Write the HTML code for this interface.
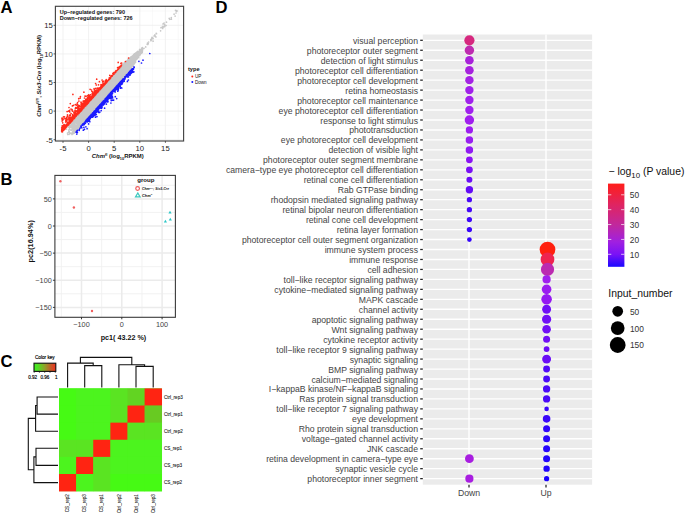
<!DOCTYPE html>
<html><head><meta charset="utf-8"><style>
html,body{margin:0;padding:0;background:#fff;}
svg{display:block;font-family:"Liberation Sans", sans-serif;}
</style></head><body>
<svg width="685" height="513" viewBox="0 0 685 513">
<rect width="685" height="513" fill="#fff"/>
<text x="0.6" y="13.2" font-size="16.6" font-weight="bold" fill="#000">A</text>
<text x="0.6" y="185" font-size="16.6" font-weight="bold" fill="#000">B</text>
<text x="0.6" y="366.9" font-size="16.6" font-weight="bold" fill="#000">C</text>
<text x="215.6" y="13.2" font-size="16.6" font-weight="bold" fill="#000">D</text>
<rect x="55.4" y="6.3" width="128.2" height="134.7" fill="#fff"/>
<line x1="75.80" y1="6.3" x2="75.80" y2="141.0" stroke="#f5f5f5" stroke-width="0.6"/>
<line x1="101.40" y1="6.3" x2="101.40" y2="141.0" stroke="#f5f5f5" stroke-width="0.6"/>
<line x1="127.00" y1="6.3" x2="127.00" y2="141.0" stroke="#f5f5f5" stroke-width="0.6"/>
<line x1="152.60" y1="6.3" x2="152.60" y2="141.0" stroke="#f5f5f5" stroke-width="0.6"/>
<line x1="178.20" y1="6.3" x2="178.20" y2="141.0" stroke="#f5f5f5" stroke-width="0.6"/>
<line x1="55.4" y1="125.40" x2="183.6" y2="125.40" stroke="#f5f5f5" stroke-width="0.6"/>
<line x1="55.4" y1="96.80" x2="183.6" y2="96.80" stroke="#f5f5f5" stroke-width="0.6"/>
<line x1="55.4" y1="68.20" x2="183.6" y2="68.20" stroke="#f5f5f5" stroke-width="0.6"/>
<line x1="55.4" y1="39.60" x2="183.6" y2="39.60" stroke="#f5f5f5" stroke-width="0.6"/>
<line x1="55.4" y1="11.00" x2="183.6" y2="11.00" stroke="#f5f5f5" stroke-width="0.6"/>
<line x1="63.00" y1="6.3" x2="63.00" y2="141.0" stroke="#eeeeee" stroke-width="0.8"/>
<line x1="55.4" y1="139.70" x2="183.6" y2="139.70" stroke="#eeeeee" stroke-width="0.8"/>
<line x1="88.60" y1="6.3" x2="88.60" y2="141.0" stroke="#eeeeee" stroke-width="0.8"/>
<line x1="55.4" y1="111.10" x2="183.6" y2="111.10" stroke="#eeeeee" stroke-width="0.8"/>
<line x1="114.20" y1="6.3" x2="114.20" y2="141.0" stroke="#eeeeee" stroke-width="0.8"/>
<line x1="55.4" y1="82.50" x2="183.6" y2="82.50" stroke="#eeeeee" stroke-width="0.8"/>
<line x1="139.80" y1="6.3" x2="139.80" y2="141.0" stroke="#eeeeee" stroke-width="0.8"/>
<line x1="55.4" y1="53.90" x2="183.6" y2="53.90" stroke="#eeeeee" stroke-width="0.8"/>
<line x1="165.40" y1="6.3" x2="165.40" y2="141.0" stroke="#eeeeee" stroke-width="0.8"/>
<line x1="55.4" y1="25.30" x2="183.6" y2="25.30" stroke="#eeeeee" stroke-width="0.8"/>
<path d="M114.6 87.3h0M118.2 78.9h0M89.3 116.1h0M109.7 87.5h0M116.7 82.6h0M107.5 82.2h0M82.1 124.0h0M120.1 80.0h0M84.0 110.3h0M90.9 105.3h0M123.3 70.5h0M73.7 131.0h0M97.1 99.2h0M109.6 89.5h0M103.0 92.8h0M97.9 94.0h0M98.4 104.7h0M134.8 55.9h0M88.8 116.6h0M106.8 84.1h0M91.5 103.8h0M95.1 97.6h0M123.9 68.1h0M93.4 102.4h0M140.5 53.0h0M99.8 95.0h0M88.2 115.4h0M73.6 122.7h0M82.1 118.8h0M115.9 80.3h0M120.3 69.1h0M92.2 107.2h0M125.7 73.5h0M81.6 121.8h0M87.5 109.9h0M67.7 134.5h0M81.2 115.4h0M94.7 101.4h0M127.2 63.0h0M130.5 64.4h0M113.2 88.4h0M109.2 91.3h0M85.0 120.7h0M78.5 127.2h0M107.0 96.4h0M126.8 72.1h0M85.2 115.8h0M96.2 94.1h0M101.0 102.1h0M106.0 94.1h0M117.5 84.8h0M125.0 74.4h0M118.5 69.5h0M128.5 68.5h0M107.7 93.5h0M87.2 114.1h0M95.5 95.0h0M130.7 59.2h0M101.7 99.4h0M103.9 99.9h0M107.6 92.4h0M116.8 72.0h0M141.9 51.1h0M81.4 122.5h0M91.9 100.4h0M124.0 68.1h0M102.3 100.8h0M121.3 69.7h0M95.4 107.1h0M95.9 94.8h0M122.3 73.8h0M129.0 68.9h0M78.5 115.2h0M117.7 70.3h0M121.5 75.4h0M106.7 82.7h0M106.8 89.2h0M123.1 65.9h0M118.5 80.2h0M106.3 93.7h0M119.8 80.6h0M121.4 73.9h0M114.8 74.5h0M99.1 97.7h0M117.0 82.9h0M95.3 107.3h0M106.9 86.2h0M99.5 96.9h0M117.0 84.0h0M105.6 86.9h0M114.2 80.5h0M115.4 78.3h0M99.4 97.7h0M92.8 105.6h0M128.5 60.5h0M119.5 74.5h0M131.4 66.2h0M87.7 117.3h0M74.6 123.1h0M109.4 80.8h0M93.7 101.8h0M96.8 93.8h0M98.0 100.9h0M125.8 73.2h0M104.2 92.3h0M108.6 84.3h0M90.3 108.9h0M84.7 112.4h0M114.4 87.6h0M140.2 49.9h0M82.7 123.4h0M104.8 93.0h0M131.0 65.4h0M97.5 99.0h0M111.1 90.9h0M93.2 106.0h0M97.8 97.7h0M123.8 77.1h0M123.5 73.4h0M116.1 72.9h0M77.5 121.9h0M76.6 128.4h0M80.5 121.8h0M106.0 90.5h0M85.2 121.0h0M69.7 127.6h0M96.6 105.6h0M110.2 81.1h0M103.5 93.4h0M122.3 72.3h0M115.3 75.2h0M104.4 90.3h0M103.4 98.9h0M94.2 107.3h0M75.2 119.8h0M127.9 68.9h0M83.6 116.2h0M87.8 114.4h0M142.1 50.0h0M98.3 102.0h0M108.4 95.2h0M92.9 109.5h0M107.5 96.2h0M75.5 126.1h0M70.6 133.0h0M91.0 106.8h0M96.1 95.9h0M91.2 109.6h0M133.7 57.4h0M125.1 63.4h0M111.0 81.4h0M113.9 81.6h0M130.7 59.1h0M115.6 74.0h0M102.8 101.1h0M85.5 119.2h0M125.6 66.8h0M98.2 96.5h0M124.7 66.0h0M105.9 90.1h0M121.6 76.8h0M82.7 113.1h0M94.2 96.6h0M112.6 84.9h0M98.1 97.6h0M88.7 116.1h0M82.3 113.3h0M103.9 99.3h0M92.8 102.4h0M104.8 95.0h0M93.7 109.9h0M118.3 69.7h0M114.6 81.6h0M108.1 81.2h0M104.6 85.4h0M90.9 112.7h0M112.8 76.2h0M95.7 101.9h0M128.6 68.7h0M124.2 77.3h0M88.9 110.4h0M111.8 86.8h0M114.2 77.6h0M116.7 72.3h0M113.1 76.6h0M98.0 92.0h0M113.2 84.5h0M105.0 97.6h0M120.0 68.3h0M82.7 116.4h0M85.9 106.2h0M130.8 61.3h0M133.5 59.3h0M108.8 94.0h0M88.4 108.1h0M111.0 91.7h0M116.8 78.9h0M100.3 89.8h0M92.5 108.5h0M122.3 73.8h0M78.9 125.1h0M124.4 74.1h0M134.6 59.0h0M80.2 125.5h0M112.2 87.2h0M109.8 80.5h0M96.0 101.3h0M111.3 87.0h0M83.1 109.2h0M89.2 107.4h0M118.6 79.8h0M86.6 113.0h0M131.6 57.8h0M71.5 125.9h0M123.9 69.2h0M86.4 106.1h0M131.7 56.5h0M76.5 128.6h0M94.9 99.6h0M82.2 113.2h0M102.6 90.1h0M97.5 97.9h0M104.5 97.7h0M92.1 103.1h0M74.4 125.5h0M99.7 96.1h0M83.8 115.9h0M127.4 61.5h0M110.4 89.5h0M98.2 96.2h0M118.0 74.5h0M107.2 92.8h0M112.4 90.3h0M102.0 96.2h0M111.6 80.6h0M123.7 75.1h0M135.3 54.8h0M81.2 114.3h0M117.5 82.3h0M87.1 109.2h0M117.2 79.6h0M98.4 104.3h0M73.7 128.2h0M132.3 58.6h0M141.7 51.6h0M97.8 96.1h0M92.7 107.2h0M101.8 97.8h0M110.8 78.2h0M85.4 108.7h0M123.1 78.2h0M104.0 94.7h0M118.2 79.0h0M114.8 82.0h0M105.8 97.6h0M97.5 103.6h0M102.4 88.6h0M101.7 93.6h0M93.7 107.0h0M132.3 66.5h0M118.7 69.8h0M81.7 118.1h0M133.7 60.7h0M87.4 111.4h0M117.9 72.7h0M97.9 94.8h0M98.0 102.1h0M99.5 93.6h0M80.3 115.4h0M74.0 133.2h0M91.7 100.8h0M134.8 62.3h0M89.1 106.3h0M132.3 64.0h0M93.8 100.5h0M127.8 71.1h0M120.2 73.6h0M94.5 99.9h0M82.1 121.0h0M96.9 99.6h0M78.8 120.8h0M95.5 100.0h0M133.2 60.4h0M125.9 63.5h0M115.0 83.5h0M80.1 112.5h0M114.9 75.1h0M101.1 99.6h0M110.3 84.3h0M103.8 97.2h0M110.1 89.6h0M111.1 82.5h0M69.1 134.3h0M109.2 91.4h0M114.0 80.8h0M76.2 125.4h0M102.5 99.5h0M101.9 96.5h0M96.1 104.4h0M130.4 65.0h0M129.4 66.1h0M94.0 108.4h0M97.2 101.5h0M122.5 66.4h0M78.2 126.6h0M90.3 106.0h0M116.0 77.5h0M99.5 101.0h0M105.3 84.9h0M88.9 105.1h0M134.1 62.8h0M134.2 59.2h0M97.6 101.6h0M126.9 62.7h0M95.1 106.9h0M117.0 82.9h0M86.6 111.9h0M88.9 115.3h0M93.9 98.1h0M90.5 104.0h0M96.0 107.3h0M91.1 110.0h0M100.8 95.1h0M99.2 99.1h0M91.7 106.6h0M94.6 99.0h0M95.7 106.8h0M109.9 87.2h0M87.7 110.8h0M92.1 112.2h0M109.0 83.0h0M117.5 79.5h0M117.0 72.9h0M139.6 50.7h0M98.5 99.0h0M133.0 63.9h0M109.8 79.9h0M85.3 109.9h0M97.1 103.8h0M113.4 76.0h0M82.6 116.5h0M115.5 86.8h0M78.9 114.3h0M110.7 81.1h0M89.8 106.6h0M101.5 90.0h0M86.0 118.7h0M138.6 54.9h0M94.8 106.6h0M138.0 55.8h0M99.2 94.5h0M95.7 105.7h0M107.9 81.2h0M100.7 103.9h0M78.4 119.6h0M97.5 99.8h0M116.9 82.4h0M106.3 92.4h0M85.4 117.6h0M105.6 89.6h0M91.8 106.7h0M97.8 103.5h0M75.9 122.1h0M130.2 64.6h0M69.1 129.6h0M96.4 102.1h0M129.2 67.7h0M115.1 79.9h0M118.0 81.0h0M94.9 110.1h0M111.0 89.3h0M103.3 93.4h0M108.1 91.0h0M99.4 104.7h0M130.2 60.9h0M96.1 97.9h0M104.9 95.8h0M81.6 124.6h0M93.7 100.5h0M115.1 83.9h0M91.5 107.7h0M97.1 98.3h0M134.3 55.1h0M82.5 120.6h0M104.3 85.8h0M95.2 105.1h0M97.3 98.3h0M125.1 66.8h0M136.9 53.1h0M112.7 79.7h0M96.5 104.0h0M91.8 112.6h0M117.2 85.1h0M97.6 102.2h0M94.4 99.9h0M91.1 109.2h0M93.1 100.2h0M115.6 74.4h0M133.5 63.8h0M76.7 130.2h0M130.8 61.2h0M127.1 69.8h0M76.0 120.2h0M84.4 115.8h0M82.4 120.1h0M99.1 91.3h0M112.5 78.1h0M116.4 79.9h0M107.6 91.0h0M98.2 93.8h0M95.7 106.9h0M80.5 115.1h0M132.2 61.4h0M103.7 88.6h0M89.0 111.8h0M119.5 68.8h0M109.2 87.0h0M92.1 112.3h0M121.8 70.0h0M98.5 100.4h0M98.2 93.4h0M96.9 107.7h0M82.6 110.7h0M89.3 113.1h0M120.8 73.5h0M105.8 93.0h0M90.0 113.5h0M127.8 63.0h0M87.6 107.0h0M113.9 76.0h0M80.1 122.4h0M114.0 76.4h0M78.7 124.8h0M99.2 100.7h0M98.4 95.6h0M98.2 105.1h0M104.6 84.9h0M104.3 96.9h0M94.1 109.7h0M86.3 119.5h0M109.7 86.4h0M89.5 109.5h0M91.4 108.2h0M115.0 79.3h0M99.3 99.2h0M93.8 98.4h0M99.0 95.7h0M85.5 114.1h0M102.1 96.1h0M102.0 91.8h0M105.5 91.8h0M116.8 79.8h0M111.7 81.9h0M102.6 96.0h0M108.5 87.1h0M95.0 96.3h0M105.0 97.5h0M89.0 109.4h0M101.1 91.1h0M83.4 120.1h0M119.5 77.1h0M127.8 68.1h0M83.0 117.7h0M87.1 112.8h0M127.1 69.0h0M81.3 114.5h0M125.0 73.4h0M99.7 103.0h0M110.2 81.3h0M91.9 110.3h0M135.7 56.0h0M108.2 83.4h0M101.8 100.8h0M121.5 68.0h0M86.0 116.6h0M118.5 81.2h0M93.8 107.4h0M83.8 115.6h0M95.2 104.6h0M131.7 66.7h0M132.8 57.6h0M95.9 99.8h0M69.1 125.0h0M93.5 108.2h0M78.1 125.6h0M102.0 89.0h0M110.6 90.3h0M126.7 63.6h0M120.4 69.4h0M93.3 104.3h0M93.8 105.1h0M125.6 72.0h0M78.0 121.9h0M88.3 115.6h0M92.1 100.6h0M96.1 102.1h0M105.6 88.5h0M121.9 74.0h0M132.9 59.0h0M120.0 72.2h0M121.0 66.6h0M108.1 88.4h0M114.9 77.3h0M94.2 105.7h0M123.7 70.4h0M108.3 89.1h0M116.6 73.8h0M110.6 85.3h0M95.8 101.8h0M138.8 51.7h0M101.8 93.9h0M113.8 77.6h0M93.9 98.4h0M114.1 88.8h0M97.5 98.4h0M108.3 83.7h0M126.7 65.8h0M100.7 93.7h0M92.7 106.0h0M91.8 112.3h0M72.0 124.5h0M127.6 68.1h0M130.3 62.6h0M83.9 116.4h0M91.5 100.2h0M90.6 114.5h0M95.5 101.1h0M123.3 78.4h0M112.0 82.4h0M134.3 59.2h0M117.9 81.5h0M114.7 86.4h0M133.0 56.5h0M70.0 127.5h0M94.1 108.5h0M94.8 99.8h0M129.1 69.8h0M102.5 88.0h0M98.2 96.0h0M69.6 128.9h0M93.9 110.2h0M104.7 86.6h0M99.1 104.8h0M95.2 100.0h0M95.3 104.5h0M100.3 95.0h0M91.3 100.4h0M117.9 76.2h0M132.5 58.8h0M121.0 72.2h0M140.6 51.3h0M116.3 80.1h0M121.9 70.0h0M121.0 77.0h0M82.6 117.8h0M93.6 99.6h0M115.1 75.4h0M114.9 83.9h0M130.7 60.7h0M121.3 79.6h0M95.1 98.2h0M94.4 97.1h0M91.5 104.1h0M107.7 84.9h0M113.4 82.8h0M95.4 98.3h0M90.9 101.5h0M124.9 69.8h0M108.1 92.9h0M112.0 85.8h0M94.9 108.2h0M98.8 100.4h0M92.0 101.8h0M91.3 109.3h0M113.0 89.9h0M98.7 93.3h0M97.9 95.5h0M102.1 88.3h0M117.1 81.8h0M80.5 123.8h0M73.1 126.4h0M123.6 64.2h0M115.5 78.4h0M80.4 124.8h0M119.5 74.5h0M120.9 75.5h0M101.2 101.0h0M142.3 51.4h0M82.4 119.1h0M132.7 57.1h0M95.1 99.6h0M109.1 92.3h0M105.2 84.9h0M101.2 92.1h0M84.5 118.1h0M88.6 114.8h0M78.2 119.0h0M93.7 108.7h0M97.6 104.0h0M132.0 57.2h0M87.8 116.8h0M131.4 60.6h0M119.2 78.1h0M124.0 68.5h0M81.2 124.8h0M99.8 91.9h0M86.9 117.0h0M103.5 88.2h0M111.7 86.9h0M116.5 71.6h0M97.0 98.0h0M88.6 113.2h0M80.5 121.0h0M142.3 47.7h0M83.5 109.8h0M93.9 107.1h0M132.3 57.8h0M116.4 84.3h0M95.9 101.4h0M87.5 105.0h0M90.7 113.0h0M94.8 99.9h0M74.9 131.4h0M96.9 105.1h0M105.7 87.7h0M99.2 104.5h0M101.9 96.5h0M123.9 72.9h0M131.9 61.7h0M97.3 100.6h0M119.7 79.9h0M121.7 78.0h0M112.2 82.2h0M89.6 109.7h0M117.9 72.6h0M120.8 70.9h0M117.2 74.3h0M96.7 94.2h0M92.3 105.2h0M98.3 103.2h0M76.2 127.5h0M104.4 99.3h0M93.4 109.1h0M91.3 105.8h0M104.0 87.2h0M100.7 103.2h0M88.9 109.6h0M113.4 87.7h0M113.1 77.2h0M90.7 103.9h0M95.8 95.4h0M87.4 110.9h0M115.4 73.5h0M101.3 98.2h0M112.3 76.4h0M122.4 67.1h0M89.5 102.1h0M119.3 76.8h0M95.2 104.6h0M115.9 79.4h0M78.0 114.8h0M110.3 79.2h0M113.6 76.3h0M92.2 109.4h0M84.7 117.7h0M118.8 79.9h0M98.6 99.7h0M120.1 77.7h0M116.0 72.6h0M115.4 83.5h0M99.5 103.3h0M83.6 116.9h0M104.2 96.3h0M90.2 103.2h0M91.4 111.3h0M98.8 99.1h0M96.3 104.2h0M81.2 118.0h0M97.6 98.6h0M85.3 108.2h0M90.4 108.1h0M114.5 77.0h0M74.2 120.6h0M104.8 98.4h0M89.2 115.1h0M98.2 95.7h0M84.9 116.3h0M112.0 82.1h0M131.0 62.4h0M104.7 92.3h0M87.4 108.2h0M116.8 72.9h0M94.7 101.9h0M119.1 77.1h0M102.2 89.2h0M96.9 101.3h0M113.6 85.1h0M95.5 104.9h0M101.9 89.9h0M99.1 101.2h0M90.8 106.3h0M97.5 102.7h0M131.4 57.0h0M87.3 105.3h0M72.8 126.6h0M107.9 82.2h0M68.2 132.5h0M96.3 98.6h0M96.4 103.4h0M128.1 65.5h0M85.9 114.4h0M116.8 77.4h0M134.0 59.4h0M80.1 121.8h0M80.2 114.6h0M84.3 107.6h0M124.7 75.4h0M128.3 61.4h0M141.2 51.6h0M83.5 115.5h0M108.1 86.3h0M111.8 86.2h0M138.6 57.5h0M107.7 85.8h0M83.9 110.1h0M96.5 98.6h0M89.0 108.7h0M92.3 105.3h0M138.0 55.5h0M78.7 117.1h0M76.1 128.8h0M112.1 79.2h0M69.3 127.5h0M92.2 102.7h0M109.6 92.4h0M126.1 70.2h0M112.9 84.5h0M97.0 99.4h0M123.2 69.5h0M72.5 121.5h0M120.6 68.2h0M100.7 89.6h0M119.3 69.0h0M86.3 109.2h0M84.1 109.4h0M107.6 93.6h0M97.8 104.4h0M135.1 57.4h0M89.9 110.2h0M110.6 80.6h0M107.7 92.4h0M83.3 119.8h0M92.7 107.8h0M93.5 110.5h0M96.0 107.3h0M115.5 84.9h0M88.8 106.4h0M112.6 76.4h0M103.6 97.3h0M116.9 81.8h0M126.2 69.8h0M91.5 111.0h0M116.7 78.4h0M117.8 80.7h0M93.7 103.3h0M115.9 81.1h0M79.6 114.8h0M102.8 93.2h0M101.1 96.0h0M114.0 85.7h0M93.7 107.5h0M109.2 80.8h0M121.3 78.9h0M91.1 114.1h0M100.3 98.2h0M96.9 97.7h0M96.2 103.7h0M107.7 82.5h0M110.3 82.5h0M72.2 133.3h0M83.9 117.0h0M84.1 112.9h0M96.1 100.6h0M105.2 88.7h0M117.0 85.7h0M130.1 66.1h0M96.3 99.7h0M82.0 123.1h0M111.4 80.8h0M93.3 106.3h0M128.6 61.1h0M127.5 67.6h0M128.4 62.5h0M127.1 67.6h0M93.4 105.7h0M119.4 69.2h0M94.6 110.0h0M108.4 87.2h0M138.6 53.7h0M73.7 128.8h0M97.6 104.3h0M116.5 76.2h0M81.9 117.2h0M118.2 70.4h0M98.7 104.0h0M126.8 69.6h0M88.1 115.4h0M100.1 95.7h0M107.6 94.5h0M85.3 115.7h0M73.7 129.8h0M93.4 105.3h0M84.5 115.0h0M107.5 96.1h0M139.8 54.9h0M109.1 79.9h0M115.2 81.3h0M90.1 115.6h0M127.4 64.9h0M127.6 69.7h0M78.0 128.9h0M113.4 77.2h0M111.5 79.2h0M117.7 73.3h0M129.4 66.5h0M95.8 104.6h0M119.6 74.6h0M109.4 93.6h0M98.6 96.9h0M99.1 91.6h0M83.1 116.2h0M83.8 114.1h0M93.2 109.9h0M110.1 92.8h0M104.6 96.7h0M126.1 63.1h0M105.9 91.8h0M98.7 99.9h0M94.5 104.3h0M116.2 84.1h0M84.8 115.0h0M101.4 101.8h0M111.3 85.2h0M141.4 49.1h0M142.0 49.7h0M120.5 72.7h0M111.4 83.4h0M124.0 68.2h0M93.1 111.9h0M93.0 105.8h0M92.6 107.4h0M124.1 71.5h0M95.6 107.9h0M97.0 99.9h0M96.5 104.8h0M89.8 112.3h0M101.2 95.1h0M90.7 113.3h0M101.8 96.6h0M87.6 105.6h0M103.2 90.5h0M130.2 60.8h0M95.9 103.4h0M98.2 98.3h0M127.2 71.8h0M112.9 84.7h0M91.2 111.3h0M108.3 84.9h0M117.0 72.7h0M95.8 95.6h0M117.6 73.9h0M106.9 84.7h0M85.9 109.5h0M129.0 70.6h0M89.3 115.1h0M107.2 82.8h0M100.5 100.3h0M87.8 105.8h0M107.2 95.0h0M106.9 94.1h0M101.4 97.4h0M96.7 100.3h0M121.4 68.8h0M114.5 83.4h0M89.1 103.8h0M112.1 78.9h0M107.0 91.0h0M116.8 80.0h0M126.7 73.2h0M122.9 75.8h0M126.3 74.2h0M85.6 113.8h0M97.8 107.0h0M112.0 86.3h0M88.1 103.3h0M78.3 119.0h0M103.6 96.7h0M118.0 76.7h0M134.5 63.2h0M108.4 83.8h0M83.9 113.2h0M101.7 89.8h0M128.2 68.3h0M124.3 66.5h0M98.9 97.7h0M98.0 106.0h0M91.2 107.3h0M134.3 61.5h0M85.2 119.1h0M96.6 101.7h0M97.2 105.3h0M83.8 118.1h0M101.7 94.6h0M121.2 67.3h0M111.4 83.3h0M135.8 54.8h0M108.7 82.0h0M88.7 103.9h0M105.4 96.2h0M93.5 108.7h0M107.8 92.9h0M115.7 84.2h0M93.8 97.3h0M122.7 66.3h0M114.9 86.0h0M89.9 102.9h0M112.1 86.3h0M102.0 92.7h0M101.3 102.4h0M96.7 107.7h0M99.1 96.7h0M88.2 117.6h0M125.8 61.5h0M91.6 103.2h0M116.3 85.0h0M78.1 117.7h0M95.6 103.3h0M93.9 101.7h0M98.3 101.7h0M104.7 88.1h0M122.4 75.0h0M117.2 81.3h0M103.8 86.4h0M68.7 132.5h0M107.0 82.1h0M94.5 109.5h0M77.7 128.6h0M95.4 101.5h0M97.8 101.7h0M79.6 116.5h0M117.5 84.7h0M106.9 89.5h0M136.0 58.4h0M96.3 95.4h0M94.1 110.3h0M107.9 89.9h0M115.4 79.0h0M128.1 64.2h0M82.3 120.6h0M92.9 109.1h0M94.6 101.2h0M113.0 81.7h0M96.5 95.7h0M94.4 98.7h0M105.2 93.9h0M110.4 82.8h0M101.5 96.3h0M111.0 79.3h0M100.5 92.5h0M117.9 71.8h0M135.2 62.4h0M98.4 106.3h0M117.3 74.4h0M79.2 117.7h0M85.0 107.8h0M127.6 72.5h0M95.2 99.8h0M89.2 113.3h0M85.2 119.6h0M98.7 101.4h0M116.7 78.8h0M87.3 116.1h0M116.0 79.3h0M85.3 113.6h0M121.4 77.6h0M141.2 50.0h0M119.6 80.1h0M74.3 132.7h0M94.0 106.0h0M93.2 102.6h0M113.0 82.0h0M127.2 63.9h0M103.1 96.5h0M116.0 81.1h0M103.7 98.4h0M132.2 60.1h0M119.4 73.9h0M105.9 96.3h0M130.3 58.6h0M93.3 107.3h0M112.6 82.4h0M106.0 86.9h0M124.6 68.3h0M134.5 57.4h0M105.4 93.0h0M95.2 100.9h0M113.6 84.6h0M98.1 97.6h0M97.3 100.7h0M103.5 93.0h0M106.6 83.5h0M111.4 84.2h0M108.6 92.5h0M123.6 68.7h0M132.5 57.0h0M86.1 107.8h0M98.2 104.9h0M82.2 123.0h0M109.8 87.0h0M86.5 104.9h0M93.2 105.6h0M110.9 90.2h0M88.2 112.4h0M106.3 92.6h0M115.8 86.7h0M90.7 114.2h0M93.8 107.5h0M106.5 96.0h0M125.9 63.3h0M87.2 107.2h0M103.3 94.4h0M107.8 85.3h0M92.5 101.0h0M114.0 83.3h0M111.7 77.1h0M102.3 96.5h0M103.5 89.5h0M109.1 86.7h0M120.2 81.7h0M95.0 103.4h0M111.4 84.8h0M123.2 71.4h0M96.1 96.8h0M104.8 98.6h0M94.6 102.4h0M106.2 94.5h0M95.6 108.0h0M94.4 102.5h0M93.0 101.9h0M100.1 103.7h0M93.1 97.5h0M112.5 77.7h0M84.8 113.9h0M98.7 102.1h0M84.2 118.5h0M125.6 68.5h0M114.2 75.9h0M108.4 82.5h0M80.5 125.6h0M97.1 100.7h0M114.1 83.5h0M112.9 82.0h0M84.2 114.4h0M128.5 64.6h0M102.7 97.3h0M124.5 65.4h0M81.4 118.8h0M115.4 81.0h0M112.6 89.9h0M115.7 78.3h0M97.5 99.1h0M89.4 106.5h0M105.7 95.2h0M117.2 71.8h0M76.1 129.9h0M116.1 76.9h0M97.2 97.5h0M73.5 123.9h0M96.0 104.8h0M91.0 110.0h0M102.1 100.0h0M120.8 68.9h0M95.3 95.3h0M115.8 77.5h0M90.1 114.3h0M107.7 85.3h0M103.2 88.8h0M97.5 92.6h0M125.0 72.4h0M100.7 92.7h0M109.8 86.5h0M126.4 67.1h0M78.0 125.2h0M131.5 65.1h0M114.9 79.1h0M135.6 53.3h0M103.5 100.0h0M97.8 96.1h0M95.1 105.7h0M90.4 113.9h0M108.0 84.0h0M102.8 93.9h0M92.3 111.3h0M106.2 92.5h0M102.2 99.7h0M121.0 68.7h0M124.0 75.6h0M96.8 106.5h0M100.0 96.7h0M88.3 115.3h0M95.2 107.1h0M105.1 96.0h0M81.9 112.0h0M106.9 82.9h0M104.3 88.1h0M102.6 90.6h0M82.7 123.6h0M98.3 98.8h0M109.0 86.0h0M91.2 102.8h0M102.6 100.8h0M91.3 99.7h0M91.7 103.6h0M94.8 103.6h0M114.4 74.6h0M121.9 74.1h0M82.0 113.8h0M111.2 90.0h0M81.2 120.8h0M142.3 48.4h0M113.5 82.1h0M120.5 72.3h0M91.9 101.2h0M95.7 108.1h0M101.8 88.3h0M110.7 81.6h0M95.9 95.4h0M129.5 60.2h0M95.8 97.1h0M99.3 92.5h0M118.3 70.1h0M98.3 94.8h0M96.0 105.6h0M88.1 114.5h0M102.3 88.6h0M102.9 89.8h0M95.1 100.0h0M131.1 63.5h0M92.4 100.7h0M88.6 105.6h0M88.8 116.9h0M95.6 103.4h0M94.0 104.5h0M107.8 83.4h0M115.3 83.2h0M82.9 113.3h0M95.1 108.3h0M89.0 116.4h0M118.0 80.5h0M121.6 77.2h0M126.7 62.0h0M78.6 121.0h0M134.1 55.9h0M89.7 116.1h0M97.9 100.2h0M105.6 94.7h0M116.5 73.4h0M113.6 83.9h0M132.5 59.1h0M91.8 107.2h0M121.6 70.7h0M96.2 98.8h0M124.4 72.0h0M132.7 57.1h0M114.7 80.0h0M105.6 87.5h0M82.9 123.3h0M122.8 65.9h0M91.1 106.1h0M86.4 108.7h0M125.7 71.7h0M102.0 96.1h0M138.8 51.6h0M118.5 78.3h0M139.4 51.8h0M112.9 78.0h0M117.5 80.0h0M89.5 103.4h0M94.2 108.6h0M114.0 83.3h0M142.0 51.9h0M108.5 81.2h0M84.4 115.6h0M82.5 118.3h0M113.7 86.3h0M123.4 66.0h0M103.6 89.1h0M115.9 79.9h0M120.3 72.0h0M103.9 86.7h0M115.6 83.0h0M104.4 99.2h0M125.8 70.5h0M119.6 79.1h0M90.2 104.4h0M123.9 71.8h0M112.5 81.1h0M138.6 52.6h0M111.4 86.0h0M129.4 66.3h0M108.9 91.9h0M125.1 68.9h0M96.1 95.6h0M84.9 120.5h0M84.5 112.1h0M105.2 92.8h0M102.4 90.2h0M117.3 75.3h0M126.0 68.1h0M132.6 58.2h0M127.5 61.5h0M93.5 101.5h0M104.9 90.2h0M119.8 79.4h0M75.8 121.7h0M140.3 52.9h0M109.5 93.0h0M120.9 81.3h0M111.0 91.4h0M112.1 82.9h0M125.0 74.9h0M92.0 108.6h0M110.5 84.5h0M95.2 106.9h0M130.8 62.4h0M94.9 109.9h0M102.1 93.0h0M107.3 87.8h0M91.2 111.1h0M134.6 55.6h0M135.5 53.1h0M88.6 115.4h0M104.4 89.6h0M96.1 106.2h0M108.3 91.2h0M94.1 103.6h0M110.9 89.5h0M90.5 104.9h0M139.8 49.6h0M129.0 62.1h0M80.7 126.1h0M129.0 63.2h0M85.4 118.5h0M121.4 66.0h0M111.9 86.1h0M130.7 63.5h0M76.4 128.7h0M107.3 89.5h0M141.5 49.4h0M108.0 94.1h0M100.4 96.6h0M82.3 124.2h0M128.7 59.5h0M136.6 54.3h0M113.3 87.8h0M81.0 117.2h0M86.4 119.7h0M130.3 63.8h0M96.9 100.1h0M84.5 112.7h0M124.1 68.2h0M82.0 111.3h0M116.9 83.9h0M88.0 109.3h0M114.2 78.2h0M121.2 80.1h0M112.6 84.6h0M103.7 90.9h0M97.7 100.2h0M97.3 98.8h0M81.8 110.3h0M86.4 108.1h0M127.2 63.6h0M75.8 117.2h0M108.8 91.3h0M118.7 73.8h0M127.3 61.1h0M78.6 128.3h0M106.3 96.1h0M139.4 55.5h0M112.2 89.4h0M116.5 73.0h0M114.2 76.1h0M111.0 83.1h0M94.0 99.4h0M73.3 126.4h0M104.4 88.6h0M95.9 97.2h0M106.3 95.8h0M108.5 93.5h0M137.7 56.3h0M94.0 98.7h0M116.3 81.0h0M116.5 74.9h0M91.5 99.6h0M109.7 92.1h0M105.7 89.4h0M94.9 101.2h0M108.5 81.5h0M112.3 78.4h0M82.8 123.5h0M112.2 78.0h0M97.9 100.5h0M96.3 105.1h0M100.0 103.3h0M113.3 75.3h0M122.1 67.5h0M139.8 53.9h0M86.9 118.9h0M96.9 94.4h0M98.0 95.5h0M120.2 74.2h0M95.8 104.7h0M93.3 106.7h0M111.7 83.7h0M104.1 92.0h0M122.5 65.9h0M110.1 90.3h0M104.5 86.1h0M82.5 113.5h0M133.9 59.9h0M99.0 94.6h0M82.4 123.9h0M88.9 113.9h0M98.2 97.1h0M97.4 97.2h0M93.4 111.0h0M69.6 133.3h0M76.7 123.3h0M139.2 55.1h0M107.7 91.6h0M109.9 83.3h0M104.8 85.4h0M100.7 91.5h0M95.9 105.9h0M130.6 61.0h0M112.5 77.3h0M92.6 104.2h0M105.9 95.3h0M75.9 116.9h0M97.4 104.2h0M69.6 125.9h0M98.2 101.2h0M94.1 109.2h0M105.4 90.9h0M82.1 112.8h0M115.8 81.4h0M106.6 94.0h0M112.5 85.3h0M84.1 121.6h0M109.3 81.8h0M71.3 130.2h0M88.1 107.3h0M77.0 123.2h0M81.5 118.7h0M74.2 128.1h0M118.1 83.4h0M94.3 102.7h0M133.9 55.8h0M97.9 99.2h0M79.3 114.9h0M75.2 128.5h0M123.6 67.4h0M88.0 113.4h0M92.7 107.5h0M98.6 99.1h0M69.0 129.5h0M100.2 104.1h0M104.7 95.9h0M92.2 104.4h0M117.4 71.2h0M120.8 68.6h0M111.1 88.9h0M101.6 89.5h0M81.1 125.3h0M109.9 82.4h0M110.9 78.5h0M104.8 85.2h0M88.5 109.8h0M124.3 62.8h0M104.0 97.0h0M118.3 69.3h0M109.6 89.2h0M132.6 62.5h0M115.8 84.6h0M114.2 79.8h0M88.0 109.7h0M107.0 94.8h0M77.1 115.9h0M77.9 121.6h0M108.3 91.9h0M91.0 108.0h0M103.1 88.0h0M122.7 75.3h0M122.6 78.7h0M116.3 86.1h0M84.7 117.4h0M141.0 51.8h0M116.8 76.1h0M89.6 114.5h0M92.6 104.3h0M127.6 70.4h0M97.1 99.4h0M93.2 108.4h0M85.7 112.8h0M89.1 115.7h0M96.9 98.2h0M96.9 107.9h0M98.1 97.1h0M98.1 95.0h0M87.4 104.5h0M86.8 105.1h0M119.0 72.5h0M90.3 105.6h0M110.8 89.4h0M71.8 134.1h0M111.0 86.1h0M91.0 100.7h0M95.2 103.6h0M88.7 117.1h0M118.7 81.4h0M123.3 66.2h0M101.2 93.9h0M112.4 79.4h0M104.0 96.4h0M126.5 62.8h0M126.3 72.1h0M89.9 105.1h0M106.4 94.9h0M105.9 98.0h0M82.7 113.4h0M132.3 65.3h0M134.1 62.7h0M96.1 102.8h0M104.2 96.1h0M75.2 129.9h0M91.9 103.4h0M95.2 99.2h0M98.6 92.5h0M105.9 97.4h0M93.3 106.5h0M108.0 83.8h0M91.0 111.8h0M124.5 65.3h0M106.1 88.0h0M110.2 91.2h0M91.0 113.2h0M106.0 91.7h0M113.8 78.5h0M93.9 108.2h0M95.0 101.1h0M118.4 79.5h0M92.8 108.8h0M81.4 114.0h0M128.9 59.2h0M102.1 91.6h0M91.5 112.8h0M89.4 114.2h0M132.2 61.7h0M77.1 122.7h0M114.2 83.4h0M87.2 117.3h0M86.3 112.8h0M92.8 109.4h0M102.1 95.2h0M106.8 90.4h0M133.3 58.8h0M88.0 108.6h0M95.2 109.4h0M141.4 52.8h0M98.9 104.9h0M99.3 94.0h0M114.7 86.8h0M132.6 63.0h0M111.0 90.3h0M74.4 130.8h0M108.8 92.3h0M99.8 98.5h0M111.2 77.7h0M82.5 113.2h0M132.7 61.0h0M126.6 70.4h0M111.1 81.6h0M110.3 78.9h0M95.6 104.6h0M82.4 117.4h0M133.6 56.0h0M110.6 90.2h0M101.7 96.5h0M131.9 60.8h0M94.6 101.6h0M133.7 61.3h0M131.0 65.3h0M111.3 86.5h0M101.7 99.3h0M122.6 69.9h0M129.7 67.2h0M130.7 57.2h0M109.1 83.3h0M105.2 93.2h0M116.9 77.7h0M121.2 68.8h0M117.1 72.5h0M97.8 96.0h0M88.2 108.2h0M96.6 100.3h0M95.5 98.1h0M118.6 78.8h0M76.1 126.5h0M95.3 106.6h0M74.2 122.4h0M88.2 111.9h0M121.4 66.6h0M90.1 108.7h0M129.2 66.9h0M125.9 73.8h0M88.6 105.0h0M94.4 97.8h0M106.6 94.2h0M87.8 108.0h0M97.4 107.1h0M126.0 69.1h0M101.2 95.5h0M130.4 65.0h0M94.3 99.1h0M96.8 93.4h0M107.5 90.6h0M112.0 86.7h0M102.4 91.1h0M90.2 108.2h0M122.2 64.9h0M126.6 63.4h0M97.3 99.5h0M112.4 77.1h0M70.7 130.0h0M132.6 55.9h0M98.0 93.0h0M114.9 76.1h0M117.4 76.2h0M83.0 117.3h0M100.9 103.6h0M106.4 86.8h0M106.2 90.1h0M91.4 100.8h0M91.0 104.0h0M113.7 78.7h0M102.6 88.0h0M97.9 100.4h0M74.3 121.5h0M125.8 73.4h0M81.4 120.4h0M76.9 126.8h0M78.9 122.1h0M103.4 97.6h0M80.2 122.1h0M111.5 89.0h0M78.6 121.3h0M123.9 75.1h0M116.2 84.4h0M74.6 122.6h0M136.3 58.0h0M95.6 103.7h0M96.5 100.1h0M96.2 98.0h0M118.7 74.4h0M122.4 73.2h0M90.6 104.3h0M117.2 80.0h0M130.4 62.2h0M100.2 99.4h0M125.5 70.2h0M76.9 117.2h0M114.9 80.9h0M107.1 91.3h0M121.4 72.9h0M127.3 67.0h0M94.3 99.3h0M85.8 114.7h0M115.1 74.2h0M103.9 88.0h0M93.2 111.9h0M73.7 122.1h0M81.5 124.5h0M94.1 100.6h0M133.6 59.2h0M116.0 73.0h0M115.0 85.0h0M112.2 89.7h0M129.6 62.9h0M132.5 65.7h0M70.5 127.1h0M97.3 106.0h0M79.7 118.3h0M115.5 72.8h0M103.6 94.9h0M81.6 110.7h0M139.3 55.6h0M78.5 123.4h0M117.8 74.6h0M87.6 106.7h0M110.3 86.5h0M126.5 69.9h0M125.5 62.8h0M98.1 104.7h0M86.2 109.8h0M95.4 98.1h0M124.7 70.9h0M106.2 89.3h0M82.6 109.9h0M126.8 69.8h0M120.3 78.0h0M130.4 59.8h0M134.5 56.9h0M105.9 89.0h0M96.4 101.4h0M97.1 94.1h0M97.7 96.0h0M94.6 102.2h0M126.2 69.0h0M116.0 75.2h0M83.1 121.9h0M123.2 67.9h0M94.0 101.7h0M88.9 106.3h0M92.5 108.9h0M128.0 59.4h0M93.1 103.9h0M106.1 85.0h0M93.6 97.6h0M118.6 81.7h0M117.6 84.2h0M137.7 53.2h0M92.1 107.9h0M95.6 109.1h0M123.4 65.2h0M88.2 110.8h0M116.4 75.5h0M111.8 89.5h0M102.7 99.9h0M89.1 111.8h0M97.7 100.2h0M105.5 95.3h0M126.8 60.9h0M129.2 62.9h0M112.6 89.1h0M130.7 60.8h0M96.3 105.4h0M117.7 71.2h0M93.1 104.1h0M80.8 123.6h0M88.4 110.3h0M85.7 112.3h0M100.1 91.4h0M102.1 88.0h0M133.6 58.9h0M136.1 56.5h0M112.7 88.7h0M106.8 87.7h0M121.0 75.8h0M127.2 66.3h0M127.9 67.9h0M100.3 99.9h0M134.6 54.0h0M68.9 131.2h0M89.3 114.9h0M127.9 63.6h0M134.5 56.9h0M108.9 88.4h0M135.3 57.1h0M87.0 105.7h0M105.5 86.2h0M80.5 123.7h0M116.3 72.6h0M96.8 100.6h0M116.2 76.2h0M95.9 94.7h0M94.3 107.0h0M85.6 110.9h0M134.6 53.8h0M103.2 91.4h0M93.9 103.3h0M112.2 88.9h0M78.4 120.0h0M100.6 101.6h0M93.2 106.1h0M99.3 105.2h0M87.2 115.4h0M106.5 93.8h0M88.6 111.7h0M125.5 64.9h0M92.8 100.3h0M81.1 116.8h0M74.3 132.1h0M105.0 97.7h0M97.3 100.1h0M119.2 80.9h0M109.8 88.9h0M128.7 66.1h0M72.7 133.4h0M127.5 71.1h0M117.4 80.2h0M94.2 100.4h0M110.1 90.9h0M91.0 113.3h0M114.3 85.4h0M111.9 88.4h0M93.2 97.5h0M103.9 97.0h0M121.4 70.5h0M107.8 87.9h0M141.5 52.9h0M108.9 87.4h0M92.8 105.3h0M99.0 93.7h0M129.7 68.4h0M116.9 75.4h0M117.2 70.9h0M93.7 99.8h0M84.4 121.2h0M103.8 90.0h0M95.7 98.9h0M116.9 85.7h0M93.9 98.6h0M103.9 98.0h0M128.9 69.8h0M105.1 98.4h0M104.7 86.4h0M135.4 53.9h0M115.0 73.5h0M94.8 96.4h0M109.8 86.5h0M117.8 79.2h0M99.0 101.6h0M101.5 95.5h0M102.0 94.6h0M99.6 93.7h0M108.0 92.0h0M124.7 71.5h0M92.8 106.8h0M110.7 81.9h0M87.9 112.8h0M94.3 105.7h0M104.7 95.9h0M98.2 96.9h0M94.6 106.7h0M85.5 120.3h0M137.5 53.9h0M140.4 53.5h0M93.1 110.8h0M104.5 94.1h0M88.8 106.6h0M131.6 57.8h0M93.1 106.1h0M112.2 88.6h0M104.4 86.0h0M121.0 68.5h0M122.9 76.2h0M101.7 89.4h0M109.3 88.3h0M105.4 92.8h0M107.7 95.9h0M106.2 87.6h0M95.8 106.5h0M92.9 103.5h0M112.0 77.7h0M91.0 106.1h0M125.6 75.2h0M96.5 101.0h0M80.9 121.4h0M94.0 106.0h0M116.6 71.5h0M96.4 105.1h0M103.4 89.1h0M107.6 92.2h0M74.1 132.8h0M109.6 90.5h0M109.1 86.3h0M85.2 109.4h0M82.5 113.0h0M110.2 86.4h0M85.8 114.1h0M105.3 94.4h0M75.2 129.8h0M102.4 94.6h0M110.2 80.2h0M99.9 99.8h0M97.4 106.3h0M121.8 78.6h0M102.1 94.4h0M95.7 104.5h0M123.8 63.9h0M100.3 94.5h0M109.2 87.8h0M107.6 89.4h0M121.9 69.3h0M81.2 111.4h0M124.4 67.4h0M98.5 103.8h0M106.7 86.8h0M92.3 111.3h0M111.6 87.1h0M116.8 83.9h0M101.2 98.7h0M101.6 94.7h0M108.1 92.3h0M91.7 101.5h0M105.7 91.6h0M140.5 51.1h0M91.6 113.6h0M134.1 56.9h0M96.2 106.3h0M124.9 76.5h0M123.2 66.4h0M95.3 102.0h0M118.4 70.8h0M115.1 86.8h0M91.9 112.0h0M83.6 118.9h0M132.7 56.7h0M136.6 53.8h0M107.1 83.0h0M104.6 98.1h0M125.5 67.1h0M117.1 75.1h0M97.8 95.4h0M114.3 84.5h0M130.9 58.9h0M93.3 106.2h0M81.1 111.6h0M92.8 112.3h0M104.7 88.3h0M121.5 77.5h0M103.7 94.4h0M89.8 113.7h0M123.9 70.5h0M111.0 87.1h0M121.8 78.9h0M97.4 102.0h0M96.2 105.7h0M124.7 73.2h0M125.5 67.3h0M105.7 96.4h0M99.9 93.1h0M126.2 63.6h0M93.2 109.5h0M86.9 111.7h0M81.2 112.8h0M81.9 122.6h0M90.9 112.1h0M94.2 103.6h0M114.5 74.6h0M72.1 124.4h0M102.8 93.6h0M95.0 105.7h0M107.4 86.7h0M119.4 75.9h0M92.3 103.0h0M90.3 104.6h0M96.0 96.1h0M82.1 123.4h0M75.3 124.9h0M83.8 115.9h0M109.6 92.2h0M93.3 100.5h0M134.3 63.5h0M88.8 111.1h0M122.2 75.2h0M98.0 99.3h0M88.5 105.1h0M112.6 88.0h0M114.0 79.1h0M98.6 99.4h0M105.9 85.2h0M85.8 107.5h0M132.3 59.8h0M119.2 70.6h0M111.7 81.0h0M112.2 88.0h0M96.8 107.9h0M92.4 108.3h0M102.6 91.8h0M110.3 81.4h0M86.8 117.7h0M99.9 103.7h0M114.7 77.4h0M110.1 85.9h0M115.2 85.8h0M96.8 102.5h0M132.2 64.2h0M135.4 56.3h0M122.3 68.6h0M107.9 89.1h0M118.4 77.6h0M107.5 92.2h0M89.5 110.0h0M132.6 63.6h0M103.1 94.6h0M120.4 73.1h0M106.9 96.0h0M116.4 81.8h0M115.9 85.1h0M106.8 96.9h0M81.3 124.4h0M80.2 119.0h0M95.7 103.2h0M81.9 112.4h0M94.2 109.6h0M122.6 70.6h0M116.3 85.5h0M90.9 110.7h0M96.5 105.8h0M102.7 97.2h0M119.5 73.3h0M95.3 102.5h0M76.8 123.0h0M103.5 94.6h0M119.8 67.9h0M134.5 54.4h0M95.6 100.5h0M98.8 96.4h0M95.3 101.6h0M96.5 106.0h0M91.7 111.1h0M104.4 89.9h0M88.5 107.8h0M100.8 103.1h0M98.2 100.9h0M93.8 100.6h0M117.3 79.4h0M98.6 92.1h0M140.1 49.9h0M104.8 86.8h0M94.2 100.5h0M131.3 58.0h0M95.1 103.1h0M92.5 100.6h0M127.9 70.4h0M90.6 112.0h0M119.7 81.2h0M93.7 108.3h0M120.9 68.6h0M104.3 99.7h0M116.2 80.9h0M96.4 103.0h0M98.2 103.3h0M94.4 107.2h0M99.2 91.1h0M127.9 71.0h0M114.6 77.7h0M104.0 89.8h0M107.9 87.8h0M86.6 116.8h0M99.7 96.4h0M95.4 96.1h0M95.0 101.8h0M114.8 86.6h0M101.0 93.1h0M127.4 64.4h0M130.1 64.2h0M106.1 96.2h0M96.1 97.0h0M93.1 99.1h0M77.8 122.1h0M140.0 52.8h0M94.1 101.8h0M98.4 103.9h0M87.9 117.9h0M82.8 117.8h0M130.2 62.5h0M83.9 115.3h0M119.5 73.3h0M99.0 91.0h0M84.8 121.4h0M73.4 128.1h0M128.5 59.4h0M126.2 66.8h0M86.2 116.2h0M118.7 82.8h0M96.6 102.4h0M94.0 99.4h0M114.3 86.9h0M127.3 63.3h0M96.8 98.4h0M82.6 110.4h0M132.5 63.6h0M99.0 94.5h0M111.7 86.6h0M118.0 70.9h0M99.4 90.5h0M88.1 109.7h0M120.2 74.9h0M102.6 93.9h0M107.2 91.9h0M115.4 75.7h0M92.4 101.3h0M86.1 116.8h0M104.9 91.3h0M99.0 91.6h0M118.2 70.2h0M89.5 110.7h0M107.7 87.8h0M99.2 91.6h0M82.9 116.5h0M117.5 72.6h0M81.9 123.9h0M98.2 104.4h0M83.9 112.2h0M119.4 75.4h0M95.7 97.2h0M97.8 95.0h0M66.6 129.1h0M116.2 75.2h0M118.9 74.1h0M134.4 60.5h0M133.1 62.2h0M97.1 99.4h0M86.3 116.2h0M119.5 69.6h0M93.3 102.1h0M94.9 98.9h0M121.5 79.2h0M107.1 84.6h0M76.4 125.8h0M117.5 84.0h0M93.6 110.5h0M112.5 80.8h0M122.6 72.7h0M85.0 117.8h0M109.5 83.4h0M89.2 114.9h0M102.2 97.8h0M105.0 94.2h0M98.0 94.0h0M95.1 96.5h0M123.4 70.1h0M119.5 79.1h0M89.1 105.4h0M87.4 103.9h0M106.8 91.4h0M132.5 62.3h0M92.1 102.5h0M127.7 68.8h0M102.7 94.6h0M132.8 56.1h0M116.9 71.5h0M97.5 97.9h0M122.7 64.6h0M96.2 96.7h0M109.0 83.4h0M98.9 99.7h0M95.3 99.0h0M98.5 103.1h0M93.4 98.8h0M127.2 68.7h0M74.3 125.7h0M112.7 83.8h0M136.4 57.9h0M117.5 76.3h0M127.9 67.0h0M84.3 114.9h0M119.2 80.1h0M78.8 123.2h0M103.7 87.3h0M95.0 103.7h0M102.4 101.0h0M104.8 89.0h0M122.9 74.6h0M90.3 105.7h0M72.5 128.1h0M94.1 101.9h0M95.8 102.7h0M79.9 124.4h0M89.2 111.6h0M110.4 84.1h0M94.7 107.7h0M139.0 53.4h0M114.1 87.4h0M108.0 95.5h0M126.0 63.0h0M103.7 97.0h0M96.6 104.1h0M94.8 101.9h0M120.2 67.4h0M107.0 83.8h0M90.1 109.9h0M105.4 94.0h0M95.0 102.0h0M102.6 90.3h0M88.4 117.6h0M92.7 101.4h0M105.7 91.7h0M101.9 94.5h0M99.1 94.8h0M84.1 117.3h0M85.2 110.3h0M113.6 87.7h0M120.9 79.1h0M82.3 116.8h0M124.4 73.1h0M88.6 107.0h0M104.7 85.2h0M84.7 117.0h0M87.4 105.4h0M96.0 104.5h0M97.1 103.8h0M76.9 125.0h0M79.7 123.7h0M131.8 62.3h0M87.2 108.2h0M102.5 88.2h0M94.2 106.2h0M96.9 99.1h0M97.6 94.2h0M93.4 108.5h0M100.9 91.3h0M89.6 113.4h0M105.7 92.0h0M134.0 57.1h0M83.0 121.9h0M89.7 113.5h0M117.8 71.9h0M81.1 114.4h0M114.0 75.1h0M83.8 117.6h0M141.2 52.7h0M121.7 66.5h0M96.2 97.4h0M101.5 88.7h0M95.0 99.5h0M102.6 91.6h0M105.5 84.6h0M102.3 90.1h0M109.0 86.5h0M88.8 115.9h0M128.1 66.8h0M141.8 48.2h0M93.5 101.1h0M97.1 107.7h0M123.2 69.9h0M105.1 85.2h0M108.1 95.0h0M98.8 95.0h0M78.3 115.6h0M100.6 97.9h0M114.3 82.5h0M98.8 104.4h0M131.4 59.5h0M93.3 104.8h0M102.7 99.5h0M107.3 83.4h0M100.1 100.6h0M88.1 108.3h0M115.4 79.8h0M134.3 63.6h0M97.3 103.0h0M87.1 118.6h0M124.1 64.6h0M103.2 96.6h0M87.5 115.5h0M90.1 113.2h0M95.0 98.0h0M110.8 89.4h0M93.9 100.4h0M104.8 87.8h0M83.1 113.9h0M96.3 100.1h0M106.1 95.9h0M91.5 107.9h0M96.0 103.3h0M101.7 97.2h0M133.0 65.4h0M96.2 100.1h0M112.7 86.9h0M96.7 94.4h0M96.2 108.0h0M131.3 65.2h0M93.4 100.2h0M107.6 90.5h0M95.3 97.1h0M116.5 77.3h0M139.4 53.4h0M73.7 123.1h0M95.5 99.8h0M124.9 67.7h0M91.1 108.3h0M97.6 96.4h0M81.5 120.2h0M89.8 111.3h0M108.1 84.9h0M99.2 91.5h0M120.9 72.3h0M86.9 110.0h0M103.9 98.4h0M107.9 93.3h0M88.5 109.9h0M91.0 110.6h0M89.8 113.7h0M87.6 105.0h0M80.2 124.9h0M84.7 115.8h0M95.5 103.8h0M112.4 77.3h0M112.7 75.9h0M101.6 92.7h0M104.7 86.2h0M111.2 81.7h0M98.3 103.9h0M104.3 89.7h0M122.4 73.2h0M82.5 121.0h0M125.5 71.3h0M83.5 118.9h0M105.7 86.5h0M98.3 96.8h0M72.6 132.8h0M89.7 103.9h0M84.3 115.8h0M98.5 95.1h0M134.7 60.8h0M116.6 76.4h0M114.2 75.6h0M111.3 80.1h0M138.7 52.6h0M109.7 89.7h0M98.6 105.6h0M101.4 96.6h0M119.3 80.7h0M111.1 82.5h0M114.9 86.4h0M81.9 117.2h0M125.3 68.2h0M115.0 87.3h0M114.6 83.6h0M91.4 102.7h0M83.6 110.3h0M98.0 105.2h0M108.5 92.8h0M94.9 105.6h0M79.1 122.1h0M86.2 111.9h0M89.6 114.9h0M116.5 72.4h0M133.1 57.5h0M108.8 93.1h0M75.9 118.5h0M91.9 107.7h0M119.0 71.5h0M115.5 74.3h0M116.6 75.8h0M119.9 77.3h0M95.9 102.4h0M100.4 96.5h0M113.5 76.5h0M101.7 90.0h0M95.2 101.7h0M102.2 90.3h0M127.6 71.9h0M98.2 106.0h0M92.1 105.5h0M103.0 93.0h0M97.5 105.9h0M92.9 103.1h0M96.7 107.5h0M81.8 113.5h0M89.8 104.6h0M89.7 102.7h0M82.3 118.6h0M100.7 92.2h0M132.4 63.1h0M86.3 114.5h0M128.2 66.3h0M107.1 84.8h0M106.7 83.8h0M105.2 91.6h0M117.2 80.4h0M110.1 78.6h0M96.2 108.2h0M74.8 124.4h0M104.7 98.3h0M131.4 61.5h0M117.2 80.9h0M88.8 103.0h0M129.5 60.2h0M77.3 124.9h0M87.2 104.3h0M133.8 62.2h0M70.7 133.4h0M89.7 111.6h0M92.0 109.1h0M100.1 94.3h0M93.7 107.5h0M88.3 108.6h0M96.4 95.6h0M130.9 62.8h0M82.9 112.8h0M133.3 65.2h0M107.7 90.9h0M121.3 75.9h0M120.9 76.7h0M98.3 97.8h0M115.5 79.3h0M118.9 68.9h0M116.3 80.9h0M137.6 51.5h0M70.9 123.1h0M90.5 109.9h0M129.3 59.8h0M95.7 109.2h0M95.0 96.2h0M85.7 111.9h0M93.6 102.1h0M97.5 106.4h0M102.0 101.2h0M140.3 52.4h0M110.4 78.6h0M125.1 72.4h0M122.8 69.2h0M122.6 71.1h0M118.3 71.5h0M89.9 107.3h0M97.5 100.9h0M86.9 110.5h0M103.5 100.7h0M93.7 109.8h0M95.5 96.9h0M117.8 84.7h0M97.2 107.5h0M99.5 101.6h0M112.8 89.2h0M104.6 97.9h0M87.6 103.8h0M100.6 101.6h0M116.7 75.6h0M107.5 94.8h0M98.9 99.1h0M116.4 75.3h0M101.6 93.7h0M109.6 86.9h0M99.7 98.7h0M88.2 109.6h0M134.6 58.0h0M91.9 110.3h0M104.9 88.9h0M136.1 53.0h0M97.4 97.9h0M118.4 79.0h0M132.8 62.6h0M105.0 85.2h0M90.3 115.4h0M71.9 129.6h0M89.7 106.8h0M96.4 102.6h0M121.5 71.4h0M104.0 100.2h0M84.4 109.0h0M124.1 77.1h0M90.4 113.8h0M93.1 106.6h0M95.3 95.1h0M133.0 57.9h0M111.0 90.3h0M95.9 99.2h0M102.2 88.5h0M113.3 89.5h0M103.2 86.6h0M130.9 68.4h0M108.8 93.2h0M112.4 79.0h0M131.2 62.2h0M96.4 106.9h0M87.8 118.2h0M136.4 54.2h0M77.8 117.9h0M133.9 63.5h0M90.1 112.4h0M88.0 117.1h0M132.5 64.9h0M137.2 54.0h0M106.5 91.2h0M95.8 98.9h0M120.5 69.1h0M95.6 101.1h0M75.9 126.9h0M72.9 124.3h0M100.6 94.8h0M93.8 99.3h0M107.5 90.5h0M78.4 115.9h0M119.2 69.3h0M82.7 116.4h0M83.9 114.7h0M117.4 75.7h0M97.9 95.3h0M135.7 54.7h0M76.7 127.4h0M105.6 96.4h0M89.0 116.9h0M86.1 117.1h0M82.5 120.5h0M96.8 103.4h0M96.0 98.1h0M110.7 92.7h0M97.1 101.0h0M95.7 96.2h0M89.1 108.5h0M84.4 112.9h0M95.1 104.5h0M69.8 126.0h0M132.7 65.1h0M94.7 108.0h0M112.0 79.0h0M122.0 66.1h0M90.8 104.9h0M86.1 118.7h0M125.8 72.9h0M83.1 114.0h0M84.7 110.6h0M89.9 113.4h0M78.3 127.7h0M102.2 89.0h0M111.9 82.5h0M109.5 93.7h0M90.6 106.2h0M94.8 106.9h0M95.9 95.2h0M103.7 94.3h0M122.5 68.1h0M78.5 118.0h0M133.1 57.5h0M90.7 108.6h0M95.0 107.0h0M98.3 99.3h0M100.9 89.0h0M140.3 53.4h0M88.9 109.7h0M123.4 73.2h0M88.4 109.7h0M115.3 86.6h0M87.7 113.2h0M113.1 82.1h0M106.9 88.6h0M135.0 59.5h0M107.0 85.8h0M105.8 96.2h0M85.8 114.6h0M104.4 85.3h0M80.9 116.5h0M92.8 100.3h0M131.8 61.3h0M111.6 90.8h0M94.7 106.4h0M121.8 76.3h0M118.8 79.7h0M116.5 71.6h0M80.8 114.2h0M87.0 107.6h0M106.9 83.7h0M100.3 92.2h0M115.0 84.1h0M89.0 116.2h0M96.7 99.8h0M117.3 78.2h0M97.8 105.6h0M97.5 96.7h0M89.0 102.8h0M91.9 112.9h0M117.6 81.5h0M89.4 107.9h0M99.7 94.3h0M106.6 92.7h0M133.4 55.5h0M132.8 61.7h0M104.8 85.9h0M89.2 102.3h0M123.4 76.9h0M123.2 71.0h0M108.9 80.1h0M91.6 112.7h0M113.5 83.3h0M118.8 70.6h0M72.8 133.7h0M86.3 105.5h0M104.9 91.5h0M102.7 100.2h0M96.5 96.3h0M108.7 93.2h0M73.2 130.7h0M133.3 56.3h0M95.2 98.7h0M99.9 89.9h0M111.0 90.4h0M110.6 83.6h0M114.4 88.4h0M134.8 60.6h0M116.5 74.5h0M125.7 66.9h0M91.5 105.0h0M100.2 101.1h0M104.9 98.0h0M82.2 112.7h0M88.3 109.1h0M90.6 102.5h0M127.2 67.7h0M120.8 78.7h0M104.3 95.1h0M105.0 91.5h0M103.4 92.0h0M123.8 68.7h0M105.0 91.1h0M94.7 103.2h0M118.3 80.4h0M132.7 56.1h0M74.4 123.8h0M96.4 98.6h0M90.3 113.1h0M111.4 80.3h0M101.2 100.1h0M71.5 127.0h0M102.9 87.6h0M116.0 79.0h0M99.6 98.2h0M124.2 77.6h0M110.3 85.5h0M119.7 68.8h0M107.8 85.5h0M106.9 87.3h0M117.0 73.3h0M108.1 94.9h0M97.2 99.7h0M93.5 98.1h0M127.4 62.5h0M88.2 105.8h0M118.8 73.2h0M74.0 125.5h0M126.9 62.1h0M90.8 112.2h0M122.4 77.4h0M120.6 72.1h0M129.9 68.9h0M125.3 62.6h0M110.0 92.3h0M119.8 74.5h0M124.3 72.7h0M132.9 58.3h0M103.7 89.9h0M78.8 121.2h0M116.6 85.1h0M113.8 77.7h0M104.0 98.9h0M118.2 83.6h0M91.9 104.5h0M98.8 103.2h0M94.3 109.1h0M113.8 81.6h0M94.3 103.7h0M103.3 95.7h0M98.8 92.5h0M104.8 97.0h0M120.0 70.3h0M91.5 110.2h0M125.3 65.2h0M119.4 76.9h0M94.7 109.5h0M128.2 65.8h0M108.5 89.9h0M102.7 93.7h0M105.1 89.0h0M113.1 76.1h0M134.1 61.4h0M113.5 88.4h0M111.7 77.4h0M99.8 91.0h0M96.2 96.2h0M98.0 97.3h0M112.0 84.9h0M84.2 109.0h0M101.9 102.5h0M96.1 107.9h0M97.1 102.5h0M92.9 98.1h0M92.1 112.6h0M105.1 87.7h0M140.6 50.4h0M128.9 64.4h0M130.7 61.4h0M99.2 102.9h0M95.8 97.7h0M124.4 62.6h0M73.8 129.0h0M98.0 101.6h0M113.6 80.1h0M95.0 103.4h0M119.9 74.6h0M109.3 86.7h0M110.2 86.9h0M97.7 105.1h0M115.1 78.1h0M82.5 117.9h0M95.2 104.0h0M109.9 89.4h0M118.1 82.5h0M95.3 109.3h0M119.3 77.7h0M120.3 75.5h0M97.0 98.1h0M103.7 90.0h0M92.3 102.6h0M109.2 88.0h0M76.7 128.5h0M79.8 117.4h0M112.1 87.5h0M78.2 118.9h0M101.2 99.6h0M100.4 95.2h0M95.3 103.3h0M85.7 106.6h0M102.5 90.3h0M121.8 74.7h0M102.0 98.7h0M77.5 119.6h0M132.0 57.4h0M131.4 67.6h0M98.4 93.4h0M98.0 97.7h0M100.1 96.4h0M108.2 93.6h0M126.0 62.9h0M97.8 94.7h0M92.3 105.0h0M101.5 101.8h0M85.9 117.4h0M84.0 110.6h0M92.1 113.1h0M93.6 104.5h0M88.4 103.6h0M102.6 93.4h0M102.3 89.0h0M105.4 93.5h0M115.1 75.2h0M128.6 63.9h0M106.4 86.6h0M90.6 114.9h0M79.0 118.3h0M108.2 80.8h0M103.8 86.2h0M105.3 86.0h0M96.0 102.1h0M86.8 118.3h0M108.7 92.3h0M121.9 71.0h0M114.1 78.8h0M102.7 88.3h0M129.8 62.7h0M97.3 93.3h0M121.1 68.8h0M115.8 80.2h0M89.1 105.0h0M84.3 121.7h0M88.2 116.3h0M116.0 73.7h0M77.7 118.3h0M100.1 98.4h0M80.7 118.6h0M96.9 101.2h0M103.6 90.4h0M129.8 63.4h0M100.6 102.5h0M90.0 102.7h0M118.0 73.5h0M84.4 119.3h0M108.2 87.9h0M96.8 95.3h0M108.4 89.1h0M88.7 106.8h0M98.9 105.7h0M135.1 57.6h0M118.4 83.1h0M78.6 115.9h0M94.8 109.8h0M98.9 101.4h0M123.3 75.2h0M105.0 97.4h0M102.7 93.5h0M101.8 91.6h0M117.9 82.0h0M93.5 99.9h0M87.0 114.9h0M97.6 94.4h0M104.8 95.1h0M87.2 113.4h0M89.8 113.5h0M117.5 80.5h0M134.4 60.1h0M115.0 73.7h0M71.8 124.8h0M94.4 110.8h0M85.5 119.6h0M102.5 96.8h0M77.7 117.1h0M97.4 94.2h0M106.7 89.3h0M84.4 118.8h0M91.6 109.2h0M87.4 117.4h0M124.6 67.8h0M93.3 106.1h0M96.6 99.8h0M83.8 111.6h0M92.0 105.5h0M99.7 97.9h0M116.3 85.4h0M104.6 95.6h0M81.6 111.9h0M119.8 69.4h0M103.9 100.2h0M127.1 72.1h0M119.1 76.0h0M99.7 95.7h0M95.7 96.3h0M128.4 62.8h0M132.3 65.8h0M119.3 71.2h0M82.9 111.9h0M141.9 50.0h0M110.5 83.0h0M92.7 109.6h0M96.1 96.4h0M105.6 88.2h0M91.2 114.4h0M98.4 92.0h0M88.3 116.6h0M95.8 108.9h0M111.9 87.5h0M121.8 73.6h0M125.4 66.3h0M95.8 105.7h0M128.1 69.8h0M84.8 116.9h0M123.6 66.6h0M114.8 77.8h0M112.1 80.1h0M112.4 88.9h0M88.5 117.3h0M87.9 116.2h0M116.8 74.7h0M100.1 89.8h0M117.8 79.0h0M134.8 54.0h0M97.2 98.0h0M128.3 69.7h0M139.5 53.0h0M116.4 77.4h0M109.9 82.0h0M116.8 81.9h0M110.2 87.4h0M91.6 100.8h0M102.1 98.2h0M76.7 118.0h0M116.8 80.6h0M131.9 56.3h0M135.2 61.9h0M89.1 116.6h0M88.4 107.4h0M77.2 125.2h0M77.2 128.6h0M107.8 84.0h0M127.5 69.1h0M115.9 86.2h0M118.7 70.1h0M103.3 100.3h0M92.3 111.1h0M101.8 95.5h0M96.6 99.0h0M98.6 97.0h0M96.9 96.5h0M94.9 99.1h0M98.8 101.9h0M105.7 90.5h0M128.9 68.5h0M106.5 88.7h0M93.1 102.2h0M124.8 65.4h0M108.7 93.2h0M84.2 117.0h0M95.1 99.2h0M141.7 49.6h0M117.5 75.8h0M121.9 67.2h0M102.9 89.4h0M110.9 87.2h0M102.4 88.4h0M82.9 121.1h0M112.7 85.4h0M88.5 115.5h0M105.8 92.1h0M93.1 107.5h0M96.0 97.9h0M120.2 78.1h0M122.5 69.8h0M127.8 72.1h0M78.7 126.3h0M119.5 81.7h0M139.8 50.6h0M108.9 94.1h0M112.7 89.2h0M79.4 113.9h0M99.1 103.3h0M86.1 108.2h0M95.1 102.0h0M133.4 61.6h0M76.0 120.7h0M106.1 93.7h0M96.3 98.4h0M93.9 110.9h0M98.4 102.7h0M102.3 99.1h0M92.2 103.1h0M96.0 95.7h0M89.5 108.7h0M119.4 75.3h0M98.5 99.1h0M90.2 109.5h0M99.5 100.6h0M110.2 80.1h0M108.6 87.3h0M100.9 92.0h0M119.0 74.4h0M129.3 66.4h0M90.7 109.0h0M127.8 62.8h0M105.6 83.6h0M99.7 96.1h0M75.6 121.4h0M101.4 95.9h0M98.4 97.0h0M116.0 75.2h0M91.9 105.8h0M87.1 109.1h0M115.8 79.4h0M122.4 65.7h0M120.7 78.4h0M81.2 119.5h0M118.2 70.2h0M100.2 94.7h0M87.1 118.7h0M95.5 108.0h0M92.5 112.5h0M92.9 106.5h0M88.6 111.9h0M132.6 64.2h0M90.3 101.2h0M103.4 99.2h0M86.9 108.7h0M128.5 68.5h0M95.2 101.7h0M87.1 104.3h0M103.7 92.9h0M112.2 85.4h0M89.3 113.7h0M112.5 88.1h0M106.2 86.8h0M96.7 107.0h0M133.6 58.5h0M133.5 60.4h0M114.9 76.4h0M106.5 96.1h0M99.5 96.2h0M111.5 77.4h0M95.7 95.2h0M118.1 77.9h0M100.1 103.5h0M106.6 94.7h0M121.6 67.5h0M123.9 67.4h0M91.8 110.2h0M97.9 106.4h0M124.2 72.6h0M76.0 116.7h0M97.5 93.3h0M125.0 68.4h0M95.1 102.9h0M118.7 73.4h0M98.4 104.5h0M111.8 76.9h0M108.1 93.6h0M119.2 79.9h0M92.1 99.7h0M93.7 103.0h0M110.9 86.2h0M85.3 113.3h0M115.3 75.0h0M105.1 87.1h0M84.8 119.9h0M69.3 131.6h0M105.6 84.2h0M122.5 72.1h0M94.4 103.1h0M96.7 107.7h0M88.6 102.6h0M82.7 112.2h0M107.4 92.9h0M104.6 86.9h0M92.9 99.4h0M140.4 54.4h0M106.6 93.7h0M110.9 84.0h0M83.3 122.3h0M129.6 64.4h0M142.1 51.7h0M80.1 117.5h0M87.1 111.2h0M103.4 91.0h0M115.2 80.4h0M94.3 104.6h0M127.9 60.0h0M81.5 113.4h0M89.0 115.4h0M115.5 73.6h0M127.7 60.3h0M105.1 95.6h0M94.2 104.4h0M90.4 111.4h0M96.7 99.1h0M91.0 102.5h0M94.6 105.4h0M108.9 81.5h0M103.7 100.4h0M98.2 95.1h0M122.6 74.6h0M105.0 86.6h0M97.3 101.2h0M96.0 101.3h0M114.7 87.4h0M102.1 96.4h0M114.6 86.5h0M90.3 107.7h0M89.7 116.1h0M98.2 93.5h0M92.5 105.5h0M89.3 104.2h0M120.7 68.0h0M95.7 104.7h0M130.4 57.7h0M99.6 99.3h0M106.3 89.7h0M101.9 91.9h0M91.7 108.2h0M94.6 97.2h0M93.3 99.7h0M83.4 117.4h0M103.5 98.5h0M137.3 53.7h0M116.0 78.3h0M98.5 97.6h0M107.3 96.1h0M84.9 111.9h0M88.7 113.2h0M100.6 92.9h0M93.5 110.7h0M87.4 104.7h0M107.3 83.8h0M92.4 113.1h0M123.3 71.8h0M100.1 94.3h0M111.1 91.5h0M113.5 85.2h0M101.8 97.1h0M134.3 62.5h0M79.3 121.1h0M95.3 108.9h0M76.7 126.1h0M87.4 113.3h0M85.6 106.4h0M136.4 55.3h0M91.6 100.9h0M117.1 83.1h0M128.5 62.0h0M91.7 113.6h0M108.1 95.5h0M96.4 93.8h0M99.1 93.6h0M135.9 59.7h0M136.5 56.9h0M112.7 79.7h0M136.9 53.0h0M88.4 103.2h0M114.6 77.9h0M133.0 55.6h0M104.5 91.8h0M106.3 97.6h0M135.3 53.8h0M85.5 109.2h0M99.7 103.6h0M129.8 64.2h0M94.5 98.9h0M93.3 101.2h0M107.4 91.4h0M94.1 105.7h0M133.5 57.0h0M116.8 80.6h0M103.3 92.9h0M115.5 74.1h0M103.8 85.6h0M102.0 96.2h0M96.3 95.7h0M87.9 115.0h0M95.3 102.6h0M104.6 85.0h0M128.7 69.2h0M102.0 96.7h0M89.2 112.2h0M98.7 100.6h0M90.1 100.9h0M106.1 97.8h0M124.9 67.2h0M132.4 62.2h0M136.1 54.9h0M121.6 74.2h0M99.4 92.7h0M98.7 94.4h0M114.8 78.6h0M107.5 90.6h0M83.7 119.6h0M96.3 99.3h0M101.1 103.4h0M100.2 95.9h0M90.1 110.9h0M94.2 105.8h0M105.5 98.1h0M125.5 67.6h0M95.1 102.0h0M114.4 74.2h0M85.9 107.1h0M118.4 84.0h0M93.5 99.5h0M96.1 104.3h0M72.0 134.4h0M89.8 102.1h0M83.5 117.6h0M112.9 85.0h0M107.4 87.8h0M108.1 93.6h0M92.8 111.8h0M128.3 69.9h0M109.8 88.4h0M132.8 57.9h0M107.1 88.1h0M98.5 100.4h0M120.4 75.9h0M95.0 95.9h0M95.5 106.5h0M109.9 81.8h0M88.6 113.2h0M106.3 90.4h0M92.3 103.2h0M81.5 120.8h0M100.2 91.1h0M130.4 64.5h0M109.1 80.3h0M86.5 116.9h0M120.4 74.6h0M93.2 104.6h0M116.9 75.1h0M104.8 90.4h0M97.8 96.4h0M113.6 84.0h0M90.3 104.0h0M76.0 121.2h0M108.4 80.7h0M120.8 73.5h0M94.8 103.8h0M100.0 100.9h0M86.4 111.8h0M125.1 70.0h0M96.3 100.5h0M107.5 85.3h0M108.6 90.1h0M92.1 110.2h0M77.8 126.8h0M103.6 93.8h0M118.6 80.1h0M73.5 132.0h0M106.5 94.9h0M114.5 75.4h0M120.5 80.7h0M133.0 58.8h0M83.0 121.5h0M107.9 82.3h0M131.6 62.6h0M111.6 87.9h0M80.6 124.2h0M120.5 76.5h0M139.2 53.9h0M85.7 116.3h0M122.8 64.7h0M96.9 107.4h0M115.7 75.4h0M101.2 96.9h0M137.8 51.4h0M121.9 69.9h0M125.4 66.6h0M93.2 101.0h0M75.8 130.7h0M121.9 74.0h0M139.6 53.4h0M87.3 109.8h0M132.5 62.8h0M92.7 102.6h0M118.4 72.1h0M91.4 112.4h0M127.8 71.4h0M92.2 108.8h0M119.9 75.2h0M91.3 100.4h0M118.9 75.1h0M132.3 58.4h0M94.7 109.9h0M92.4 111.4h0M99.4 93.1h0M129.5 64.9h0M114.2 74.1h0M126.6 73.2h0M115.1 86.0h0M111.4 81.7h0M97.3 92.9h0M122.5 64.9h0M85.7 106.6h0M108.9 93.5h0M102.6 99.3h0M95.7 107.4h0M119.6 79.6h0M116.4 77.0h0M115.6 84.3h0M91.3 111.6h0M101.0 91.1h0M105.9 85.0h0M88.6 109.8h0M115.2 87.7h0M96.1 102.2h0M102.1 101.1h0M129.8 67.7h0M106.6 96.2h0M87.7 110.9h0M134.6 57.9h0M77.8 119.5h0M97.1 107.1h0M98.8 100.0h0M103.1 92.3h0M84.8 116.1h0M108.8 92.1h0M89.3 103.0h0M85.2 112.0h0M132.4 59.0h0M85.2 119.7h0M101.8 98.0h0M103.0 99.0h0M94.6 100.2h0M104.8 95.7h0M79.3 115.8h0M97.2 103.1h0M126.1 61.4h0M130.2 65.0h0M88.9 110.9h0M118.6 76.1h0M79.3 123.4h0M90.7 105.8h0M95.4 98.0h0M103.6 95.7h0M78.9 115.6h0M91.3 108.8h0M101.3 90.2h0M134.0 54.6h0M123.7 74.1h0M104.1 92.3h0M116.2 73.3h0M96.3 103.1h0M99.4 94.6h0M100.5 102.8h0M97.8 104.2h0M84.1 116.4h0M69.2 132.6h0M107.0 92.5h0M129.6 67.2h0M106.0 91.7h0M103.3 93.5h0M87.4 107.7h0M115.3 86.7h0M98.4 100.6h0M102.2 96.8h0M96.7 107.4h0M116.1 78.4h0M92.8 99.6h0M113.6 88.6h0M96.8 99.4h0M98.2 96.4h0M111.6 78.1h0M85.1 111.1h0M123.8 66.4h0M92.2 108.5h0M103.5 96.8h0M112.1 80.5h0M122.7 78.4h0M104.8 92.0h0M122.6 79.0h0M94.3 104.1h0M130.7 62.5h0M132.1 62.4h0M126.0 73.1h0M112.7 86.4h0M96.8 105.7h0M107.4 87.1h0M98.4 104.9h0M83.2 118.0h0M109.6 85.4h0M102.7 97.9h0M84.4 110.6h0M113.1 89.0h0M110.2 87.5h0M95.0 109.6h0M103.4 94.6h0M119.6 74.9h0M100.7 95.7h0M91.9 103.5h0M135.5 57.8h0M125.8 63.2h0M102.6 93.6h0M97.4 102.1h0M125.8 70.6h0M99.4 91.5h0M111.7 82.3h0M95.9 99.7h0M93.1 107.9h0M96.2 94.2h0M103.9 90.2h0M128.5 66.9h0M132.8 58.8h0M102.2 89.0h0M126.4 68.2h0M105.5 98.2h0M105.4 93.3h0M120.2 68.7h0M106.8 84.6h0M106.6 90.7h0M76.2 131.2h0M115.2 82.9h0M98.7 96.5h0M102.1 87.7h0M83.7 121.4h0M106.1 85.8h0M108.1 84.5h0M106.2 89.0h0M127.1 65.5h0M103.2 88.9h0M98.0 99.9h0M92.9 100.2h0M115.6 87.1h0M106.1 90.3h0M99.8 96.9h0M122.2 77.4h0M107.3 88.7h0M127.6 63.1h0M118.0 73.9h0M124.3 67.1h0M83.6 116.5h0M119.6 72.1h0M97.1 103.0h0M117.2 83.6h0M106.2 94.8h0M117.1 74.6h0M107.7 87.4h0M93.7 103.5h0M131.0 60.8h0M124.6 72.8h0M93.5 102.0h0M108.0 88.1h0M114.6 86.2h0M129.8 59.1h0M136.6 59.3h0M100.4 96.9h0M107.3 82.0h0M83.3 111.0h0M93.9 107.4h0M97.6 100.4h0M95.8 95.4h0M117.5 84.8h0M104.7 85.2h0M139.1 55.3h0M92.0 112.6h0M105.6 95.7h0M96.1 95.7h0M114.3 85.3h0M112.8 84.2h0M112.0 84.6h0M135.3 57.5h0M99.2 100.5h0M87.6 110.2h0M115.1 79.3h0M100.8 98.3h0M109.4 94.0h0M93.3 101.6h0M77.4 119.3h0M96.6 100.9h0M140.9 52.0h0M103.6 94.2h0M88.8 102.4h0M109.6 86.3h0M91.3 108.1h0M134.4 58.1h0M106.0 96.4h0M112.7 78.9h0M93.7 107.5h0M102.1 90.8h0M96.1 101.3h0M84.0 114.3h0M107.3 93.1h0M109.2 88.4h0M104.0 91.4h0M91.5 104.5h0M92.7 110.7h0M137.7 51.7h0M95.3 106.7h0M97.6 97.0h0M98.6 96.1h0M98.3 93.1h0M136.1 58.3h0M82.0 117.5h0M81.8 114.1h0M91.6 108.0h0M90.3 111.6h0M105.9 85.2h0M107.4 92.0h0M121.8 72.3h0M86.9 106.3h0M131.0 57.9h0M73.2 132.7h0M95.6 99.0h0M91.5 107.9h0M94.9 107.6h0M102.6 90.5h0M98.5 104.2h0M107.6 90.7h0M99.8 102.5h0M111.7 85.1h0M96.7 106.1h0M78.8 120.1h0M129.5 61.8h0M122.8 72.6h0M82.6 111.1h0M110.2 79.8h0M133.1 64.0h0M110.2 89.7h0M89.9 107.8h0M82.5 114.8h0M95.1 97.2h0M97.5 105.6h0M104.1 89.6h0M110.4 89.0h0M93.9 97.9h0M99.0 98.9h0M101.6 98.3h0M102.4 100.2h0M104.7 97.3h0M92.9 99.4h0M97.2 96.3h0M96.7 94.6h0M111.9 84.9h0M88.6 106.7h0M93.5 98.6h0M115.3 87.3h0M102.0 94.4h0M105.7 87.5h0M96.3 100.4h0M89.6 104.8h0M98.1 105.9h0M91.2 104.4h0M107.9 82.1h0M72.7 127.2h0M96.9 95.0h0M112.0 80.9h0M100.4 100.4h0M128.7 69.1h0M101.9 100.8h0M95.9 104.2h0M105.2 98.2h0M105.0 86.1h0M81.3 119.2h0M120.5 67.5h0M97.2 106.9h0M122.4 66.0h0M102.5 87.7h0M119.8 71.0h0M118.6 78.1h0M84.0 116.1h0M94.8 108.0h0M111.4 78.6h0M99.6 96.7h0M110.9 80.2h0M133.9 61.5h0M123.2 73.2h0M131.0 60.5h0M105.5 96.9h0M82.6 121.2h0M102.5 88.8h0M112.4 90.8h0M90.3 115.1h0M117.4 76.0h0M107.4 93.1h0M134.1 56.0h0M134.1 60.4h0M89.3 114.1h0M87.9 110.1h0M135.6 62.0h0M115.2 74.6h0M89.5 107.4h0M120.9 72.3h0M134.1 58.5h0M95.3 99.8h0M91.4 108.5h0M100.8 102.2h0M111.8 89.0h0M102.4 95.7h0M137.5 54.9h0M115.4 79.3h0M92.7 107.5h0M80.9 124.6h0M103.7 100.0h0M100.7 92.6h0M103.1 91.9h0M110.0 91.7h0M89.9 112.0h0M100.2 103.9h0M133.3 62.5h0M115.2 81.5h0M111.1 82.2h0M114.8 86.9h0M104.0 86.9h0M82.8 110.7h0M102.1 101.4h0M91.7 113.1h0M107.9 83.6h0M83.4 117.0h0M104.0 93.7h0M89.4 107.2h0M117.4 76.5h0M99.8 97.7h0M98.0 92.1h0M93.0 105.1h0M140.5 51.7h0M110.3 86.8h0M115.5 83.5h0M101.0 93.7h0M103.3 98.1h0M72.1 128.8h0M93.3 103.1h0M73.3 127.0h0M128.7 65.9h0M77.6 120.0h0M113.0 84.2h0M83.1 113.0h0M87.3 113.1h0M80.6 113.1h0M118.7 82.5h0M95.8 109.0h0M125.1 72.6h0M90.7 101.2h0M113.1 77.3h0M127.8 72.0h0M95.8 106.1h0M96.5 98.6h0M100.0 97.7h0M117.2 76.1h0M97.2 95.9h0M122.0 72.5h0M89.7 101.8h0M141.4 51.0h0M126.9 61.6h0M122.3 75.6h0M96.1 98.7h0M82.4 121.4h0M97.3 92.9h0M124.5 66.2h0M93.3 110.2h0M85.1 116.0h0M110.2 89.7h0M96.7 96.7h0M130.2 67.2h0M115.3 84.2h0M88.7 108.6h0M82.0 113.8h0M92.3 105.4h0M110.1 92.2h0M107.1 85.3h0M128.4 61.6h0M132.5 56.1h0M94.1 99.7h0M117.1 84.2h0M113.8 84.2h0M102.7 92.1h0M124.9 65.9h0M95.4 100.8h0M82.2 114.2h0M84.6 113.1h0M103.5 88.9h0M114.5 74.1h0M94.7 100.1h0M105.2 84.9h0M99.0 105.1h0M111.3 85.7h0M117.4 71.9h0M109.6 82.9h0M97.8 103.5h0M93.3 103.5h0M137.4 56.6h0M127.0 69.2h0M109.5 80.9h0M111.2 80.2h0M88.4 114.1h0M96.7 102.6h0M80.8 115.8h0M99.3 103.8h0M74.9 127.0h0M114.8 73.6h0M95.0 106.9h0M88.4 108.1h0M88.5 114.9h0M108.3 90.3h0M107.7 90.3h0M80.9 116.8h0M94.8 108.4h0M141.5 51.6h0M101.0 98.1h0M97.0 100.8h0M100.6 97.0h0M103.4 98.3h0M101.6 95.4h0M92.9 106.3h0M134.3 63.7h0M101.9 96.6h0M95.6 106.0h0M111.2 83.8h0M98.9 103.9h0M73.3 121.0h0M119.6 81.2h0M99.0 104.2h0M113.1 89.3h0M96.6 100.8h0M120.5 67.3h0M108.1 89.9h0M122.1 75.3h0M83.9 118.6h0M96.7 102.7h0M111.6 89.4h0M133.3 56.5h0M90.5 102.9h0M115.8 76.7h0M107.5 82.1h0M121.0 76.0h0M114.3 76.9h0M89.1 110.3h0M92.1 101.8h0M82.0 113.3h0M79.7 127.1h0M113.6 85.2h0M102.5 88.7h0M93.5 111.5h0M85.9 111.0h0M72.5 122.7h0M73.3 133.2h0M83.4 114.6h0M116.0 82.5h0M98.5 104.7h0M117.8 84.8h0M118.5 75.8h0M87.7 114.4h0M109.3 79.8h0M85.1 113.1h0M102.5 87.4h0M94.3 106.2h0M117.9 80.7h0M96.2 102.2h0M76.0 118.0h0M86.5 109.7h0M97.7 104.2h0M136.6 55.6h0M105.7 96.9h0M105.4 87.7h0M86.5 117.8h0M102.4 90.6h0M90.6 111.2h0M98.0 97.6h0M105.3 89.7h0M108.2 89.9h0M91.3 108.6h0M119.0 79.5h0M129.0 65.7h0M102.7 90.7h0M93.8 108.2h0M126.8 62.3h0M78.9 114.7h0M116.2 82.3h0M98.4 96.2h0M101.6 100.8h0M128.9 68.2h0M101.3 99.4h0M96.0 94.9h0M82.3 117.3h0M142.3 52.5h0M110.2 91.2h0M111.1 77.5h0M135.9 53.6h0M126.1 71.2h0M133.5 55.7h0M115.9 79.2h0M88.8 105.9h0M118.7 70.3h0M94.1 102.3h0M121.1 74.2h0M103.9 96.6h0M114.4 81.3h0M94.6 104.5h0M86.2 118.0h0M130.5 57.6h0M92.7 110.4h0M106.0 92.9h0M79.3 123.7h0M105.5 97.5h0M123.0 76.4h0M89.7 111.0h0M113.3 82.2h0M89.1 104.3h0M111.8 89.5h0M110.7 92.6h0M108.5 92.6h0M122.1 77.8h0M121.2 69.0h0M97.1 95.7h0M100.7 102.7h0M113.3 87.1h0M115.0 78.1h0M103.9 93.7h0M125.5 67.0h0M108.7 85.4h0M133.8 57.1h0M110.8 82.0h0M112.1 78.4h0M102.3 92.3h0M89.0 112.9h0M111.2 82.4h0M102.7 88.4h0M102.9 87.9h0M91.9 102.7h0M87.6 117.9h0M93.7 99.1h0M108.3 82.8h0M116.7 84.0h0M80.7 115.1h0M96.9 102.0h0M87.0 117.1h0M114.7 82.1h0M112.9 75.5h0M122.8 66.2h0M131.8 59.2h0M107.3 88.9h0M82.3 121.8h0M129.7 64.8h0M120.1 76.4h0M88.3 103.3h0M96.2 99.1h0M120.3 72.1h0M132.3 59.0h0M127.2 66.1h0M89.5 101.8h0M115.1 83.3h0M96.1 106.3h0M108.7 80.4h0M90.9 110.7h0M114.7 87.2h0M104.2 95.0h0M132.5 66.0h0M127.2 61.3h0M122.0 74.4h0M97.0 98.2h0M112.1 90.1h0M112.9 89.5h0M94.3 107.0h0M135.0 55.3h0M108.4 85.7h0M118.4 70.4h0M121.0 78.4h0M82.4 109.9h0M103.0 100.8h0M118.4 72.5h0M128.2 61.7h0M109.8 90.6h0M127.3 73.0h0M139.3 55.6h0M126.4 65.8h0M80.9 114.2h0M80.2 125.7h0M117.7 78.2h0M119.8 68.9h0M134.1 60.5h0M92.9 107.5h0M127.5 69.7h0M103.1 90.4h0M117.1 83.0h0M94.7 100.5h0M116.5 74.2h0M89.0 116.9h0M98.8 94.2h0M87.7 108.2h0M92.7 106.9h0M76.4 121.4h0M128.1 61.1h0M100.5 92.5h0M126.4 67.3h0M81.7 123.8h0M86.4 115.5h0M109.5 80.7h0M118.1 75.6h0M74.0 130.4h0M98.0 94.0h0M115.7 86.8h0M121.9 75.1h0M96.1 106.8h0M93.6 98.3h0M81.3 117.8h0M88.8 109.7h0M77.0 124.2h0M103.7 98.5h0M110.7 87.6h0M130.2 57.6h0M92.5 105.8h0M113.5 81.3h0M92.9 99.3h0M110.0 89.8h0M98.4 98.1h0M110.4 86.3h0M109.0 88.4h0M127.9 62.9h0M134.6 58.7h0M110.7 89.7h0M95.5 105.2h0M94.8 105.3h0M103.8 88.8h0M110.5 82.4h0M111.3 79.6h0M116.8 77.1h0M107.2 84.0h0M82.3 118.5h0M108.7 84.6h0M133.2 62.4h0M77.2 125.2h0M98.2 98.1h0M127.7 69.7h0M113.9 86.1h0M114.2 84.6h0M115.6 76.6h0M77.6 122.0h0M95.8 106.9h0M93.9 102.0h0M108.9 85.2h0M113.3 81.8h0M128.0 69.1h0M116.4 74.4h0M91.3 110.3h0M83.9 116.7h0M104.2 93.9h0M117.4 72.5h0M108.3 91.5h0M127.2 63.8h0M95.1 99.6h0M129.4 58.6h0M98.9 93.5h0M123.1 72.7h0M118.3 81.7h0M83.9 116.5h0M126.8 67.8h0M85.0 113.8h0M88.7 103.9h0M125.6 68.7h0M73.7 125.5h0M121.0 79.2h0M98.4 98.4h0M115.0 79.4h0M115.3 74.1h0M95.9 104.5h0M94.6 104.1h0M88.5 115.3h0M73.1 129.1h0M121.7 80.4h0M97.2 99.7h0M137.7 51.5h0M102.9 99.2h0M107.7 86.2h0M113.5 75.8h0M98.8 98.1h0M79.8 116.7h0M118.4 80.6h0M80.8 122.8h0M118.6 80.3h0M106.0 91.7h0M73.1 133.4h0M92.9 111.9h0M113.9 75.9h0M101.7 96.4h0M115.7 86.3h0M78.1 126.0h0M117.4 82.3h0M114.4 78.2h0M104.4 93.0h0M72.4 125.2h0M86.8 115.1h0M79.7 114.1h0M117.4 81.5h0M96.9 104.6h0M88.5 103.6h0M81.4 112.6h0M128.7 68.7h0M70.5 123.9h0M117.8 71.6h0M119.1 68.9h0M109.2 79.6h0M121.4 73.6h0M130.7 58.3h0M113.2 86.4h0M119.1 70.4h0M89.3 103.0h0M99.5 93.4h0M90.1 105.4h0M111.3 84.3h0M128.8 66.8h0M84.1 114.2h0M119.1 76.3h0M95.4 99.2h0M76.5 128.8h0M107.1 95.6h0M95.7 100.3h0M104.2 96.5h0M115.3 81.8h0M98.1 102.6h0M103.1 88.3h0M117.4 81.4h0M80.0 121.2h0M117.9 82.5h0M98.3 104.5h0M94.2 108.6h0M99.8 91.6h0M97.9 102.6h0M99.9 104.6h0M120.2 81.4h0M95.0 107.4h0M101.3 93.5h0M101.7 89.2h0M121.3 74.9h0M117.0 71.9h0M93.8 97.4h0M92.9 109.5h0M85.0 107.3h0M96.6 93.8h0M128.4 67.4h0M115.5 87.1h0M84.8 118.0h0M123.3 65.9h0M98.7 105.4h0M112.5 76.5h0M141.7 52.7h0M108.6 94.0h0M75.2 121.3h0M100.1 89.8h0M93.5 100.2h0M74.9 118.1h0M111.8 81.7h0M87.5 116.4h0M88.7 109.2h0M114.3 83.4h0M90.3 113.0h0M108.4 80.8h0M98.3 103.5h0M92.7 98.4h0M96.0 104.0h0M92.5 100.4h0M80.3 119.2h0M89.3 101.9h0M87.3 115.8h0M91.1 100.5h0M89.9 103.1h0M135.5 60.5h0M126.6 62.2h0M95.1 108.3h0M77.1 124.8h0M99.5 95.4h0M123.0 70.4h0M99.2 105.4h0M93.9 99.6h0M111.2 85.6h0M108.5 80.3h0M112.9 84.2h0M96.5 102.3h0M105.9 84.7h0M120.1 75.4h0M98.0 104.8h0M117.4 78.4h0M78.5 121.2h0M106.4 93.0h0M84.5 116.8h0M91.3 111.1h0M105.0 91.6h0M103.7 87.2h0M113.8 85.9h0M92.0 102.4h0M108.5 81.6h0M104.0 92.2h0M111.8 91.3h0M98.1 103.5h0M116.4 84.5h0M124.6 64.5h0M97.6 98.6h0M107.4 87.9h0M95.7 109.2h0M92.7 98.3h0M119.2 69.1h0M130.2 62.7h0M89.1 103.4h0M90.6 101.9h0M102.9 91.9h0M99.7 90.2h0M84.6 120.1h0M123.4 68.9h0M88.1 116.2h0M133.1 58.8h0M123.2 70.2h0M123.3 74.8h0M84.6 121.4h0M89.0 111.1h0M110.1 85.6h0M111.2 87.5h0M77.3 124.6h0M107.8 90.9h0M97.9 104.0h0M98.4 92.9h0M103.0 98.2h0M117.2 72.3h0M88.9 103.1h0M92.8 110.2h0M140.3 52.7h0M117.7 80.6h0M89.4 115.4h0M114.0 85.1h0M90.4 107.8h0M117.7 77.9h0M94.2 105.5h0M86.2 112.0h0M84.4 114.2h0M124.1 72.6h0M89.5 111.3h0M88.5 108.4h0M104.1 99.2h0M89.7 107.2h0M90.4 112.0h0M103.3 93.1h0M92.0 106.5h0M94.5 98.9h0M141.8 49.5h0M94.9 106.4h0M97.2 106.0h0M110.1 82.8h0M109.7 84.4h0M96.9 94.3h0M111.5 88.0h0M106.5 87.7h0M95.7 96.0h0M98.9 92.6h0M93.7 101.4h0M116.2 83.2h0M134.4 54.9h0M114.1 86.1h0M90.5 106.1h0M84.1 120.8h0M136.3 56.5h0M100.1 92.4h0M95.2 106.2h0M114.8 84.6h0M98.0 98.9h0M134.5 62.7h0M114.6 77.9h0M88.6 106.0h0M120.5 77.6h0M74.7 124.8h0M110.5 91.7h0M117.7 74.9h0M89.6 114.3h0M118.5 70.1h0M134.0 61.5h0M131.5 59.8h0M77.9 127.7h0M117.7 70.9h0M96.5 108.4h0M122.9 73.3h0M97.5 97.7h0M138.7 53.1h0M88.5 104.1h0M97.8 101.8h0M81.1 123.0h0M73.3 123.2h0M139.3 51.0h0M96.2 103.2h0M119.1 78.9h0M96.4 105.4h0M93.9 99.7h0M138.8 55.0h0M93.1 98.7h0M98.1 92.5h0M103.0 96.4h0M106.4 97.4h0M111.8 78.3h0M116.5 77.4h0M111.1 91.4h0M94.4 102.4h0M91.6 104.9h0M90.6 101.2h0M126.8 67.0h0M103.1 94.5h0M96.0 98.3h0M115.3 78.6h0M96.3 102.2h0M118.2 78.7h0M90.0 112.9h0M89.8 108.1h0M99.9 104.7h0M96.2 101.2h0M119.6 73.0h0M98.5 94.5h0M96.9 100.9h0M100.7 89.1h0M74.0 124.9h0M81.4 110.6h0M92.9 108.2h0M106.8 95.1h0M139.6 53.9h0M98.4 93.2h0M96.6 100.3h0M136.6 56.9h0M90.8 111.4h0M118.8 70.5h0M113.6 77.5h0M118.3 78.8h0M81.7 123.6h0M99.8 100.2h0M114.3 81.2h0M114.5 85.4h0M119.4 80.5h0M120.6 80.2h0M80.6 124.4h0M115.7 81.2h0M103.6 99.5h0M96.6 103.6h0M79.8 116.1h0M136.2 54.9h0M108.2 90.5h0M95.2 108.7h0M114.5 77.6h0M98.2 97.5h0M108.1 83.1h0M132.3 57.7h0M74.8 123.9h0M96.1 96.5h0M112.3 88.8h0M105.5 88.1h0M86.0 117.8h0M89.9 111.5h0M132.7 58.3h0M102.5 92.2h0M92.2 107.1h0M108.1 82.9h0M139.7 50.4h0M112.3 83.5h0M108.9 83.8h0M130.2 65.9h0M88.7 112.4h0M132.7 60.2h0M103.6 94.0h0M130.5 62.3h0M133.6 56.9h0M92.6 108.1h0M90.9 101.9h0M97.1 93.2h0M90.3 108.3h0M111.7 77.6h0M133.7 59.6h0M111.3 91.1h0M75.8 130.7h0M88.8 116.5h0M134.2 57.1h0M108.8 88.6h0M86.5 118.8h0M117.0 71.2h0M95.1 108.0h0M113.1 79.7h0M86.0 118.5h0M127.1 72.8h0M118.1 76.5h0M107.5 82.3h0M117.3 74.7h0M111.4 77.9h0M93.4 104.0h0M123.9 74.2h0M116.4 76.1h0M115.9 86.1h0M96.2 106.5h0M117.2 71.6h0M92.6 105.0h0M112.4 76.1h0M102.0 90.4h0M98.8 95.3h0M110.0 85.2h0M141.2 49.9h0M127.1 71.4h0M128.8 70.1h0M76.2 128.0h0M107.3 91.0h0M117.3 81.9h0M89.0 113.0h0M114.5 83.7h0M90.2 110.9h0M99.4 92.7h0M104.3 88.3h0M81.7 114.0h0M87.0 112.8h0M88.5 113.0h0M88.7 105.7h0M102.2 101.9h0M91.5 101.3h0M114.6 73.5h0M87.3 115.9h0M93.1 107.9h0M104.4 90.6h0M103.8 96.6h0M100.5 93.6h0M73.4 121.2h0M133.6 54.7h0M100.0 96.2h0M80.3 112.2h0M99.9 101.8h0M88.2 104.2h0M114.6 87.2h0M114.7 76.0h0M115.1 80.8h0M97.7 94.3h0M120.8 75.5h0M110.7 87.1h0M115.4 79.7h0M117.5 73.9h0M110.0 85.2h0M112.7 81.0h0M94.0 102.7h0M77.3 120.7h0M133.7 56.4h0M126.3 71.4h0M119.8 69.7h0M92.0 113.3h0M80.4 114.7h0M106.8 95.7h0M98.6 103.7h0M86.8 108.4h0M94.8 99.9h0M97.9 102.7h0M94.2 103.3h0M101.9 89.8h0M103.8 98.9h0M109.7 83.1h0M116.1 84.3h0M120.3 79.2h0M102.5 98.2h0M92.6 111.3h0M93.0 98.1h0M94.4 108.8h0M106.9 94.7h0M86.8 114.6h0M95.6 108.0h0M104.5 97.4h0M110.4 78.3h0M87.9 108.3h0M137.7 58.1h0M110.7 82.6h0M90.6 114.3h0M118.7 75.7h0M130.2 66.6h0M96.8 107.3h0M136.8 59.2h0M69.7 125.0h0M90.5 101.2h0M99.5 96.4h0M96.5 105.5h0M86.9 110.4h0M126.3 71.1h0M88.2 115.6h0M68.8 130.9h0M92.2 110.6h0M91.0 108.7h0M108.5 81.6h0M105.4 91.4h0M80.4 123.8h0M101.7 100.4h0M120.4 77.4h0M85.8 108.9h0M117.2 75.9h0M96.3 96.4h0M110.4 81.2h0M79.7 118.0h0M111.4 85.0h0M92.9 112.0h0M112.4 76.3h0M97.4 93.1h0M118.1 78.2h0M131.6 65.0h0M102.5 90.0h0M115.1 74.2h0M109.3 88.3h0M96.4 95.5h0M101.3 96.3h0M136.1 58.6h0M97.5 95.6h0M102.9 91.5h0M92.4 100.2h0M85.2 114.8h0M108.3 85.3h0M133.3 58.3h0M112.7 90.0h0M83.9 112.3h0M85.9 111.2h0M126.0 72.5h0M104.9 90.1h0M96.8 104.6h0M99.4 92.3h0M90.7 111.3h0M82.8 111.5h0M118.4 72.0h0M86.4 105.2h0M105.6 90.3h0M112.5 77.4h0M95.9 103.3h0M104.4 92.5h0M83.8 110.3h0M134.1 62.4h0M108.8 88.1h0M95.5 107.4h0M103.3 99.2h0M120.9 68.7h0M80.2 125.7h0M127.9 69.4h0M117.7 77.6h0M102.3 101.4h0M97.9 93.6h0M103.1 100.4h0M112.7 76.8h0M127.0 63.3h0M110.7 82.0h0M93.3 105.5h0M140.2 52.6h0M96.3 100.0h0M113.2 86.1h0M105.9 84.5h0M106.3 95.5h0M90.9 103.6h0M90.2 105.2h0M102.9 95.3h0M111.5 90.2h0M114.4 77.7h0M113.7 89.0h0M102.1 96.6h0M99.7 95.2h0M95.4 104.9h0M92.5 104.6h0M79.0 121.8h0M89.7 110.3h0M105.6 97.4h0M87.9 103.4h0M113.3 86.5h0M104.8 95.9h0M82.4 116.9h0M105.9 86.6h0M102.5 97.9h0M96.4 106.7h0M83.9 110.8h0M133.0 56.7h0M123.9 77.2h0M78.0 127.5h0M84.4 121.4h0M110.4 85.4h0M114.5 77.6h0M99.2 105.1h0M130.5 67.8h0M138.0 53.7h0M71.4 126.1h0M106.7 88.6h0M108.1 90.5h0M125.8 73.8h0M102.9 87.2h0M91.8 104.1h0M83.8 118.3h0M100.2 94.2h0M82.3 115.8h0M84.6 109.8h0M105.1 93.3h0M94.4 98.0h0M87.1 110.9h0M111.3 82.9h0M124.6 63.1h0M101.2 99.3h0M97.6 95.3h0M101.4 95.4h0M138.8 52.1h0M128.3 59.2h0M100.5 96.4h0M85.8 114.4h0M95.8 107.0h0M92.3 106.3h0M114.6 81.8h0M129.7 65.9h0M104.6 98.3h0M96.6 105.6h0M106.1 89.5h0M100.0 99.6h0M95.2 104.4h0M98.1 103.7h0M111.1 90.7h0M89.7 111.3h0M96.6 107.5h0M113.2 85.5h0M83.7 116.4h0M104.9 85.8h0M116.0 80.2h0M95.1 96.3h0M96.3 103.3h0M113.4 86.1h0M95.8 95.2h0M106.8 85.1h0M99.3 91.9h0M102.0 93.6h0M93.2 101.7h0M103.6 92.0h0M109.9 79.2h0M111.8 91.3h0M91.0 107.1h0M141.4 53.2h0M123.2 64.6h0M103.6 91.3h0M110.4 80.8h0M89.2 104.9h0M114.7 79.0h0M129.8 61.6h0M78.7 123.7h0M103.2 100.6h0M110.6 88.6h0M110.3 82.4h0M118.9 82.3h0M126.3 62.0h0M112.5 87.5h0M112.9 86.0h0M132.5 64.2h0M142.0 50.9h0M133.6 57.3h0M92.9 107.6h0M92.2 112.1h0M95.2 105.4h0M90.2 111.4h0M92.7 108.9h0M88.2 110.4h0M128.5 66.2h0M112.8 81.5h0M83.7 113.8h0M126.5 71.6h0M140.3 53.7h0M123.3 75.4h0M128.9 61.5h0M109.3 90.6h0M91.2 114.3h0M106.4 91.0h0M99.7 102.8h0M91.6 111.5h0M81.2 111.7h0M116.5 77.7h0M113.5 79.9h0M98.1 102.5h0M107.1 82.6h0M77.6 122.7h0M99.5 91.1h0M118.4 83.5h0M112.4 89.9h0M81.4 120.2h0M96.4 98.8h0M111.3 79.8h0M130.3 67.1h0M107.2 95.5h0M109.2 81.9h0M125.7 65.3h0M132.5 59.3h0M95.3 107.8h0M118.3 83.0h0M92.8 106.4h0M98.0 102.6h0M98.6 91.4h0M105.9 84.8h0M125.5 62.4h0M78.7 127.2h0M93.4 111.2h0M93.0 107.2h0M121.9 65.9h0M110.4 87.0h0M98.4 91.6h0M88.4 115.5h0M125.1 70.8h0M139.6 49.5h0M110.3 83.3h0M85.2 107.5h0M133.9 59.4h0M96.1 99.8h0M104.0 93.5h0M127.6 63.5h0M137.4 54.7h0M105.9 86.0h0M108.7 83.7h0M112.2 81.5h0M125.6 63.4h0M79.1 119.8h0M126.5 69.2h0M96.9 107.1h0M119.0 73.0h0M106.3 94.0h0M115.1 83.7h0M104.4 89.4h0M98.0 100.9h0M93.8 98.2h0M110.8 81.6h0M114.6 87.8h0M90.1 106.5h0M105.2 92.7h0M100.9 95.5h0M110.8 92.2h0M119.5 75.8h0M92.9 106.6h0M94.8 109.2h0M136.5 57.9h0M120.2 70.3h0M112.5 89.0h0M104.1 85.3h0M123.9 66.0h0M112.6 86.1h0M90.9 111.9h0M99.2 94.0h0M137.0 51.9h0M101.2 103.0h0M91.1 106.9h0M133.8 60.7h0M73.1 124.1h0M81.2 119.1h0M119.0 83.3h0M124.7 66.7h0M97.6 94.4h0M131.1 62.0h0M116.5 81.0h0M116.3 81.7h0M95.5 98.3h0M89.4 116.2h0M119.1 78.5h0M129.2 67.5h0M114.4 84.1h0M94.3 105.5h0M120.9 79.4h0M110.8 84.8h0M108.7 91.8h0M89.6 109.7h0M102.7 101.5h0M95.2 99.5h0M84.7 117.2h0M122.6 68.7h0M72.3 132.2h0M100.3 97.7h0M131.0 60.7h0M142.0 48.4h0M86.6 117.5h0M100.8 102.6h0M105.3 89.4h0M90.5 104.9h0M108.2 89.3h0M96.6 107.8h0M80.1 118.1h0M116.0 78.3h0M113.1 88.9h0M104.2 98.2h0M126.9 63.0h0M116.0 85.1h0M109.8 81.7h0M86.3 119.3h0M107.8 81.2h0M85.6 106.2h0M84.1 107.7h0M122.1 70.0h0M105.1 93.4h0M106.1 83.5h0M96.6 99.5h0M97.4 93.4h0M94.8 97.6h0M111.1 78.2h0M80.3 121.0h0M113.3 78.7h0M128.4 68.9h0M93.1 100.8h0M115.9 84.0h0M115.1 73.7h0M101.6 96.0h0M85.7 109.1h0M114.0 74.8h0M105.1 86.0h0M86.0 119.1h0M97.3 100.5h0M112.8 89.0h0M122.7 72.4h0M84.8 111.4h0M102.5 94.1h0M111.9 88.7h0M82.2 112.5h0M98.9 102.2h0M127.1 70.7h0M115.4 72.6h0M88.7 103.1h0M93.2 98.5h0M125.9 73.1h0M97.9 94.1h0M85.1 112.2h0M110.4 91.3h0M126.6 68.8h0M117.8 73.2h0M95.5 97.9h0M81.4 114.6h0M125.2 63.4h0M82.5 112.0h0M92.6 109.6h0M89.2 110.8h0M112.2 79.7h0M94.5 106.9h0M118.5 81.2h0M101.5 98.4h0M107.8 91.1h0M122.4 75.2h0M75.4 118.9h0M93.1 101.3h0M122.4 77.1h0M86.6 108.2h0M87.6 117.3h0M90.3 105.8h0M120.8 78.0h0M80.0 126.5h0M76.9 122.5h0M115.8 85.7h0M93.4 97.4h0M98.6 102.7h0M94.9 106.1h0M71.0 124.0h0M142.1 50.8h0M109.9 90.5h0M97.8 100.0h0M104.1 97.1h0M116.1 72.0h0M100.4 102.2h0M128.4 66.2h0M92.6 110.1h0M112.0 76.9h0M114.5 80.8h0M97.3 103.5h0M91.5 100.4h0M124.2 73.2h0M93.4 111.3h0M111.4 90.6h0M88.6 108.3h0M133.2 64.0h0M78.0 117.5h0M86.1 109.6h0M107.3 85.2h0M109.2 86.3h0M106.4 92.1h0M115.8 75.5h0M94.6 102.7h0M97.9 102.5h0M126.6 63.0h0M78.4 124.5h0M89.0 104.3h0M113.8 81.8h0M135.2 59.6h0M91.4 107.3h0M88.9 102.7h0M127.0 62.2h0M88.9 114.0h0M105.9 90.7h0M98.8 96.5h0M87.8 117.5h0M105.6 96.9h0M114.6 76.4h0M114.7 86.1h0M102.8 97.9h0M97.1 99.1h0M82.7 122.8h0M81.1 123.4h0M106.7 90.5h0M90.0 106.6h0M100.4 91.6h0M83.0 123.5h0M132.2 62.2h0M125.7 62.4h0M121.0 77.1h0M117.1 80.1h0M86.2 106.3h0M102.2 90.4h0M133.4 57.5h0M97.6 95.3h0M129.8 69.3h0M103.4 96.0h0M100.1 100.8h0M78.5 121.8h0M95.2 103.8h0M105.4 89.7h0M114.9 81.6h0M87.9 107.4h0M96.8 107.8h0M120.6 79.2h0M121.2 78.7h0M118.9 80.7h0M91.4 106.6h0M111.2 80.3h0M138.5 54.8h0M93.8 103.5h0M122.2 67.7h0M114.5 78.1h0M124.2 65.4h0M97.8 104.8h0M125.5 62.1h0M105.2 85.5h0M79.1 120.2h0M111.0 83.9h0M95.0 100.2h0M116.6 74.7h0M84.0 111.3h0M99.6 94.7h0M126.3 74.2h0M83.9 115.2h0M87.3 116.7h0M109.1 89.3h0M95.4 109.4h0M97.0 102.0h0M120.5 74.0h0M78.7 122.5h0M123.8 70.6h0M119.3 82.8h0M85.4 109.8h0M91.4 111.9h0M115.2 84.7h0M130.3 64.6h0M90.4 111.9h0M101.4 93.5h0M134.8 59.3h0M104.5 87.0h0M94.0 107.1h0M123.8 72.9h0M98.7 96.0h0M97.4 104.6h0M124.9 67.4h0M118.6 76.9h0M116.2 78.5h0M106.6 89.8h0M116.5 75.5h0M115.9 85.0h0M111.5 89.3h0M128.9 68.6h0M132.6 59.6h0M119.8 77.0h0M87.4 109.5h0M120.6 70.8h0M115.5 75.1h0M87.1 111.1h0M82.6 121.3h0M110.3 87.0h0M136.0 52.8h0M109.9 84.0h0M126.1 64.7h0M111.7 91.6h0M114.9 78.5h0M94.5 104.4h0M96.1 105.3h0M122.1 71.7h0M84.5 110.7h0M97.7 102.2h0M82.6 120.0h0M104.8 97.1h0M98.4 96.9h0M96.5 97.3h0M118.4 82.0h0M75.6 125.1h0M102.3 89.6h0M74.4 131.8h0M122.7 78.6h0M98.2 104.0h0M84.4 118.4h0M107.1 87.9h0M115.2 76.8h0M119.3 78.4h0M86.8 105.3h0M107.9 85.2h0M90.1 105.3h0M129.8 69.4h0M132.3 58.2h0M129.0 61.8h0M92.3 111.5h0M94.2 109.2h0M118.2 83.0h0M94.9 106.0h0M109.8 80.8h0M116.0 83.2h0M98.7 92.4h0M82.8 110.1h0M81.4 112.6h0M96.5 105.3h0M114.3 80.1h0M114.6 75.5h0M93.6 99.2h0M107.2 90.2h0M94.8 99.1h0M124.3 77.3h0M90.3 115.0h0M124.6 75.1h0M121.8 77.0h0M137.0 55.8h0M120.0 67.9h0M107.6 95.7h0M95.8 108.4h0M130.1 60.6h0M132.7 58.8h0M117.9 78.6h0M97.6 100.4h0M119.4 74.1h0M116.2 81.4h0M75.3 123.0h0M108.4 90.5h0M91.2 112.2h0M85.6 106.1h0M114.5 85.3h0M133.4 61.6h0M96.1 95.5h0M95.6 100.0h0M123.5 76.8h0M93.9 104.5h0M134.1 61.5h0M90.8 114.7h0M74.6 128.6h0M111.0 81.1h0M125.4 65.2h0M121.0 70.4h0M87.6 114.8h0M96.4 108.6h0M114.3 85.9h0M96.9 103.2h0M129.3 63.4h0M113.2 80.3h0M110.4 89.0h0M81.1 114.0h0M123.1 76.3h0M84.0 117.0h0M125.0 69.5h0M118.0 81.9h0M101.8 98.1h0M106.9 87.9h0M74.5 124.6h0M67.7 126.4h0M114.2 77.4h0M127.1 73.3h0M101.9 97.0h0M99.3 102.1h0M86.7 117.8h0M70.1 125.5h0M89.3 108.0h0M90.2 103.7h0M92.0 102.8h0M102.5 96.6h0M99.8 93.9h0M95.5 98.5h0M109.5 89.6h0M110.8 91.7h0M113.5 86.6h0M115.5 82.0h0M116.1 74.2h0M126.2 67.1h0M97.7 104.3h0M120.0 78.9h0M91.7 108.1h0M78.4 117.1h0M111.2 80.5h0M115.3 78.6h0M77.7 114.7h0M105.7 88.5h0M113.2 89.4h0M104.9 88.8h0M116.5 83.6h0M104.5 97.5h0M87.3 116.8h0M75.8 121.2h0M111.1 87.2h0M116.2 72.6h0M78.4 121.6h0M108.6 94.0h0M130.4 62.2h0M93.6 103.3h0M101.1 91.3h0M106.7 85.6h0M119.7 77.8h0M103.0 88.1h0M99.1 99.4h0M105.9 95.3h0M98.9 105.6h0M110.5 87.5h0M126.7 70.4h0M110.7 85.2h0M87.6 108.0h0M107.4 88.7h0M105.1 92.4h0M93.1 101.1h0M126.2 67.6h0M86.0 117.5h0M110.7 82.7h0M90.9 101.8h0M121.9 74.7h0M80.2 114.1h0M134.7 62.3h0M121.6 76.6h0M119.8 76.6h0M98.4 103.7h0M86.4 107.6h0M95.0 108.2h0M108.6 83.8h0M92.8 99.4h0M107.6 86.9h0M123.1 78.7h0M103.5 93.5h0M98.9 100.8h0M92.9 102.4h0M114.2 81.3h0M99.8 92.2h0M106.1 85.6h0M115.8 84.2h0M115.2 75.9h0M104.7 90.2h0M66.6 129.1h0M114.9 75.3h0M86.6 108.8h0M133.5 55.5h0M120.8 67.7h0M79.8 114.3h0M114.7 87.2h0M96.8 96.2h0M102.7 91.9h0M97.8 102.9h0M88.8 110.1h0M104.2 88.2h0M98.8 100.1h0M129.3 61.6h0M96.7 100.6h0M117.8 74.4h0M110.1 79.3h0M115.3 80.7h0M80.7 121.5h0M91.9 105.3h0M100.3 93.2h0M137.5 54.4h0M95.8 104.8h0M106.9 89.4h0M90.2 100.9h0M100.8 89.0h0M94.5 104.1h0M96.5 105.0h0M132.9 57.3h0M100.3 90.3h0M113.1 81.5h0M98.3 98.7h0M71.0 127.4h0M89.5 112.2h0M93.8 106.7h0M78.8 123.4h0M99.8 90.7h0M86.0 119.6h0M96.5 105.9h0M117.1 81.9h0M115.2 80.1h0M102.1 90.9h0M103.7 95.9h0M121.1 71.8h0M115.3 84.4h0M103.8 87.0h0M115.4 84.8h0M94.9 100.0h0M95.1 97.2h0M94.0 107.5h0M117.1 79.7h0M121.7 68.2h0M92.4 108.8h0M102.9 100.8h0M116.9 78.9h0M102.2 96.5h0M118.6 76.6h0M105.3 96.9h0M96.3 106.9h0M114.6 75.3h0M82.9 112.2h0M104.6 95.7h0M76.9 129.0h0M97.7 101.5h0M80.8 113.4h0M107.0 82.7h0M105.3 86.9h0M90.1 104.6h0M103.9 86.7h0M95.7 101.1h0M101.1 100.1h0M106.0 84.1h0M97.4 94.8h0M85.9 117.3h0M78.1 126.8h0M100.4 90.5h0M106.1 90.2h0M85.0 115.1h0M117.2 71.7h0M107.9 85.2h0M83.0 122.4h0M132.5 57.8h0M102.3 100.5h0M119.3 83.0h0M141.8 50.0h0M93.7 102.4h0M87.7 118.1h0M93.0 101.1h0M95.3 107.6h0M107.4 92.4h0M114.5 85.0h0M119.1 76.7h0M86.3 115.8h0M106.5 87.4h0M120.8 80.7h0M111.7 77.8h0M98.1 104.4h0M71.4 124.1h0M119.8 77.4h0M110.5 83.5h0M90.2 111.5h0M92.5 103.4h0M87.5 106.1h0M108.6 85.0h0M134.2 60.0h0M97.1 99.2h0M127.7 68.4h0M103.8 91.0h0M118.1 80.8h0M90.9 113.4h0M101.4 101.7h0M108.3 89.0h0M95.3 101.6h0M140.7 50.7h0M120.7 78.2h0M111.0 82.7h0M115.4 80.3h0M101.0 91.2h0M112.5 82.6h0M90.4 106.0h0M84.9 117.5h0M132.4 62.2h0M114.9 76.8h0M123.2 73.2h0M120.2 77.5h0M97.4 98.0h0M87.0 108.2h0M110.3 88.5h0M116.0 85.0h0M109.3 89.3h0M107.1 93.3h0M123.5 70.3h0M113.5 75.4h0M113.3 89.8h0M139.7 54.9h0M119.7 69.1h0M108.6 92.1h0M91.7 105.3h0M73.5 126.5h0M120.9 71.8h0M96.7 95.1h0M102.0 96.0h0M115.2 83.4h0M95.8 98.3h0M92.6 105.3h0M88.2 111.7h0M96.7 102.9h0M92.0 101.4h0M91.1 108.8h0M73.9 133.3h0M102.0 100.4h0M98.4 97.8h0M105.0 95.7h0M88.6 112.4h0M85.2 111.9h0M114.5 82.1h0M76.0 119.2h0M90.5 111.8h0M107.6 90.3h0M88.1 113.9h0M123.6 76.4h0M114.6 76.8h0M124.8 65.9h0M120.7 69.4h0M119.5 77.2h0M94.5 98.3h0M121.9 66.4h0M102.2 98.1h0M96.3 98.6h0M106.5 85.3h0M79.3 119.9h0M86.7 116.5h0M125.5 68.8h0M111.5 91.6h0M133.5 64.8h0M110.2 79.0h0M132.3 64.9h0M142.2 49.3h0M119.5 76.4h0M88.4 102.9h0M85.2 114.4h0M108.2 91.2h0M116.6 77.6h0M96.2 101.4h0M99.3 92.9h0M126.2 64.4h0M110.4 91.0h0M113.5 76.0h0M106.6 85.8h0M111.1 90.1h0M139.8 50.3h0M140.1 50.2h0M117.5 80.0h0M101.5 98.9h0M100.8 89.4h0M125.5 63.0h0M86.2 110.2h0M96.5 96.2h0M93.0 112.2h0M117.7 83.0h0M109.6 87.8h0M90.8 113.2h0M89.1 109.4h0M114.7 85.5h0M87.5 106.4h0M134.9 60.8h0M107.0 95.3h0M91.9 113.4h0M106.6 92.3h0M115.9 85.6h0M87.3 112.3h0M129.1 67.6h0M90.2 103.2h0M94.7 105.2h0M133.8 62.8h0M114.5 79.6h0M82.3 117.3h0M102.9 94.1h0M94.5 109.2h0M114.3 80.2h0M93.1 103.1h0M119.0 81.6h0M88.7 103.5h0M76.6 127.8h0M103.8 88.5h0M109.5 81.5h0M84.9 119.8h0M123.4 69.6h0M87.6 112.7h0M108.2 90.6h0M136.4 56.8h0M108.3 81.7h0M138.4 57.1h0M84.4 121.6h0M106.6 93.1h0M112.7 75.6h0M93.8 110.6h0M102.8 96.0h0M85.9 119.0h0M100.6 94.8h0M92.5 106.6h0M89.3 111.6h0M92.4 107.3h0M93.5 111.8h0M115.2 85.1h0M97.2 100.5h0M127.4 68.4h0M119.2 81.8h0M109.1 82.5h0M92.5 109.9h0M97.9 94.4h0M125.5 65.7h0M115.3 81.6h0M129.5 58.9h0M86.9 105.6h0M131.0 58.2h0M93.7 110.1h0M116.9 82.9h0M106.3 87.6h0M124.0 73.3h0M88.6 111.2h0M96.1 97.2h0M100.2 100.4h0M98.3 105.2h0M133.6 62.6h0M110.8 78.6h0M102.2 100.4h0M107.3 87.2h0M133.0 56.5h0M120.9 70.4h0M131.3 62.2h0M133.9 62.4h0M91.6 105.9h0M98.2 100.5h0M105.6 87.2h0M111.4 84.7h0M109.9 89.5h0M106.7 84.5h0M96.1 100.8h0M88.4 109.6h0M85.9 113.2h0M114.6 74.7h0M112.6 79.5h0M91.0 103.6h0M115.3 76.5h0M98.3 102.1h0M117.6 70.4h0M100.1 101.3h0M130.4 60.6h0M107.3 83.9h0M120.7 71.0h0M88.2 113.5h0M98.4 106.4h0M92.8 108.4h0M104.0 96.9h0M112.4 77.7h0M98.2 96.8h0M132.3 58.4h0M118.2 75.0h0M109.8 84.1h0M76.3 118.6h0M113.0 89.7h0M67.5 133.1h0M133.7 58.8h0M103.5 89.8h0M98.5 94.7h0M68.9 127.3h0M91.3 108.7h0M127.1 66.7h0M88.7 111.6h0M93.8 106.1h0M82.2 112.1h0M122.8 74.0h0M134.4 59.7h0M84.4 120.4h0M128.8 67.3h0M125.5 73.4h0M77.0 120.8h0M93.8 105.5h0M103.4 95.0h0M89.3 114.3h0M114.9 84.5h0M114.4 83.4h0M139.4 55.1h0M100.7 102.3h0M83.3 117.2h0M141.2 50.9h0M176.9 11.3h0M163.0 26.4h0M164.1 26.8h0M147.9 43.5h0M154.9 34.9h0M150.9 40.7h0M151.6 39.8h0M162.4 26.9h0M155.9 36.9h0M163.1 23.9h0M164.7 24.5h0M169.4 18.6h0M151.0 39.5h0M171.3 17.5h0M176.0 13.0h0M147.5 43.1h0M156.2 33.3h0M175.5 10.3h0M166.5 22.2h0M151.7 38.4h0M141.0 49.8h0M150.7 39.5h0M176.9 10.7h0M171.4 19.2h0M163.4 26.9h0M169.2 18.4h0M175.1 16.1h0M152.6 37.5h0M144.0 48.3h0M164.1 23.1h0M176.4 11.2h0M169.8 19.3h0M141.8 49.0h0M156.5 33.7h0M145.7 46.9h0M153.1 38.6h0M151.9 38.3h0M142.5 50.7h0M162.7 28.4h0M152.0 37.4h0M160.6 30.8h0M154.1 35.9h0M155.4 36.4h0M161.0 27.7h0M142.9 48.8h0M174.1 14.2h0M147.7 44.5h0M164.7 26.2h0M155.0 36.1h0M148.2 43.7h0M142.3 49.7h0M148.6 42.0h0M147.2 44.3h0M153.1 41.2h0M166.1 25.5h0" stroke="#c8c8c8" stroke-width="1.7" stroke-linecap="round" fill="none"/>
<path d="M98.6 89.3h0M71.4 121.3h0M73.2 119.1h0M65.3 126.8h0M80.4 96.5h0M85.0 96.1h0M88.7 101.9h0M90.7 99.5h0M100.1 89.1h0M68.6 111.1h0M109.0 79.2h0M102.4 86.6h0M82.6 107.4h0M91.8 97.7h0M82.6 108.7h0M82.6 106.1h0M71.1 113.6h0M111.4 76.0h0M78.3 110.6h0M94.0 96.1h0M97.5 92.5h0M91.6 97.5h0M82.2 108.7h0M88.1 103.0h0M74.3 113.6h0M67.5 123.3h0M62.0 118.0h0M115.9 71.7h0M118.2 62.4h0M64.0 127.5h0M75.7 107.6h0M94.0 96.0h0M109.8 78.8h0M75.3 104.6h0M69.7 118.8h0M74.0 116.7h0M69.9 121.6h0M85.7 105.7h0M63.1 129.6h0M93.8 94.5h0M101.0 88.6h0M120.0 66.5h0M97.4 90.7h0M62.1 120.9h0M73.9 112.7h0M88.5 102.5h0M87.6 101.7h0M105.0 83.6h0M80.2 98.1h0M103.5 83.8h0M64.5 126.6h0M85.4 105.4h0M103.1 83.2h0M82.1 105.7h0M84.9 103.2h0M81.1 110.7h0M82.1 107.4h0M75.1 117.1h0M92.1 93.9h0M66.2 126.3h0M69.8 111.9h0M105.6 82.4h0M95.9 94.0h0M120.9 63.3h0M106.5 81.4h0M98.6 88.4h0M96.4 93.4h0M100.0 88.9h0M100.5 87.8h0M83.0 103.8h0M84.9 105.9h0M109.5 78.6h0M104.0 84.7h0M83.4 104.2h0M69.6 120.0h0M80.1 110.3h0M66.9 119.1h0M69.5 122.4h0M73.7 117.8h0M62.7 122.8h0M105.5 83.2h0M105.5 82.9h0M69.9 121.2h0M81.5 105.6h0M64.2 128.3h0M92.1 95.6h0M89.8 99.7h0M100.7 88.6h0M95.6 94.3h0M84.8 105.9h0M77.4 113.9h0M71.3 120.4h0M97.4 88.1h0M95.7 94.2h0M74.7 115.9h0M95.8 92.1h0M83.9 102.4h0M86.1 96.2h0M75.5 116.5h0M92.6 98.0h0M98.0 89.5h0M111.7 76.2h0M87.0 101.0h0M75.1 115.3h0M79.3 105.6h0M75.3 115.7h0M69.9 123.2h0M85.3 103.7h0M79.9 111.1h0M92.8 96.5h0M110.1 78.4h0M116.0 70.7h0M96.3 92.8h0M105.5 82.7h0M67.0 117.6h0M68.1 122.6h0M90.4 97.0h0M83.3 106.0h0M64.9 127.6h0M85.5 104.3h0M69.8 121.2h0M107.1 81.7h0M72.0 120.6h0M98.4 91.0h0M62.6 130.1h0M95.9 91.0h0M66.3 121.6h0M75.2 113.4h0M87.2 102.6h0M75.4 108.4h0M95.1 93.6h0M102.8 85.8h0M71.7 121.3h0M102.4 86.4h0M89.6 99.9h0M63.6 127.8h0M72.8 111.2h0M109.2 79.2h0M99.6 89.1h0M106.1 82.7h0M84.3 106.6h0M100.7 88.3h0M111.8 75.5h0M87.9 102.1h0M62.4 129.3h0M94.8 95.0h0M94.2 95.8h0M97.2 91.2h0M98.3 91.6h0M84.7 104.8h0M103.9 83.7h0M93.2 95.0h0M98.6 90.2h0M64.9 128.6h0M94.9 94.5h0M90.1 89.3h0M94.5 94.2h0M75.5 111.9h0M99.2 87.8h0M62.1 132.0h0M66.4 126.7h0M98.7 90.5h0M74.8 117.7h0M81.1 104.7h0M67.5 125.4h0M84.0 105.4h0M86.6 99.9h0M105.6 81.9h0M63.9 128.9h0M82.6 107.4h0M94.3 91.9h0M67.5 114.8h0M86.7 104.6h0M67.6 122.6h0M81.7 108.8h0M91.9 91.5h0M69.7 123.2h0M86.6 101.1h0M63.8 130.0h0M71.4 120.8h0M67.4 116.2h0M92.9 92.8h0M87.1 101.3h0M63.6 130.1h0M112.9 73.4h0M82.1 105.9h0M62.9 129.6h0M71.1 120.4h0M69.1 120.4h0M104.2 84.5h0M104.5 83.0h0M62.8 119.9h0M82.3 108.7h0M72.5 120.4h0M83.5 104.6h0M83.0 105.8h0M66.0 126.1h0M104.2 83.9h0M78.1 105.0h0M85.0 105.9h0M79.2 108.4h0M79.9 108.5h0M81.0 109.4h0M84.2 101.3h0M70.9 120.7h0M72.7 118.8h0M89.1 101.4h0M79.0 108.8h0M88.4 102.7h0M100.2 89.0h0M70.0 122.0h0M80.8 110.7h0M119.0 67.1h0M88.8 101.7h0M106.2 82.7h0M81.1 110.9h0M66.3 120.9h0M104.3 84.3h0M97.5 92.2h0M82.2 104.4h0M76.5 108.1h0M80.6 110.8h0M93.4 95.1h0M90.0 100.5h0M69.6 110.3h0M105.9 82.8h0M119.7 67.2h0M76.8 113.2h0M75.1 112.7h0M87.8 103.2h0M88.0 101.8h0M92.7 94.9h0M87.0 102.3h0M83.3 107.6h0M64.2 124.7h0M88.8 101.3h0M90.3 99.5h0M96.7 92.9h0M62.6 130.0h0M71.2 120.9h0M92.8 92.2h0M81.2 108.0h0M80.9 109.9h0M91.3 97.3h0M85.8 103.3h0M69.2 121.4h0M68.3 124.3h0M67.7 125.5h0M68.9 117.6h0M70.4 120.4h0M65.2 127.9h0M86.7 104.1h0M69.1 119.8h0M73.6 117.4h0M112.6 75.3h0M66.4 127.0h0M103.8 85.2h0M89.6 100.9h0M102.0 87.5h0M78.5 112.2h0M93.7 96.2h0M83.0 108.2h0M72.1 109.5h0M105.9 81.2h0M82.5 104.7h0M86.4 101.4h0M90.7 99.2h0M61.7 129.0h0M91.6 90.0h0M67.0 124.1h0M91.0 98.4h0M86.1 99.0h0M62.1 127.2h0M69.5 118.0h0M80.8 109.3h0M81.5 110.4h0M97.3 91.0h0M107.7 80.9h0M106.1 82.8h0M77.9 110.9h0M96.7 92.4h0M62.4 131.7h0M71.0 109.0h0M85.1 105.2h0M64.9 128.0h0M79.5 109.1h0M92.1 98.3h0M92.6 95.2h0M90.5 100.1h0M62.1 128.6h0M101.4 87.1h0M110.6 77.4h0M80.1 110.0h0M78.7 113.5h0M104.1 84.2h0M87.0 102.3h0M84.3 104.8h0M102.7 81.7h0M110.9 77.1h0M94.7 95.1h0M72.4 105.9h0M86.3 102.8h0M71.6 120.8h0M97.4 92.4h0M103.6 85.2h0M77.5 112.7h0M62.9 128.2h0M68.9 123.7h0M68.9 122.9h0M84.0 104.0h0M86.7 103.9h0M94.1 93.7h0M108.7 79.9h0M73.9 112.7h0M78.2 113.4h0M78.7 98.7h0M111.1 76.0h0M105.7 82.3h0M66.5 119.2h0M105.0 83.8h0M88.6 100.6h0M96.0 93.2h0M87.5 98.1h0M94.4 94.3h0M87.9 99.7h0M81.5 109.7h0M91.1 96.8h0M89.5 98.2h0M89.9 99.7h0M72.9 94.4h0M83.3 104.2h0M106.0 82.6h0M70.3 103.6h0M117.9 69.6h0M81.0 102.2h0M101.1 86.9h0M112.2 76.0h0M86.0 104.1h0M73.9 116.0h0M93.3 97.2h0M70.3 117.6h0M74.8 111.8h0M78.5 106.1h0M76.1 116.1h0M96.7 79.2h0M100.0 88.7h0M121.7 63.0h0M105.2 83.7h0M70.3 119.9h0M113.6 74.1h0M62.3 131.8h0M102.2 87.0h0M76.1 114.2h0M86.6 102.7h0M81.2 106.2h0M70.3 115.2h0M77.9 113.4h0M81.1 109.6h0M83.2 101.2h0M85.4 103.7h0M80.9 109.0h0M63.6 119.0h0M106.4 82.5h0M120.4 66.1h0M76.5 113.7h0M69.7 122.7h0M67.1 111.6h0M72.1 118.2h0M105.0 84.2h0M78.0 109.3h0M86.7 103.4h0M95.1 95.0h0M86.6 103.2h0M76.0 114.8h0M69.3 121.4h0M89.1 96.0h0M106.2 81.2h0M75.3 115.3h0M103.7 85.4h0M67.2 119.2h0M89.9 96.5h0M100.5 87.8h0M73.4 116.6h0M71.1 118.7h0M72.3 116.9h0M80.4 110.7h0M87.2 102.5h0M76.6 105.1h0M77.2 104.9h0M75.3 115.9h0M65.5 127.8h0M77.6 113.5h0M78.3 112.8h0M84.5 98.0h0M95.4 92.7h0M110.2 78.4h0M94.3 89.9h0M103.9 81.1h0M91.2 98.3h0M98.2 91.7h0M84.6 100.9h0M79.9 110.3h0M82.2 103.2h0M84.2 106.4h0M104.4 84.0h0M95.6 93.8h0M83.3 107.3h0M100.9 88.5h0M104.4 84.8h0M83.0 108.4h0M80.3 110.3h0M85.7 101.1h0M105.2 82.9h0M90.6 98.6h0M63.8 128.9h0M106.2 79.7h0M95.6 94.5h0M98.7 91.1h0M105.5 83.1h0M101.9 86.4h0M94.4 95.9h0M90.4 94.8h0M63.6 129.8h0M98.8 90.0h0M106.1 82.9h0M101.0 86.8h0M74.2 118.5h0M75.0 113.1h0M118.0 69.3h0M96.3 85.0h0M94.7 95.5h0M75.2 116.6h0M100.7 88.5h0M95.8 88.4h0M104.0 85.0h0M61.9 118.9h0M88.7 97.5h0M94.1 95.9h0M70.5 119.0h0M67.0 120.0h0M63.4 129.1h0M104.7 84.1h0M78.9 111.2h0M67.8 124.6h0M71.6 119.1h0M70.9 119.4h0M99.9 89.7h0M101.4 85.4h0M78.0 113.4h0M70.5 121.9h0M111.2 76.6h0M93.4 93.7h0M80.2 109.4h0M97.2 92.2h0M83.9 107.7h0M90.6 97.1h0M92.8 95.1h0M76.8 111.2h0M85.7 100.5h0M73.8 115.9h0M77.1 107.9h0M69.8 115.1h0M69.2 121.2h0M74.6 114.7h0M74.1 118.1h0M84.6 106.5h0M65.2 128.1h0M78.2 110.8h0M120.9 66.2h0M90.1 98.7h0M108.6 79.6h0M80.9 106.9h0M108.8 79.6h0M77.7 114.7h0M105.7 82.4h0M65.0 118.5h0M102.3 85.6h0M71.4 119.6h0M68.3 123.9h0M83.9 107.5h0M91.9 97.4h0M78.1 107.6h0M94.4 94.1h0M81.3 109.8h0M85.8 104.8h0M95.9 93.0h0M96.6 90.2h0M106.7 80.9h0M91.4 99.2h0M69.0 117.8h0M77.1 103.8h0M66.5 118.6h0M70.1 121.3h0M74.1 117.7h0M87.5 97.6h0M104.6 83.5h0M86.3 101.6h0M81.1 103.1h0M78.7 113.3h0M106.5 82.5h0M80.5 111.2h0M65.8 120.2h0M101.1 87.8h0M63.7 130.0h0M63.4 127.4h0M63.6 128.4h0M101.3 87.9h0M90.1 99.5h0M62.8 129.9h0M83.6 105.6h0M69.7 122.1h0M75.0 116.1h0M101.7 84.9h0M77.7 107.2h0M97.7 90.2h0M77.6 113.1h0M87.4 103.0h0M97.1 91.6h0M73.6 116.5h0M88.3 102.6h0M64.7 129.1h0M88.7 102.0h0M88.4 102.6h0M66.9 125.2h0M102.9 85.3h0M61.9 127.9h0M99.4 81.7h0M69.5 118.8h0M104.0 84.0h0M81.6 107.7h0M75.0 110.3h0M118.5 69.1h0M101.5 87.3h0M71.4 120.2h0M65.6 127.5h0M74.8 115.7h0M111.1 76.7h0M94.1 88.7h0M78.2 109.9h0M68.0 123.2h0M117.6 67.7h0M91.0 97.3h0M67.8 123.2h0M98.0 89.9h0M75.8 115.7h0M65.5 126.7h0M80.8 111.0h0M108.6 80.0h0M85.1 101.7h0M73.5 105.3h0M82.2 106.8h0M105.2 82.7h0M91.2 99.6h0M102.6 86.0h0M79.0 109.2h0M95.4 93.9h0M100.2 89.4h0M102.1 86.3h0M88.5 94.9h0M102.1 86.7h0M65.7 121.9h0M109.8 75.4h0M64.4 129.3h0M78.6 112.9h0M89.5 97.4h0M71.6 117.7h0M83.4 101.2h0M103.3 86.0h0M94.8 92.4h0M94.5 94.5h0M63.7 128.6h0M105.8 80.7h0M90.7 100.0h0M101.3 87.4h0M90.5 99.1h0M80.7 111.1h0M63.5 130.3h0M108.8 79.5h0M67.4 124.3h0M84.0 103.7h0M98.5 84.8h0M103.3 84.9h0M78.1 110.3h0M83.7 105.3h0M105.0 84.0h0M102.1 86.7h0M115.7 71.9h0M72.1 119.0h0M84.9 103.3h0M86.8 99.2h0M100.9 88.4h0M70.2 122.4h0M96.5 93.1h0M100.7 86.1h0M63.4 125.4h0M70.8 122.2h0M93.0 95.4h0M95.5 94.7h0M80.6 110.3h0M85.7 99.5h0M82.9 104.0h0M90.3 99.9h0M78.9 101.1h0M110.6 77.8h0M94.4 95.3h0M95.7 91.2h0M78.2 112.1h0M100.9 88.6h0M64.1 128.6h0M64.6 125.4h0M113.9 72.7h0M100.5 89.1h0M120.7 66.6h0M66.2 126.4h0M85.1 105.4h0M98.9 88.2h0M100.1 89.6h0M75.5 112.3h0M88.3 98.4h0M61.6 131.1h0M91.2 97.5h0M87.3 103.9h0M108.0 80.3h0M98.2 90.6h0M106.1 82.0h0M74.8 114.5h0M66.6 126.7h0M61.8 130.1h0M110.6 77.6h0M66.8 121.0h0M102.5 86.8h0M68.7 118.9h0M82.1 109.4h0M94.6 90.0h0M69.2 116.0h0M69.9 122.1h0M115.4 71.7h0M77.8 110.1h0M114.1 74.0h0M83.9 92.2h0M69.6 119.4h0M72.6 115.4h0M85.1 105.0h0M64.0 125.3h0M70.7 118.0h0M80.1 106.4h0M67.1 125.1h0M95.1 94.8h0M72.0 119.3h0M79.9 112.1h0M82.2 109.1h0M65.7 126.7h0M98.9 88.5h0M62.2 120.9h0M103.8 85.0h0M103.0 83.8h0M75.2 114.7h0M99.9 89.5h0M103.6 85.7h0M95.6 83.5h0M70.8 120.2h0M81.4 110.3h0M99.7 89.0h0M86.8 103.0h0M64.6 126.0h0M88.7 98.5h0M69.0 107.5h0M61.7 127.8h0M65.8 127.5h0M62.3 118.6h0M78.6 111.9h0M87.4 100.9h0M79.1 113.0h0M66.8 125.2h0M92.5 97.3h0M72.1 110.6h0M73.7 119.0h0M63.5 116.9h0M80.3 109.6h0M93.0 95.4h0M119.6 67.6h0M70.7 121.9h0M67.4 124.3h0M101.0 84.6h0M93.8 96.6h0M88.1 103.0h0M79.9 108.6h0M103.7 85.6h0M119.2 67.6h0M76.7 114.8h0M110.5 77.9h0M85.3 105.8h0M85.5 103.8h0M64.5 126.4h0M93.2 96.7h0M86.6 104.6h0M75.5 110.8h0M100.6 88.5h0M64.5 116.8h0M84.4 106.0h0M93.9 94.6h0M91.6 98.9h0M95.1 90.6h0M109.3 77.8h0M66.9 124.4h0M64.3 129.5h0M70.7 117.2h0M77.6 102.5h0M80.4 111.4h0M78.6 106.7h0M63.0 126.7h0M90.1 100.0h0M64.5 128.5h0M99.5 89.8h0M91.1 99.5h0M87.4 103.1h0M84.8 102.0h0M73.4 118.1h0M64.4 126.1h0M87.1 101.7h0M109.3 79.2h0M81.6 109.5h0M117.6 69.8h0M102.1 80.1h0M69.7 118.5h0M76.2 115.9h0M110.1 78.4h0M64.5 126.7h0M97.7 92.0h0M82.9 104.9h0M69.3 121.5h0M68.6 124.8h0M115.6 71.6h0M71.6 121.5h0M70.6 119.3h0M86.7 104.1h0M87.8 95.7h0M121.5 65.1h0M83.7 107.6h0M100.9 86.9h0M105.1 83.1h0M72.4 116.5h0M65.1 128.7h0M106.4 82.5h0M87.9 102.1h0M78.9 113.2h0M89.6 99.4h0M98.9 89.3h0M64.6 127.9h0M71.0 120.0h0M105.4 83.0h0M85.7 101.2h0M72.8 114.5h0M97.4 91.2h0M88.2 96.9h0M116.9 70.5h0M107.1 81.4h0M95.5 94.7h0M77.4 107.0h0M115.2 72.1h0M70.0 121.1h0M101.3 87.9h0M89.9 99.6h0M78.0 109.0h0M115.3 72.6h0M94.5 89.7h0M92.6 96.4h0M66.6 117.5h0M66.1 124.7h0M119.5 67.9h0M93.2 97.2h0M84.9 106.3h0M62.2 125.8h0M88.1 97.5h0M81.8 110.1h0M100.7 88.8h0M105.5 83.1h0M96.2 92.3h0M76.8 110.8h0M70.6 120.5h0M79.4 109.0h0M72.4 120.1h0M68.9 124.3h0M100.8 88.7h0M90.2 94.9h0M95.8 93.9h0M98.5 89.6h0M70.1 123.1h0M75.0 113.7h0M66.3 125.5h0M128.6 58.0h0M125.5 61.5h0" stroke="#ff2a1a" stroke-width="1.7" stroke-linecap="round" fill="none"/>
<path d="M112.1 92.1h0M97.5 110.1h0M98.8 112.5h0M115.9 87.2h0M88.3 118.6h0M103.2 102.9h0M86.9 119.8h0M131.5 72.9h0M94.3 112.9h0M127.2 74.5h0M102.0 102.7h0M132.0 70.2h0M127.1 75.1h0M116.7 86.6h0M129.2 72.1h0M88.0 118.5h0M106.5 99.5h0M113.4 90.0h0M90.0 116.6h0M86.5 119.9h0M131.2 72.9h0M94.9 111.6h0M102.4 102.4h0M127.4 81.4h0M122.2 82.1h0M89.8 121.7h0M88.4 117.7h0M107.2 96.8h0M81.4 126.4h0M112.9 90.3h0M109.2 94.4h0M100.6 105.8h0M96.6 111.6h0M130.2 71.7h0M87.4 121.7h0M115.6 87.8h0M91.3 114.4h0M82.7 125.2h0M119.1 83.9h0M133.9 71.8h0M96.6 112.3h0M98.7 106.2h0M103.5 101.4h0M98.4 107.7h0M87.6 119.0h0M134.2 67.5h0M118.0 85.6h0M119.1 86.3h0M124.9 76.9h0M103.1 101.6h0M97.9 107.6h0M115.2 87.7h0M95.7 110.3h0M130.5 72.8h0M94.6 114.0h0M119.0 84.2h0M89.5 119.9h0M83.8 123.7h0M130.7 71.7h0M107.8 102.0h0M105.2 99.9h0M99.5 106.2h0M89.1 118.0h0M115.1 88.0h0M111.5 95.0h0M94.2 111.6h0M130.9 73.5h0M120.1 82.4h0M96.8 108.8h0M98.2 107.3h0M116.7 98.6h0M91.9 116.2h0M113.2 90.5h0M108.1 96.8h0M79.2 130.3h0M118.1 85.4h0M128.5 74.1h0M120.0 83.5h0M109.8 98.3h0M113.4 91.5h0M108.7 95.3h0M104.1 100.4h0M99.2 105.8h0M87.2 119.2h0M83.9 127.4h0M116.8 88.0h0M109.6 95.9h0M97.6 107.4h0M125.0 78.5h0M82.8 124.8h0M90.0 116.1h0M122.3 80.2h0M115.8 89.2h0M109.0 95.7h0M131.7 71.2h0M97.6 111.2h0M88.2 118.8h0M109.5 94.9h0M108.5 95.2h0M109.7 95.7h0M88.1 119.4h0M120.3 83.5h0M101.2 110.6h0M124.8 78.9h0M120.8 84.7h0M114.2 89.5h0M92.6 117.1h0M112.6 98.0h0M110.8 96.7h0M108.7 95.6h0M120.9 81.8h0M105.6 101.6h0M108.0 99.2h0M121.8 83.2h0M106.1 98.1h0M111.4 95.0h0M110.5 96.4h0M91.0 115.3h0M86.2 120.2h0M79.9 128.4h0M92.5 115.7h0M129.1 75.2h0M90.3 116.0h0M108.1 96.1h0M106.4 104.1h0M98.5 108.1h0M126.5 75.1h0M120.7 83.1h0M116.3 89.6h0M96.4 109.8h0M112.2 96.2h0M105.7 99.5h0M102.0 106.2h0M122.1 80.3h0M89.1 117.1h0M118.3 88.7h0M131.5 70.5h0M94.7 110.9h0M117.7 89.5h0M106.0 98.1h0M94.8 113.3h0M111.3 92.9h0M106.2 98.3h0M117.9 87.1h0M120.5 81.8h0M94.5 113.6h0M95.3 111.5h0M103.1 103.5h0M84.9 122.7h0M109.6 96.7h0M118.3 89.9h0M121.2 81.2h0M131.9 69.3h0M125.0 79.0h0M120.2 83.7h0M132.9 72.2h0M85.2 121.5h0M112.6 100.1h0M108.0 101.6h0M80.9 126.2h0M97.2 110.4h0M101.3 103.9h0M95.3 110.8h0M108.8 95.2h0M112.5 97.0h0M115.2 88.0h0M91.5 114.5h0M116.9 87.6h0M116.6 87.0h0M96.4 109.7h0M119.8 85.5h0M97.9 108.1h0M116.3 86.6h0M104.6 108.2h0M100.1 104.7h0M106.8 101.6h0M77.4 132.4h0M101.8 103.4h0M98.6 107.6h0M131.9 71.2h0M92.7 114.4h0M96.2 109.1h0M104.9 102.6h0M105.0 100.1h0M94.9 112.5h0M126.2 75.6h0M117.5 88.8h0M108.1 96.9h0M121.4 82.1h0M100.9 106.4h0M111.1 98.8h0M129.8 71.4h0M92.5 114.6h0M87.1 121.9h0M111.1 95.3h0M94.9 111.6h0M81.3 126.5h0M92.5 114.2h0M104.3 101.2h0M108.2 95.6h0M92.6 113.0h0M105.5 98.6h0M100.8 106.4h0M130.3 71.2h0M98.3 110.1h0M108.0 98.4h0M88.9 117.5h0M115.3 88.7h0M98.3 106.6h0M107.5 96.7h0M123.2 79.8h0M112.3 91.4h0M93.3 116.4h0M106.6 98.7h0M127.9 74.0h0M113.5 89.7h0M91.5 114.6h0M131.0 70.2h0M121.6 81.0h0M107.8 97.4h0M111.3 92.5h0M109.2 94.6h0M127.0 75.0h0M85.9 126.8h0M100.0 104.8h0M94.4 112.8h0M100.5 105.6h0M126.4 75.1h0M105.3 100.1h0M99.9 106.9h0M103.3 102.1h0M130.5 71.8h0M115.5 87.5h0M101.3 105.3h0M95.3 111.6h0M108.7 97.1h0M109.4 94.6h0M128.8 72.5h0M108.5 97.0h0M117.9 89.1h0M117.0 86.1h0M87.3 118.9h0M95.2 110.6h0M99.0 106.4h0M100.6 104.5h0M83.0 124.0h0M107.4 100.7h0M81.0 127.3h0M113.6 89.9h0M126.3 75.5h0M116.7 86.2h0M116.8 86.7h0M87.0 119.9h0M103.5 101.9h0M86.8 121.1h0M122.8 79.4h0M97.0 108.3h0M118.6 87.3h0M114.8 89.6h0M95.9 110.8h0M131.3 70.7h0M100.4 104.5h0M100.0 106.6h0M93.6 112.5h0M119.3 85.9h0M111.4 91.9h0M92.8 113.2h0M91.9 114.1h0M112.8 91.7h0M94.0 111.7h0M124.2 79.2h0M91.3 116.7h0M79.2 129.5h0M94.2 112.7h0M105.0 100.8h0M114.6 88.9h0M84.5 129.3h0M112.1 91.6h0M120.0 82.6h0M94.3 111.2h0M93.8 111.9h0M120.8 84.8h0M88.9 118.1h0M119.9 83.4h0M111.3 96.9h0M113.3 91.0h0M96.4 110.8h0M86.0 120.6h0M92.0 114.9h0M105.1 100.3h0M103.1 102.5h0M107.9 97.9h0M95.0 113.3h0M102.3 103.8h0M98.2 109.0h0M119.0 83.5h0M107.2 97.4h0M120.4 81.9h0M94.7 113.1h0M109.0 95.9h0M101.7 105.3h0M101.2 104.5h0M107.6 96.4h0M87.1 120.5h0M88.3 121.2h0M117.0 88.4h0M99.8 105.0h0M112.3 91.2h0M111.9 91.9h0M131.2 70.6h0M83.0 123.7h0M95.0 115.3h0M124.2 79.2h0M101.6 107.0h0M107.6 96.7h0M96.5 109.2h0M122.6 81.4h0M88.6 120.9h0M130.6 70.9h0M97.0 116.6h0M92.5 113.3h0M109.7 95.0h0M105.5 102.1h0M128.7 73.2h0M112.6 90.7h0M101.6 108.2h0M99.1 108.3h0M87.2 119.2h0M126.7 75.2h0M110.3 95.6h0M96.9 109.7h0M122.7 82.1h0M121.3 81.5h0M93.7 112.8h0M101.6 105.9h0M77.4 130.4h0M97.8 110.9h0M96.6 112.2h0M103.6 104.4h0M117.6 86.0h0M96.6 108.7h0M111.2 92.4h0M99.4 105.9h0M121.7 82.4h0M114.7 89.3h0M108.1 97.0h0M112.5 93.3h0M86.4 120.7h0M101.8 106.9h0M109.4 94.2h0M124.0 78.7h0M83.6 123.3h0M116.3 89.5h0M96.3 109.3h0M102.2 103.0h0M130.4 70.8h0M127.4 74.3h0M121.3 83.4h0M120.4 84.9h0M81.1 127.1h0M109.9 95.0h0M127.6 77.0h0M121.6 82.2h0M86.9 119.7h0M86.7 120.2h0M114.6 89.7h0M118.5 84.2h0M89.1 116.9h0M126.8 75.5h0M108.1 96.6h0M94.3 114.4h0M116.4 87.5h0M113.7 89.5h0M119.8 84.7h0M88.6 123.9h0M102.8 103.5h0M85.7 121.7h0M131.6 69.6h0M94.8 111.2h0M98.2 111.5h0M101.3 104.3h0M104.6 101.3h0M92.0 117.2h0M119.0 84.1h0M116.0 88.3h0M110.0 96.1h0M102.4 104.8h0M101.7 104.0h0M120.2 82.9h0M100.2 106.3h0M106.8 97.9h0M129.2 72.4h0M111.6 95.3h0M96.9 109.2h0M117.0 86.4h0M120.1 86.4h0M120.7 83.9h0M102.5 102.2h0M93.8 115.6h0M128.0 73.8h0M88.7 121.0h0M119.5 83.2h0M103.5 101.5h0M110.9 94.6h0M110.1 93.6h0M124.2 81.2h0M109.1 95.2h0M118.4 84.5h0M93.8 113.4h0M108.2 98.2h0M133.9 67.5h0M88.8 117.9h0M113.6 100.1h0M119.4 83.6h0M107.5 98.1h0M117.5 85.2h0M89.2 117.4h0M125.4 77.3h0M109.4 95.6h0M87.1 128.7h0M98.7 108.2h0M114.8 90.2h0M122.7 79.4h0M103.1 104.8h0M121.0 82.9h0M116.4 87.2h0M104.7 100.2h0M110.8 92.6h0M114.1 89.5h0M94.1 113.7h0M133.1 69.0h0M95.5 117.2h0M113.5 90.9h0M102.8 101.8h0M102.8 102.7h0M106.9 98.7h0M95.5 111.4h0M103.3 101.1h0M124.6 78.8h0M122.1 81.4h0M108.8 95.7h0M112.0 92.8h0M120.4 88.2h0M112.8 90.5h0M118.3 85.0h0M117.1 89.5h0M95.0 112.6h0M123.0 79.8h0M108.9 97.8h0M106.1 98.6h0M92.8 113.9h0M95.6 110.2h0M115.3 96.7h0M76.8 134.1h0M116.5 86.3h0M117.4 87.5h0M105.7 98.5h0M95.7 110.5h0M110.9 92.9h0M90.7 117.4h0M104.8 100.0h0M96.0 110.1h0M110.9 98.1h0M126.0 76.7h0M106.3 99.2h0M90.8 115.8h0M120.0 84.1h0M97.2 107.9h0M122.4 83.1h0M131.2 72.9h0M91.9 115.9h0M111.2 92.2h0M111.7 92.2h0M97.3 108.1h0M112.2 93.9h0M108.8 96.4h0M98.7 110.0h0M106.9 98.3h0M96.0 110.2h0M122.9 82.0h0M125.3 76.9h0M113.7 89.7h0M115.8 87.1h0M118.7 84.8h0M114.0 89.1h0M86.7 120.7h0M127.7 74.8h0M133.2 68.7h0M82.1 124.9h0M96.6 109.5h0M132.5 71.0h0M95.8 114.5h0M92.4 115.2h0M95.6 110.8h0M113.6 90.2h0M134.0 66.8h0M103.4 102.8h0M121.8 81.0h0M98.6 107.3h0M130.5 72.4h0M108.8 95.6h0M94.0 113.3h0M114.3 90.7h0M96.4 108.7h0M114.3 89.4h0M122.7 79.6h0M76.1 132.2h0M132.1 68.8h0M96.1 109.1h0M97.1 108.2h0M108.8 95.0h0M108.3 96.2h0M114.1 90.5h0M100.0 108.2h0M114.4 90.5h0M84.7 122.9h0M114.9 88.3h0M96.8 110.9h0M125.4 77.4h0M126.9 76.1h0M95.9 111.0h0M121.7 83.8h0M93.0 113.1h0M101.1 104.7h0M119.0 86.1h0M103.4 101.7h0M98.0 109.7h0M99.3 107.3h0M109.7 95.1h0M88.6 117.8h0M131.5 69.8h0M98.6 106.6h0M130.8 70.7h0M97.9 110.7h0M122.0 84.1h0M128.8 72.5h0M119.6 84.5h0M121.7 82.4h0M119.8 82.7h0M110.6 95.6h0M116.3 88.5h0M92.9 114.5h0M105.7 98.9h0M101.1 103.5h0M118.2 84.6h0M127.9 74.0h0M104.6 100.6h0M93.4 113.0h0M112.0 91.3h0M108.4 97.6h0M83.3 130.2h0M115.2 91.9h0M121.8 88.0h0M90.6 115.5h0M119.2 83.3h0M128.5 76.8h0M83.8 124.7h0M111.4 92.1h0M134.1 67.6h0M95.4 111.5h0M111.2 100.6h0M109.2 94.8h0M108.0 99.8h0M113.9 91.5h0M130.4 71.6h0M128.4 80.0h0M118.3 84.7h0M115.5 89.1h0M99.7 112.3h0M99.8 106.5h0M130.2 75.0h0M90.3 118.6h0M123.9 78.7h0M120.8 82.2h0M114.8 90.4h0M133.4 69.2h0M96.0 109.9h0M116.6 86.2h0M103.1 102.9h0M131.3 71.9h0M129.2 72.5h0M111.7 91.9h0M94.0 111.8h0M110.8 93.8h0M77.1 130.7h0M105.3 101.5h0M118.4 85.3h0M96.3 114.5h0M94.1 112.4h0M118.5 87.5h0M120.9 87.7h0M98.3 111.3h0M118.2 87.5h0M104.2 102.6h0M125.0 76.8h0M115.0 89.0h0M108.2 96.4h0M106.7 97.8h0M94.6 114.1h0M103.8 102.0h0M103.3 101.4h0M110.3 94.0h0M98.4 109.4h0M90.3 115.6h0M109.8 95.8h0M126.2 75.8h0M129.5 71.9h0M106.5 100.8h0M129.9 72.7h0M118.8 85.2h0M119.5 83.4h0M81.1 127.5h0M102.0 102.8h0M121.0 82.3h0M109.6 95.1h0M102.5 101.9h0M87.9 119.2h0M127.4 74.6h0M87.1 120.2h0M81.9 127.8h0M129.3 73.2h0M107.9 96.1h0M100.1 107.5h0M118.6 87.3h0M94.2 112.8h0M130.0 74.3h0M120.4 82.6h0M100.8 106.5h0M107.2 96.9h0M113.1 90.4h0M106.4 97.9h0M105.4 100.4h0M97.3 108.9h0M120.9 87.8h0M100.3 106.8h0M108.3 96.0h0M104.4 100.4h0M118.9 83.8h0M115.3 90.1h0M117.0 87.7h0M110.8 92.8h0M110.5 95.0h0M95.4 113.3h0M114.8 91.3h0M124.5 78.4h0M100.7 107.5h0M120.0 82.8h0M117.5 86.9h0M92.7 114.3h0M104.6 103.8h0M93.7 114.6h0M96.8 111.0h0M111.0 95.1h0M89.9 116.6h0M131.9 70.5h0M111.7 96.9h0M110.3 93.2h0M99.8 112.0h0M107.8 96.2h0M118.6 84.5h0M85.4 123.3h0M121.0 82.8h0M132.2 70.1h0M117.8 91.2h0M102.7 102.7h0M111.4 92.0h0M119.6 85.5h0M107.3 97.0h0M87.1 119.5h0M106.6 97.3h0M106.0 98.8h0M97.1 111.8h0M118.7 83.8h0M118.7 85.5h0M106.0 98.8h0M106.9 97.3h0M101.7 103.6h0M106.6 99.2h0M112.4 91.4h0M132.1 70.5h0M101.5 106.9h0M110.9 103.0h0M121.3 81.3h0M120.6 83.8h0M111.4 92.1h0M103.6 100.9h0M128.6 74.8h0M111.8 91.7h0M103.3 104.9h0M106.6 98.6h0M129.8 71.8h0M106.4 98.9h0M108.7 97.8h0M130.1 71.0h0M92.5 113.8h0M115.4 90.1h0M121.8 81.0h0M98.2 107.9h0M94.7 112.0h0M111.9 93.2h0M132.9 69.6h0M128.0 73.9h0M107.0 99.6h0M97.0 108.2h0M102.0 107.2h0M76.6 131.5h0M103.3 101.2h0M128.3 73.3h0M84.2 124.4h0M105.2 98.9h0M98.1 108.7h0M102.6 102.9h0M105.2 99.6h0M92.8 113.3h0M117.4 87.0h0M113.1 90.3h0M127.1 75.7h0M111.7 91.7h0M122.2 80.7h0M102.1 104.6h0M88.6 117.9h0M124.2 80.0h0M129.7 71.8h0M99.9 107.6h0M92.9 113.5h0M92.8 112.9h0M149.8 53.5h0M143.0 60.2h0M138.9 61.3h0M141.5 63.0h0" stroke="#1a1aff" stroke-width="1.7" stroke-linecap="round" fill="none"/>
<rect x="55.4" y="6.3" width="128.2" height="134.7" fill="none" stroke="#444" stroke-width="1.15"/>
<text x="59.7" y="13.8" font-size="5.5" font-weight="bold" fill="#111">Up−regulated genes: 790</text>
<text x="59.7" y="19.9" font-size="5.5" font-weight="bold" fill="#111">Down−regulated genes: 726</text>
<line x1="53.6" y1="139.70" x2="55.4" y2="139.70" stroke="#444" stroke-width="0.9"/>
<text x="52.9" y="142.50" font-size="7.7" text-anchor="end" fill="#222">-5</text>
<line x1="63.00" y1="141.0" x2="63.00" y2="142.8" stroke="#444" stroke-width="0.9"/>
<text x="63.00" y="150.9" font-size="7.7" text-anchor="middle" fill="#222">-5</text>
<line x1="53.6" y1="111.10" x2="55.4" y2="111.10" stroke="#444" stroke-width="0.9"/>
<text x="52.9" y="113.90" font-size="7.7" text-anchor="end" fill="#222">0</text>
<line x1="88.60" y1="141.0" x2="88.60" y2="142.8" stroke="#444" stroke-width="0.9"/>
<text x="88.60" y="150.9" font-size="7.7" text-anchor="middle" fill="#222">0</text>
<line x1="53.6" y1="82.50" x2="55.4" y2="82.50" stroke="#444" stroke-width="0.9"/>
<text x="52.9" y="85.30" font-size="7.7" text-anchor="end" fill="#222">5</text>
<line x1="114.20" y1="141.0" x2="114.20" y2="142.8" stroke="#444" stroke-width="0.9"/>
<text x="114.20" y="150.9" font-size="7.7" text-anchor="middle" fill="#222">5</text>
<line x1="53.6" y1="53.90" x2="55.4" y2="53.90" stroke="#444" stroke-width="0.9"/>
<text x="52.9" y="56.70" font-size="7.7" text-anchor="end" fill="#222">10</text>
<line x1="139.80" y1="141.0" x2="139.80" y2="142.8" stroke="#444" stroke-width="0.9"/>
<text x="139.80" y="150.9" font-size="7.7" text-anchor="middle" fill="#222">10</text>
<line x1="53.6" y1="25.30" x2="55.4" y2="25.30" stroke="#444" stroke-width="0.9"/>
<text x="52.9" y="28.10" font-size="7.7" text-anchor="end" fill="#222">15</text>
<line x1="165.40" y1="141.0" x2="165.40" y2="142.8" stroke="#444" stroke-width="0.9"/>
<text x="165.40" y="150.9" font-size="7.7" text-anchor="middle" fill="#222">15</text>
<text x="117.7" y="158.2" font-size="5.95" font-weight="bold" text-anchor="middle" fill="#111"><tspan font-style="italic">Chm</tspan><tspan font-size="3.9" dy="-2.1">fl</tspan><tspan dy="2.1"> (log</tspan><tspan font-size="3.9" dy="1.6">10</tspan><tspan dy="-1.6">RPKM)</tspan></text>
<text transform="translate(40.9,75.9) rotate(-90)" x="0" y="0" font-size="5.85" font-weight="bold" text-anchor="middle" fill="#111"><tspan font-style="italic">Chm</tspan><tspan font-size="3.8" dy="-2.1">fl/Y</tspan><tspan dy="2.1">, </tspan><tspan font-style="italic">Six3-Cre</tspan><tspan> (log</tspan><tspan font-size="3.8" dy="1.6">10</tspan><tspan dy="-1.6">RPKM)</tspan></text>
<text x="188" y="71.4" font-size="5.6" font-weight="bold" fill="#111">type</text>
<circle cx="192.3" cy="76.6" r="1" fill="#ff2a1a"/>
<circle cx="192.3" cy="81.9" r="1" fill="#1a1aff"/>
<text x="194.9" y="78.3" font-size="4.6" fill="#111">UP</text>
<text x="194.9" y="83.9" font-size="4.6" fill="#111">Down</text>
<rect x="54.9" y="175.4" width="120.5" height="141.9" fill="#fff"/>
<line x1="61.35" y1="175.4" x2="61.35" y2="317.3" stroke="#f0f0f0" stroke-width="0.9"/>
<line x1="101.65" y1="175.4" x2="101.65" y2="317.3" stroke="#f0f0f0" stroke-width="0.9"/>
<line x1="141.95" y1="175.4" x2="141.95" y2="317.3" stroke="#f0f0f0" stroke-width="0.9"/>
<line x1="54.9" y1="293.81" x2="175.4" y2="293.81" stroke="#f0f0f0" stroke-width="0.9"/>
<line x1="54.9" y1="266.69" x2="175.4" y2="266.69" stroke="#f0f0f0" stroke-width="0.9"/>
<line x1="54.9" y1="239.56" x2="175.4" y2="239.56" stroke="#f0f0f0" stroke-width="0.9"/>
<line x1="54.9" y1="212.44" x2="175.4" y2="212.44" stroke="#f0f0f0" stroke-width="0.9"/>
<line x1="54.9" y1="185.31" x2="175.4" y2="185.31" stroke="#f0f0f0" stroke-width="0.9"/>
<line x1="81.50" y1="175.4" x2="81.50" y2="317.3" stroke="#ebebeb" stroke-width="1.5"/>
<line x1="121.80" y1="175.4" x2="121.80" y2="317.3" stroke="#ebebeb" stroke-width="1.5"/>
<line x1="162.10" y1="175.4" x2="162.10" y2="317.3" stroke="#ebebeb" stroke-width="1.5"/>
<line x1="54.9" y1="307.38" x2="175.4" y2="307.38" stroke="#ebebeb" stroke-width="1.5"/>
<line x1="54.9" y1="280.25" x2="175.4" y2="280.25" stroke="#ebebeb" stroke-width="1.5"/>
<line x1="54.9" y1="253.12" x2="175.4" y2="253.12" stroke="#ebebeb" stroke-width="1.5"/>
<line x1="54.9" y1="226.00" x2="175.4" y2="226.00" stroke="#ebebeb" stroke-width="1.5"/>
<line x1="54.9" y1="198.88" x2="175.4" y2="198.88" stroke="#ebebeb" stroke-width="1.5"/>
<circle cx="60.4" cy="181.2" r="1.2" fill="#f06060"/>
<circle cx="73.9" cy="207.5" r="1.2" fill="#f06060"/>
<circle cx="92.0" cy="311.0" r="1.2" fill="#f06060"/>
<polygon points="170.00,210.85 168.40,213.62 171.60,213.62" fill="#2cc7c7"/>
<polygon points="170.30,217.85 168.70,220.62 171.90,220.62" fill="#2cc7c7"/>
<polygon points="165.40,219.85 163.80,222.62 167.00,222.62" fill="#2cc7c7"/>
<rect x="54.9" y="175.4" width="120.5" height="141.9" fill="none" stroke="#3a3a3a" stroke-width="1.1"/>
<line x1="52.9" y1="307.38" x2="54.9" y2="307.38" stroke="#222" stroke-width="0.9"/>
<text x="51.8" y="310.07" font-size="7.3" text-anchor="end" fill="#444">−150</text>
<line x1="52.9" y1="280.25" x2="54.9" y2="280.25" stroke="#222" stroke-width="0.9"/>
<text x="51.8" y="282.95" font-size="7.3" text-anchor="end" fill="#444">−100</text>
<line x1="52.9" y1="253.12" x2="54.9" y2="253.12" stroke="#222" stroke-width="0.9"/>
<text x="51.8" y="255.82" font-size="7.3" text-anchor="end" fill="#444">−50</text>
<line x1="52.9" y1="226.00" x2="54.9" y2="226.00" stroke="#222" stroke-width="0.9"/>
<text x="51.8" y="228.70" font-size="7.3" text-anchor="end" fill="#444">0</text>
<line x1="52.9" y1="198.88" x2="54.9" y2="198.88" stroke="#222" stroke-width="0.9"/>
<text x="51.8" y="201.57" font-size="7.3" text-anchor="end" fill="#444">50</text>
<line x1="81.50" y1="317.3" x2="81.50" y2="319.3" stroke="#222" stroke-width="0.9"/>
<text x="81.50" y="327.3" font-size="7.3" text-anchor="middle" fill="#444">−100</text>
<line x1="121.80" y1="317.3" x2="121.80" y2="319.3" stroke="#222" stroke-width="0.9"/>
<text x="121.80" y="327.3" font-size="7.3" text-anchor="middle" fill="#444">0</text>
<line x1="162.10" y1="317.3" x2="162.10" y2="319.3" stroke="#222" stroke-width="0.9"/>
<text x="162.10" y="327.3" font-size="7.3" text-anchor="middle" fill="#444">100</text>
<text x="123.4" y="340" font-size="7.2" font-weight="bold" text-anchor="middle" fill="#111">pc1( 43.22 %)</text>
<text transform="translate(32.6,241.3) rotate(-90)" font-size="7.35" font-weight="bold" text-anchor="middle" fill="#111">pc2(16.94%)</text>
<text x="137.2" y="182.3" font-size="6.1" font-weight="bold" fill="#111">group</text>
<circle cx="137.6" cy="188.5" r="1.85" fill="none" stroke="#ee5a5a" stroke-width="1.15"/>
<polygon points="137.80,192.94 135.50,196.93 140.10,196.93" fill="none" stroke="#3cc8be" stroke-width="1.2"/>
<text x="142" y="189.9" font-size="3.5" font-style="italic" font-weight="bold" fill="#111" textLength="27.1" lengthAdjust="spacingAndGlyphs">Chm<tspan font-size="2.3" dy="-1.3">fl/Y</tspan><tspan dy="1.3">; Six3-Cre</tspan></text>
<text x="142" y="196.7" font-size="3.7" font-style="italic" font-weight="bold" fill="#111" textLength="10.2" lengthAdjust="spacingAndGlyphs">Chm<tspan font-size="2.4" dy="-1.3">fl</tspan></text>
<rect x="59.0" y="388.4" width="102.72" height="102.72" fill="#4cf41e"/>
<rect x="59.00" y="388.40" width="17.42" height="17.42" fill="#46fa14"/>
<rect x="76.12" y="388.40" width="17.42" height="17.42" fill="#4cf41e"/>
<rect x="93.24" y="388.40" width="17.42" height="17.42" fill="#4cf41e"/>
<rect x="110.36" y="388.40" width="17.42" height="17.42" fill="#5ae422"/>
<rect x="127.48" y="388.40" width="17.42" height="17.42" fill="#62d422"/>
<rect x="144.60" y="388.40" width="17.42" height="17.42" fill="#ff2412"/>
<rect x="59.00" y="405.52" width="17.42" height="17.42" fill="#46fa14"/>
<rect x="76.12" y="405.52" width="17.42" height="17.42" fill="#4cf41e"/>
<rect x="93.24" y="405.52" width="17.42" height="17.42" fill="#4cf41e"/>
<rect x="110.36" y="405.52" width="17.42" height="17.42" fill="#5ae422"/>
<rect x="127.48" y="405.52" width="17.42" height="17.42" fill="#ff2412"/>
<rect x="144.60" y="405.52" width="17.42" height="17.42" fill="#68ca22"/>
<rect x="59.00" y="422.64" width="17.42" height="17.42" fill="#46fa14"/>
<rect x="76.12" y="422.64" width="17.42" height="17.42" fill="#4cf41e"/>
<rect x="93.24" y="422.64" width="17.42" height="17.42" fill="#4cf41e"/>
<rect x="110.36" y="422.64" width="17.42" height="17.42" fill="#ff2412"/>
<rect x="127.48" y="422.64" width="17.42" height="17.42" fill="#5ae422"/>
<rect x="144.60" y="422.64" width="17.42" height="17.42" fill="#5ae422"/>
<rect x="59.00" y="439.76" width="17.42" height="17.42" fill="#5ae422"/>
<rect x="76.12" y="439.76" width="17.42" height="17.42" fill="#5ae422"/>
<rect x="93.24" y="439.76" width="17.42" height="17.42" fill="#ff2412"/>
<rect x="110.36" y="439.76" width="17.42" height="17.42" fill="#4cf41e"/>
<rect x="127.48" y="439.76" width="17.42" height="17.42" fill="#4cf41e"/>
<rect x="144.60" y="439.76" width="17.42" height="17.42" fill="#4cf41e"/>
<rect x="59.00" y="456.88" width="17.42" height="17.42" fill="#4cf41e"/>
<rect x="76.12" y="456.88" width="17.42" height="17.42" fill="#ff2412"/>
<rect x="93.24" y="456.88" width="17.42" height="17.42" fill="#5ae422"/>
<rect x="110.36" y="456.88" width="17.42" height="17.42" fill="#4cf41e"/>
<rect x="127.48" y="456.88" width="17.42" height="17.42" fill="#4cf41e"/>
<rect x="144.60" y="456.88" width="17.42" height="17.42" fill="#4cf41e"/>
<rect x="59.00" y="474.00" width="17.42" height="17.42" fill="#ff2412"/>
<rect x="76.12" y="474.00" width="17.42" height="17.42" fill="#4cf41e"/>
<rect x="93.24" y="474.00" width="17.42" height="17.42" fill="#5ae422"/>
<rect x="110.36" y="474.00" width="17.42" height="17.42" fill="#46fa14"/>
<rect x="127.48" y="474.00" width="17.42" height="17.42" fill="#46fa14"/>
<rect x="144.60" y="474.00" width="17.42" height="17.42" fill="#46fa14"/>
<text x="163.9" y="398.76" font-size="4.6" fill="#111" stroke="#111" stroke-width="0.07">Ctrl_rep3</text>
<text x="163.9" y="415.88" font-size="4.6" fill="#111" stroke="#111" stroke-width="0.07">Ctrl_rep1</text>
<text x="163.9" y="433.00" font-size="4.6" fill="#111" stroke="#111" stroke-width="0.07">Ctrl_rep2</text>
<text x="163.9" y="450.12" font-size="4.6" fill="#111" stroke="#111" stroke-width="0.07">CS_rep1</text>
<text x="163.9" y="467.24" font-size="4.6" fill="#111" stroke="#111" stroke-width="0.07">CS_rep3</text>
<text x="163.9" y="484.36" font-size="4.6" fill="#111" stroke="#111" stroke-width="0.07">CS_rep2</text>
<text transform="translate(69.16,494.1) rotate(-90)" font-size="4.6" text-anchor="end" fill="#111" stroke="#111" stroke-width="0.07">CS_rep2</text>
<text transform="translate(86.28,494.1) rotate(-90)" font-size="4.6" text-anchor="end" fill="#111" stroke="#111" stroke-width="0.07">CS_rep3</text>
<text transform="translate(103.40,494.1) rotate(-90)" font-size="4.6" text-anchor="end" fill="#111" stroke="#111" stroke-width="0.07">CS_rep1</text>
<text transform="translate(120.52,494.1) rotate(-90)" font-size="4.6" text-anchor="end" fill="#111" stroke="#111" stroke-width="0.07">Ctrl_rep2</text>
<text transform="translate(137.64,494.1) rotate(-90)" font-size="4.6" text-anchor="end" fill="#111" stroke="#111" stroke-width="0.07">Ctrl_rep1</text>
<text transform="translate(154.76,494.1) rotate(-90)" font-size="4.6" text-anchor="end" fill="#111" stroke="#111" stroke-width="0.07">Ctrl_rep3</text>
<path d="M84.7 387.6V365.6H101.8V387.6M67.6 387.6V363.1H93.2V365.6M136.0 387.6V366.4H153.2V387.6M118.9 387.6V364.8H144.6V366.4M80.4 363.1V357.4H131.8V364.8" fill="none" stroke="#111" stroke-width="1.1"/>
<path d="M58.0 397.0H37.1V414.1H58.0M58.0 431.2H35.6V405.5H37.1M58.0 448.3H36V465.4H58.0M58.0 482.6H33.9V456.9H36M35.6 418.4H28.3V469.7H33.9" fill="none" stroke="#111" stroke-width="1.1"/>
<defs><linearGradient id="ck" x1="0" x2="1" y1="0" y2="0"><stop offset="0" stop-color="#44f022"/><stop offset="0.18" stop-color="#50e024"/><stop offset="0.5" stop-color="#92a02a"/><stop offset="0.75" stop-color="#c0602a"/><stop offset="1" stop-color="#f2301e"/></linearGradient></defs>
<rect x="34.0" y="363.2" width="21.8" height="8.2" fill="url(#ck)" stroke="#111" stroke-width="1.1"/>
<line x1="34.2" y1="371.3" x2="34.2" y2="372.8" stroke="#111" stroke-width="0.7"/>
<line x1="39.4" y1="371.3" x2="39.4" y2="372.8" stroke="#111" stroke-width="0.7"/>
<line x1="44.7" y1="371.3" x2="44.7" y2="372.8" stroke="#111" stroke-width="0.7"/>
<line x1="50.0" y1="371.3" x2="50.0" y2="372.8" stroke="#111" stroke-width="0.7"/>
<line x1="55.3" y1="371.3" x2="55.3" y2="372.8" stroke="#111" stroke-width="0.7"/>
<text x="44.8" y="358.8" font-size="4.7" text-anchor="middle" fill="#000" stroke="#000" stroke-width="0.15">Color key</text>
<text x="32.7" y="378.8" font-size="4.6" text-anchor="middle" fill="#000" stroke="#000" stroke-width="0.15">0.92</text>
<text x="44.9" y="378.8" font-size="4.6" text-anchor="middle" fill="#000" stroke="#000" stroke-width="0.15">0.96</text>
<text x="56.2" y="378.8" font-size="4.6" text-anchor="middle" fill="#000" stroke="#000" stroke-width="0.15">1</text>
<rect x="422.8" y="34.5" width="169.3" height="450.2" fill="#ebebeb"/>
<line x1="422.8" y1="40.30" x2="592.1" y2="40.30" stroke="#fff" stroke-width="1.35"/>
<line x1="422.8" y1="50.26" x2="592.1" y2="50.26" stroke="#fff" stroke-width="1.35"/>
<line x1="422.8" y1="60.22" x2="592.1" y2="60.22" stroke="#fff" stroke-width="1.35"/>
<line x1="422.8" y1="70.19" x2="592.1" y2="70.19" stroke="#fff" stroke-width="1.35"/>
<line x1="422.8" y1="80.15" x2="592.1" y2="80.15" stroke="#fff" stroke-width="1.35"/>
<line x1="422.8" y1="90.11" x2="592.1" y2="90.11" stroke="#fff" stroke-width="1.35"/>
<line x1="422.8" y1="100.07" x2="592.1" y2="100.07" stroke="#fff" stroke-width="1.35"/>
<line x1="422.8" y1="110.03" x2="592.1" y2="110.03" stroke="#fff" stroke-width="1.35"/>
<line x1="422.8" y1="120.00" x2="592.1" y2="120.00" stroke="#fff" stroke-width="1.35"/>
<line x1="422.8" y1="129.96" x2="592.1" y2="129.96" stroke="#fff" stroke-width="1.35"/>
<line x1="422.8" y1="139.92" x2="592.1" y2="139.92" stroke="#fff" stroke-width="1.35"/>
<line x1="422.8" y1="149.88" x2="592.1" y2="149.88" stroke="#fff" stroke-width="1.35"/>
<line x1="422.8" y1="159.84" x2="592.1" y2="159.84" stroke="#fff" stroke-width="1.35"/>
<line x1="422.8" y1="169.81" x2="592.1" y2="169.81" stroke="#fff" stroke-width="1.35"/>
<line x1="422.8" y1="179.77" x2="592.1" y2="179.77" stroke="#fff" stroke-width="1.35"/>
<line x1="422.8" y1="189.73" x2="592.1" y2="189.73" stroke="#fff" stroke-width="1.35"/>
<line x1="422.8" y1="199.69" x2="592.1" y2="199.69" stroke="#fff" stroke-width="1.35"/>
<line x1="422.8" y1="209.65" x2="592.1" y2="209.65" stroke="#fff" stroke-width="1.35"/>
<line x1="422.8" y1="219.62" x2="592.1" y2="219.62" stroke="#fff" stroke-width="1.35"/>
<line x1="422.8" y1="229.58" x2="592.1" y2="229.58" stroke="#fff" stroke-width="1.35"/>
<line x1="422.8" y1="239.54" x2="592.1" y2="239.54" stroke="#fff" stroke-width="1.35"/>
<line x1="422.8" y1="249.50" x2="592.1" y2="249.50" stroke="#fff" stroke-width="1.35"/>
<line x1="422.8" y1="259.46" x2="592.1" y2="259.46" stroke="#fff" stroke-width="1.35"/>
<line x1="422.8" y1="269.43" x2="592.1" y2="269.43" stroke="#fff" stroke-width="1.35"/>
<line x1="422.8" y1="279.39" x2="592.1" y2="279.39" stroke="#fff" stroke-width="1.35"/>
<line x1="422.8" y1="289.35" x2="592.1" y2="289.35" stroke="#fff" stroke-width="1.35"/>
<line x1="422.8" y1="299.31" x2="592.1" y2="299.31" stroke="#fff" stroke-width="1.35"/>
<line x1="422.8" y1="309.27" x2="592.1" y2="309.27" stroke="#fff" stroke-width="1.35"/>
<line x1="422.8" y1="319.24" x2="592.1" y2="319.24" stroke="#fff" stroke-width="1.35"/>
<line x1="422.8" y1="329.20" x2="592.1" y2="329.20" stroke="#fff" stroke-width="1.35"/>
<line x1="422.8" y1="339.16" x2="592.1" y2="339.16" stroke="#fff" stroke-width="1.35"/>
<line x1="422.8" y1="349.12" x2="592.1" y2="349.12" stroke="#fff" stroke-width="1.35"/>
<line x1="422.8" y1="359.08" x2="592.1" y2="359.08" stroke="#fff" stroke-width="1.35"/>
<line x1="422.8" y1="369.05" x2="592.1" y2="369.05" stroke="#fff" stroke-width="1.35"/>
<line x1="422.8" y1="379.01" x2="592.1" y2="379.01" stroke="#fff" stroke-width="1.35"/>
<line x1="422.8" y1="388.97" x2="592.1" y2="388.97" stroke="#fff" stroke-width="1.35"/>
<line x1="422.8" y1="398.93" x2="592.1" y2="398.93" stroke="#fff" stroke-width="1.35"/>
<line x1="422.8" y1="408.89" x2="592.1" y2="408.89" stroke="#fff" stroke-width="1.35"/>
<line x1="422.8" y1="418.86" x2="592.1" y2="418.86" stroke="#fff" stroke-width="1.35"/>
<line x1="422.8" y1="428.82" x2="592.1" y2="428.82" stroke="#fff" stroke-width="1.35"/>
<line x1="422.8" y1="438.78" x2="592.1" y2="438.78" stroke="#fff" stroke-width="1.35"/>
<line x1="422.8" y1="448.74" x2="592.1" y2="448.74" stroke="#fff" stroke-width="1.35"/>
<line x1="422.8" y1="458.70" x2="592.1" y2="458.70" stroke="#fff" stroke-width="1.35"/>
<line x1="422.8" y1="468.67" x2="592.1" y2="468.67" stroke="#fff" stroke-width="1.35"/>
<line x1="422.8" y1="478.63" x2="592.1" y2="478.63" stroke="#fff" stroke-width="1.35"/>
<line x1="469.0" y1="34.5" x2="469.0" y2="484.7" stroke="#fff" stroke-width="1.35"/>
<line x1="546.0" y1="34.5" x2="546.0" y2="484.7" stroke="#fff" stroke-width="1.35"/>
<circle cx="469.4" cy="40.30" r="5.1" fill="#D6287F"/>
<circle cx="469.4" cy="50.26" r="4.7" fill="#BE2BB0"/>
<circle cx="469.4" cy="60.22" r="4.3" fill="#A822DA"/>
<circle cx="469.4" cy="70.19" r="4.3" fill="#A622DE"/>
<circle cx="469.4" cy="80.15" r="4.2" fill="#A422E4"/>
<circle cx="469.4" cy="90.11" r="4.2" fill="#A020EA"/>
<circle cx="469.4" cy="100.07" r="4.2" fill="#A020EC"/>
<circle cx="469.4" cy="110.03" r="4.2" fill="#A020EE"/>
<circle cx="469.4" cy="120.00" r="4.7" fill="#A01EEE"/>
<circle cx="469.4" cy="129.96" r="3.65" fill="#9C1CF0"/>
<circle cx="469.4" cy="139.92" r="3.75" fill="#981EF0"/>
<circle cx="469.4" cy="149.88" r="3.75" fill="#901AF2"/>
<circle cx="469.4" cy="159.84" r="3.4" fill="#8A12F4"/>
<circle cx="469.4" cy="169.81" r="3.4" fill="#7A10F5"/>
<circle cx="469.4" cy="179.77" r="3.0" fill="#6A0CF6"/>
<circle cx="469.4" cy="189.73" r="3.7" fill="#640CF6"/>
<circle cx="469.4" cy="199.69" r="2.65" fill="#4A08F8"/>
<circle cx="469.4" cy="209.65" r="2.65" fill="#4608F8"/>
<circle cx="469.4" cy="219.62" r="2.65" fill="#4008F9"/>
<circle cx="469.4" cy="229.58" r="2.65" fill="#3A06FA"/>
<circle cx="469.4" cy="239.54" r="2.35" fill="#3606FA"/>
<circle cx="469.4" cy="458.70" r="4.4" fill="#A81EE0"/>
<circle cx="469.4" cy="478.63" r="4.1" fill="#A81EE0"/>
<circle cx="547.5" cy="249.50" r="7.85" fill="#FF200E"/>
<circle cx="547.5" cy="259.46" r="6.85" fill="#EE2450"/>
<circle cx="547.5" cy="269.43" r="6.6" fill="#BB2AB0"/>
<circle cx="546.6" cy="279.39" r="4.1" fill="#A020EE"/>
<circle cx="546.6" cy="289.35" r="4.8" fill="#9A1CF0"/>
<circle cx="546.6" cy="299.31" r="5.25" fill="#9418F2"/>
<circle cx="546.6" cy="309.27" r="4.45" fill="#7010F6"/>
<circle cx="546.6" cy="319.24" r="4.6" fill="#7010F6"/>
<circle cx="546.6" cy="329.20" r="4.3" fill="#700EF6"/>
<circle cx="546.6" cy="339.16" r="3.5" fill="#700EF6"/>
<circle cx="546.6" cy="349.12" r="2.9" fill="#6A0CF6"/>
<circle cx="546.6" cy="359.08" r="4.45" fill="#6A0CF6"/>
<circle cx="546.6" cy="369.05" r="3.45" fill="#5008F8"/>
<circle cx="546.6" cy="379.01" r="3.45" fill="#4A08F8"/>
<circle cx="546.6" cy="388.97" r="3.65" fill="#4A08F8"/>
<circle cx="546.6" cy="398.93" r="3.65" fill="#4A08F8"/>
<circle cx="546.6" cy="408.89" r="2.3" fill="#3A06FA"/>
<circle cx="546.6" cy="418.86" r="3.8" fill="#3A06FA"/>
<circle cx="546.6" cy="428.82" r="3.5" fill="#3004FB"/>
<circle cx="546.6" cy="438.78" r="3.5" fill="#2A04FB"/>
<circle cx="546.6" cy="448.74" r="3.5" fill="#2604FC"/>
<circle cx="546.6" cy="458.70" r="3.5" fill="#2204FC"/>
<circle cx="546.6" cy="468.67" r="3.2" fill="#2004FC"/>
<circle cx="546.6" cy="478.63" r="2.6" fill="#1A02FD"/>
<line x1="420.2" y1="40.30" x2="422.8" y2="40.30" stroke="#222" stroke-width="1.25"/>
<text x="418.0" y="43.80" font-size="8.67" text-anchor="end" fill="#444">visual perception</text>
<line x1="420.2" y1="50.26" x2="422.8" y2="50.26" stroke="#222" stroke-width="1.25"/>
<text x="418.0" y="53.76" font-size="8.67" text-anchor="end" fill="#444">photoreceptor outer segment</text>
<line x1="420.2" y1="60.22" x2="422.8" y2="60.22" stroke="#222" stroke-width="1.25"/>
<text x="418.0" y="63.72" font-size="8.67" text-anchor="end" fill="#444">detection of light stimulus</text>
<line x1="420.2" y1="70.19" x2="422.8" y2="70.19" stroke="#222" stroke-width="1.25"/>
<text x="418.0" y="73.69" font-size="8.67" text-anchor="end" fill="#444">photoreceptor cell differentiation</text>
<line x1="420.2" y1="80.15" x2="422.8" y2="80.15" stroke="#222" stroke-width="1.25"/>
<text x="418.0" y="83.65" font-size="8.67" text-anchor="end" fill="#444">photoreceptor cell development</text>
<line x1="420.2" y1="90.11" x2="422.8" y2="90.11" stroke="#222" stroke-width="1.25"/>
<text x="418.0" y="93.61" font-size="8.67" text-anchor="end" fill="#444">retina homeostasis</text>
<line x1="420.2" y1="100.07" x2="422.8" y2="100.07" stroke="#222" stroke-width="1.25"/>
<text x="418.0" y="103.57" font-size="8.67" text-anchor="end" fill="#444">photoreceptor cell maintenance</text>
<line x1="420.2" y1="110.03" x2="422.8" y2="110.03" stroke="#222" stroke-width="1.25"/>
<text x="418.0" y="113.53" font-size="8.67" text-anchor="end" fill="#444">eye photoreceptor cell differentiation</text>
<line x1="420.2" y1="120.00" x2="422.8" y2="120.00" stroke="#222" stroke-width="1.25"/>
<text x="418.0" y="123.50" font-size="8.67" text-anchor="end" fill="#444">response to light stimulus</text>
<line x1="420.2" y1="129.96" x2="422.8" y2="129.96" stroke="#222" stroke-width="1.25"/>
<text x="418.0" y="133.46" font-size="8.67" text-anchor="end" fill="#444">phototransduction</text>
<line x1="420.2" y1="139.92" x2="422.8" y2="139.92" stroke="#222" stroke-width="1.25"/>
<text x="418.0" y="143.42" font-size="8.67" text-anchor="end" fill="#444">eye photoreceptor cell development</text>
<line x1="420.2" y1="149.88" x2="422.8" y2="149.88" stroke="#222" stroke-width="1.25"/>
<text x="418.0" y="153.38" font-size="8.67" text-anchor="end" fill="#444">detection of visible light</text>
<line x1="420.2" y1="159.84" x2="422.8" y2="159.84" stroke="#222" stroke-width="1.25"/>
<text x="418.0" y="163.34" font-size="8.67" text-anchor="end" fill="#444">photoreceptor outer segment membrane</text>
<line x1="420.2" y1="169.81" x2="422.8" y2="169.81" stroke="#222" stroke-width="1.25"/>
<text x="418.0" y="173.31" font-size="8.67" text-anchor="end" fill="#444">camera−type eye photoreceptor cell differentiation</text>
<line x1="420.2" y1="179.77" x2="422.8" y2="179.77" stroke="#222" stroke-width="1.25"/>
<text x="418.0" y="183.27" font-size="8.67" text-anchor="end" fill="#444">retinal cone cell differentiation</text>
<line x1="420.2" y1="189.73" x2="422.8" y2="189.73" stroke="#222" stroke-width="1.25"/>
<text x="418.0" y="193.23" font-size="8.67" text-anchor="end" fill="#444">Rab GTPase binding</text>
<line x1="420.2" y1="199.69" x2="422.8" y2="199.69" stroke="#222" stroke-width="1.25"/>
<text x="418.0" y="203.19" font-size="8.67" text-anchor="end" fill="#444">rhodopsin mediated signaling pathway</text>
<line x1="420.2" y1="209.65" x2="422.8" y2="209.65" stroke="#222" stroke-width="1.25"/>
<text x="418.0" y="213.15" font-size="8.67" text-anchor="end" fill="#444">retinal bipolar neuron differentiation</text>
<line x1="420.2" y1="219.62" x2="422.8" y2="219.62" stroke="#222" stroke-width="1.25"/>
<text x="418.0" y="223.12" font-size="8.67" text-anchor="end" fill="#444">retinal cone cell development</text>
<line x1="420.2" y1="229.58" x2="422.8" y2="229.58" stroke="#222" stroke-width="1.25"/>
<text x="418.0" y="233.08" font-size="8.67" text-anchor="end" fill="#444">retina layer formation</text>
<line x1="420.2" y1="239.54" x2="422.8" y2="239.54" stroke="#222" stroke-width="1.25"/>
<text x="418.0" y="243.04" font-size="8.67" text-anchor="end" fill="#444">photoreceptor cell outer segment organization</text>
<line x1="420.2" y1="249.50" x2="422.8" y2="249.50" stroke="#222" stroke-width="1.25"/>
<text x="418.0" y="253.00" font-size="8.67" text-anchor="end" fill="#444">immune system process</text>
<line x1="420.2" y1="259.46" x2="422.8" y2="259.46" stroke="#222" stroke-width="1.25"/>
<text x="418.0" y="262.96" font-size="8.67" text-anchor="end" fill="#444">immune response</text>
<line x1="420.2" y1="269.43" x2="422.8" y2="269.43" stroke="#222" stroke-width="1.25"/>
<text x="418.0" y="272.93" font-size="8.67" text-anchor="end" fill="#444">cell adhesion</text>
<line x1="420.2" y1="279.39" x2="422.8" y2="279.39" stroke="#222" stroke-width="1.25"/>
<text x="418.0" y="282.89" font-size="8.67" text-anchor="end" fill="#444">toll−like receptor signaling pathway</text>
<line x1="420.2" y1="289.35" x2="422.8" y2="289.35" stroke="#222" stroke-width="1.25"/>
<text x="418.0" y="292.85" font-size="8.67" text-anchor="end" fill="#444">cytokine−mediated signaling pathway</text>
<line x1="420.2" y1="299.31" x2="422.8" y2="299.31" stroke="#222" stroke-width="1.25"/>
<text x="418.0" y="302.81" font-size="8.67" text-anchor="end" fill="#444">MAPK cascade</text>
<line x1="420.2" y1="309.27" x2="422.8" y2="309.27" stroke="#222" stroke-width="1.25"/>
<text x="418.0" y="312.77" font-size="8.67" text-anchor="end" fill="#444">channel activity</text>
<line x1="420.2" y1="319.24" x2="422.8" y2="319.24" stroke="#222" stroke-width="1.25"/>
<text x="418.0" y="322.74" font-size="8.67" text-anchor="end" fill="#444">apoptotic signaling pathway</text>
<line x1="420.2" y1="329.20" x2="422.8" y2="329.20" stroke="#222" stroke-width="1.25"/>
<text x="418.0" y="332.70" font-size="8.67" text-anchor="end" fill="#444">Wnt signaling pathway</text>
<line x1="420.2" y1="339.16" x2="422.8" y2="339.16" stroke="#222" stroke-width="1.25"/>
<text x="418.0" y="342.66" font-size="8.67" text-anchor="end" fill="#444">cytokine receptor activity</text>
<line x1="420.2" y1="349.12" x2="422.8" y2="349.12" stroke="#222" stroke-width="1.25"/>
<text x="418.0" y="352.62" font-size="8.67" text-anchor="end" fill="#444">toll−like receptor 9 signaling pathway</text>
<line x1="420.2" y1="359.08" x2="422.8" y2="359.08" stroke="#222" stroke-width="1.25"/>
<text x="418.0" y="362.58" font-size="8.67" text-anchor="end" fill="#444">synaptic signaling</text>
<line x1="420.2" y1="369.05" x2="422.8" y2="369.05" stroke="#222" stroke-width="1.25"/>
<text x="418.0" y="372.55" font-size="8.67" text-anchor="end" fill="#444">BMP signaling pathway</text>
<line x1="420.2" y1="379.01" x2="422.8" y2="379.01" stroke="#222" stroke-width="1.25"/>
<text x="418.0" y="382.51" font-size="8.67" text-anchor="end" fill="#444">calcium−mediated signaling</text>
<line x1="420.2" y1="388.97" x2="422.8" y2="388.97" stroke="#222" stroke-width="1.25"/>
<text x="418.0" y="392.47" font-size="8.67" text-anchor="end" fill="#444">I−kappaB kinase/NF−kappaB signaling</text>
<line x1="420.2" y1="398.93" x2="422.8" y2="398.93" stroke="#222" stroke-width="1.25"/>
<text x="418.0" y="402.43" font-size="8.67" text-anchor="end" fill="#444">Ras protein signal transduction</text>
<line x1="420.2" y1="408.89" x2="422.8" y2="408.89" stroke="#222" stroke-width="1.25"/>
<text x="418.0" y="412.39" font-size="8.67" text-anchor="end" fill="#444">toll−like receptor 7 signaling pathway</text>
<line x1="420.2" y1="418.86" x2="422.8" y2="418.86" stroke="#222" stroke-width="1.25"/>
<text x="418.0" y="422.36" font-size="8.67" text-anchor="end" fill="#444">eye development</text>
<line x1="420.2" y1="428.82" x2="422.8" y2="428.82" stroke="#222" stroke-width="1.25"/>
<text x="418.0" y="432.32" font-size="8.67" text-anchor="end" fill="#444">Rho protein signal transduction</text>
<line x1="420.2" y1="438.78" x2="422.8" y2="438.78" stroke="#222" stroke-width="1.25"/>
<text x="418.0" y="442.28" font-size="8.67" text-anchor="end" fill="#444">voltage−gated channel activity</text>
<line x1="420.2" y1="448.74" x2="422.8" y2="448.74" stroke="#222" stroke-width="1.25"/>
<text x="418.0" y="452.24" font-size="8.67" text-anchor="end" fill="#444">JNK cascade</text>
<line x1="420.2" y1="458.70" x2="422.8" y2="458.70" stroke="#222" stroke-width="1.25"/>
<text x="418.0" y="462.20" font-size="8.67" text-anchor="end" fill="#444">retina development in camera−type eye</text>
<line x1="420.2" y1="468.67" x2="422.8" y2="468.67" stroke="#222" stroke-width="1.25"/>
<text x="418.0" y="472.17" font-size="8.67" text-anchor="end" fill="#444">synaptic vesicle cycle</text>
<line x1="420.2" y1="478.63" x2="422.8" y2="478.63" stroke="#222" stroke-width="1.25"/>
<text x="418.0" y="482.13" font-size="8.67" text-anchor="end" fill="#444">photoreceptor inner segment</text>
<line x1="469.0" y1="484.7" x2="469.0" y2="487.5" stroke="#222" stroke-width="1.25"/>
<text x="469.0" y="495.9" font-size="8.7" text-anchor="middle" fill="#444">Down</text>
<line x1="546.0" y1="484.7" x2="546.0" y2="487.5" stroke="#222" stroke-width="1.25"/>
<text x="546.0" y="495.9" font-size="8.7" text-anchor="middle" fill="#444">Up</text>
<text x="608.5" y="175.1" font-size="10.4" fill="#111">− log<tspan font-size="7.9" dy="2.6">10</tspan><tspan dy="-2.6"> (P value)</tspan></text>
<defs><linearGradient id="cb" x1="0" x2="0" y1="1" y2="0"><stop offset="0" stop-color="#1a08ff"/><stop offset="0.15" stop-color="#7a12f6"/><stop offset="0.3" stop-color="#a020e0"/><stop offset="0.5" stop-color="#c0289e"/><stop offset="0.75" stop-color="#e02460"/><stop offset="1" stop-color="#ff1e1a"/></linearGradient></defs>
<rect x="608" y="183.6" width="16.4" height="83.2" fill="url(#cb)"/>
<line x1="608" y1="254.30" x2="611.3" y2="254.30" stroke="#fff" stroke-width="0.7"/>
<line x1="621.1" y1="254.30" x2="624.4" y2="254.30" stroke="#fff" stroke-width="0.7"/>
<text x="629.8" y="257.70" font-size="8.4" fill="#333">10</text>
<line x1="608" y1="239.43" x2="611.3" y2="239.43" stroke="#fff" stroke-width="0.7"/>
<line x1="621.1" y1="239.43" x2="624.4" y2="239.43" stroke="#fff" stroke-width="0.7"/>
<text x="629.8" y="242.83" font-size="8.4" fill="#333">20</text>
<line x1="608" y1="224.55" x2="611.3" y2="224.55" stroke="#fff" stroke-width="0.7"/>
<line x1="621.1" y1="224.55" x2="624.4" y2="224.55" stroke="#fff" stroke-width="0.7"/>
<text x="629.8" y="227.95" font-size="8.4" fill="#333">30</text>
<line x1="608" y1="209.68" x2="611.3" y2="209.68" stroke="#fff" stroke-width="0.7"/>
<line x1="621.1" y1="209.68" x2="624.4" y2="209.68" stroke="#fff" stroke-width="0.7"/>
<text x="629.8" y="213.08" font-size="8.4" fill="#333">40</text>
<line x1="608" y1="194.80" x2="611.3" y2="194.80" stroke="#fff" stroke-width="0.7"/>
<line x1="621.1" y1="194.80" x2="624.4" y2="194.80" stroke="#fff" stroke-width="0.7"/>
<text x="629.8" y="198.20" font-size="8.4" fill="#333">50</text>
<text x="608.3" y="296.9" font-size="10.4" fill="#111">Input_number</text>
<circle cx="617.7" cy="311.3" r="5.36" fill="#000"/>
<text x="629.9" y="314.70" font-size="8.4" fill="#333">50</text>
<circle cx="617.7" cy="328.1" r="6.86" fill="#000"/>
<text x="629.9" y="331.50" font-size="8.4" fill="#333">100</text>
<circle cx="617.7" cy="345.0" r="7.9" fill="#000"/>
<text x="629.9" y="348.40" font-size="8.4" fill="#333">150</text>
</svg>
</body></html>
